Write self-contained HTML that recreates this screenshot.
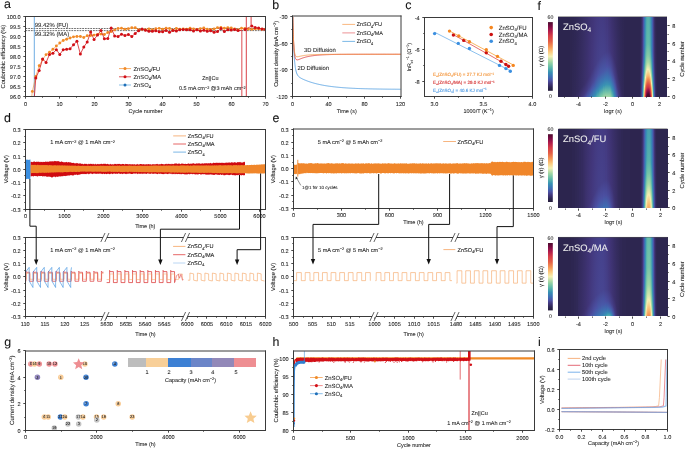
<!DOCTYPE html>
<html><head><meta charset="utf-8"><style>
html,body{margin:0;padding:0;background:#fff;width:685px;height:449px;overflow:hidden}
svg{display:block;will-change:transform}
text{font-family:"Liberation Sans", sans-serif;text-rendering:geometricPrecision;stroke-width:0.07px;paint-order:stroke}
</style></head><body>
<svg width="685" height="449" viewBox="0 0 685 449" font-family="Liberation Sans, sans-serif">
<defs><clipPath id="clipA"><rect x="25.5" y="16.5" width="240.0" height="80.2"/></clipPath><clipPath id="clipB"><rect x="292.8" y="16.5" width="108.0" height="80.0"/></clipPath><clipPath id="clipD2"><rect x="25.2" y="237.2" width="240.3" height="79.40000000000003"/></clipPath><clipPath id="clipE2"><rect x="293.4" y="237.3" width="239.89999999999998" height="79.30000000000001"/></clipPath><linearGradient id="h1" x1="0" y1="0" x2="0" y2="1"><stop offset="0" stop-color="#2d2651"/><stop offset="1" stop-color="#2f2855"/></linearGradient><linearGradient id="h2" x1="0" y1="0" x2="0" y2="1"><stop offset="0" stop-color="#2e2753"/><stop offset="0.98" stop-color="#302957"/><stop offset="1" stop-color="#322a5a"/></linearGradient><linearGradient id="h3" x1="0" y1="0" x2="0" y2="1"><stop offset="0" stop-color="#2f2855"/><stop offset="0.95" stop-color="#322a5a"/><stop offset="1" stop-color="#352c60"/></linearGradient><linearGradient id="h4" x1="0" y1="0" x2="0" y2="1"><stop offset="0" stop-color="#302857"/><stop offset="0.94" stop-color="#322a5b"/><stop offset="1" stop-color="#372d64"/></linearGradient><linearGradient id="h5" x1="0" y1="0" x2="0" y2="1"><stop offset="0" stop-color="#312958"/><stop offset="0.93" stop-color="#332b5d"/><stop offset="1" stop-color="#392f68"/></linearGradient><linearGradient id="h6" x1="0" y1="0" x2="0" y2="1"><stop offset="0" stop-color="#322a5a"/><stop offset="0.91" stop-color="#342c5f"/><stop offset="1" stop-color="#3b316d"/></linearGradient><linearGradient id="h7" x1="0" y1="0" x2="0" y2="1"><stop offset="0" stop-color="#332a5c"/><stop offset="0.9" stop-color="#352c61"/><stop offset="1" stop-color="#3e3372"/></linearGradient><linearGradient id="h8" x1="0" y1="0" x2="0" y2="1"><stop offset="0" stop-color="#342b5e"/><stop offset="0.88" stop-color="#362d63"/><stop offset="1" stop-color="#413578"/></linearGradient><linearGradient id="h9" x1="0" y1="0" x2="0" y2="1"><stop offset="0" stop-color="#352c60"/><stop offset="0.87" stop-color="#372e65"/><stop offset="0.99" stop-color="#42377b"/><stop offset="1" stop-color="#433980"/></linearGradient><linearGradient id="h10" x1="0" y1="0" x2="0" y2="1"><stop offset="0" stop-color="#362d62"/><stop offset="0.85" stop-color="#382f67"/><stop offset="0.97" stop-color="#42377c"/><stop offset="1" stop-color="#453f88"/></linearGradient><linearGradient id="h11" x1="0" y1="0" x2="0" y2="1"><stop offset="0" stop-color="#372e64"/><stop offset="0.84" stop-color="#3a306a"/><stop offset="0.96" stop-color="#43397f"/><stop offset="1" stop-color="#474591"/></linearGradient><linearGradient id="h12" x1="0" y1="0" x2="0" y2="1"><stop offset="0" stop-color="#382e67"/><stop offset="0.82" stop-color="#3b316c"/><stop offset="0.94" stop-color="#433a80"/><stop offset="1" stop-color="#494b9a"/></linearGradient><linearGradient id="h13" x1="0" y1="0" x2="0" y2="1"><stop offset="0" stop-color="#392f69"/><stop offset="0.8" stop-color="#3c316f"/><stop offset="0.93" stop-color="#443c84"/><stop offset="1" stop-color="#4b52a5"/></linearGradient><linearGradient id="h14" x1="0" y1="0" x2="0" y2="1"><stop offset="0" stop-color="#3a306b"/><stop offset="0.78" stop-color="#3d3271"/><stop offset="0.91" stop-color="#443e86"/><stop offset="0.99" stop-color="#4957a7"/><stop offset="1" stop-color="#4859a9"/></linearGradient><linearGradient id="h15" x1="0" y1="0" x2="0" y2="1"><stop offset="0" stop-color="#3c316e"/><stop offset="0.76" stop-color="#3f3374"/><stop offset="0.89" stop-color="#45408a"/><stop offset="0.98" stop-color="#4858a8"/><stop offset="1" stop-color="#4461ad"/></linearGradient><linearGradient id="h16" x1="0" y1="0" x2="0" y2="1"><stop offset="0" stop-color="#3d3270"/><stop offset="0.74" stop-color="#403477"/><stop offset="0.88" stop-color="#46428c"/><stop offset="0.96" stop-color="#4858a8"/><stop offset="1" stop-color="#4069b1"/></linearGradient><linearGradient id="h17" x1="0" y1="0" x2="0" y2="1"><stop offset="0" stop-color="#3e3373"/><stop offset="0.72" stop-color="#413579"/><stop offset="0.86" stop-color="#46438f"/><stop offset="0.94" stop-color="#4859a8"/><stop offset="1" stop-color="#3d72b4"/></linearGradient><linearGradient id="h18" x1="0" y1="0" x2="0" y2="1"><stop offset="0" stop-color="#3f3475"/><stop offset="0.69" stop-color="#42377c"/><stop offset="0.84" stop-color="#474591"/><stop offset="0.91" stop-color="#4957a8"/><stop offset="0.99" stop-color="#3c77b4"/><stop offset="1" stop-color="#3b7ab4"/></linearGradient><linearGradient id="h19" x1="0" y1="0" x2="0" y2="1"><stop offset="0" stop-color="#403577"/><stop offset="0.67" stop-color="#43387e"/><stop offset="0.82" stop-color="#484794"/><stop offset="0.89" stop-color="#4858a8"/><stop offset="0.98" stop-color="#3b78b4"/><stop offset="1" stop-color="#3982b4"/></linearGradient><linearGradient id="h20" x1="0" y1="0" x2="0" y2="1"><stop offset="0" stop-color="#413579"/><stop offset="0.65" stop-color="#433a81"/><stop offset="0.81" stop-color="#494998"/><stop offset="0.88" stop-color="#475baa"/><stop offset="0.96" stop-color="#3b7bb4"/><stop offset="1" stop-color="#388bb4"/></linearGradient><linearGradient id="h21" x1="0" y1="0" x2="0" y2="1"><stop offset="0" stop-color="#42377b"/><stop offset="0.62" stop-color="#443c83"/><stop offset="0.79" stop-color="#494b9b"/><stop offset="0.87" stop-color="#455eab"/><stop offset="0.95" stop-color="#3a7db4"/><stop offset="1" stop-color="#3a94b3"/></linearGradient><linearGradient id="h22" x1="0" y1="0" x2="0" y2="1"><stop offset="0" stop-color="#42387d"/><stop offset="0.6" stop-color="#443d85"/><stop offset="0.77" stop-color="#4a4d9d"/><stop offset="0.88" stop-color="#4068b0"/><stop offset="0.98" stop-color="#3791b3"/><stop offset="1" stop-color="#449eb0"/></linearGradient><linearGradient id="h23" x1="0" y1="0" x2="0" y2="1"><stop offset="0" stop-color="#43397f"/><stop offset="0.58" stop-color="#453e87"/><stop offset="0.75" stop-color="#4a4e9f"/><stop offset="0.89" stop-color="#3c73b4"/><stop offset="0.96" stop-color="#3a94b3"/><stop offset="1" stop-color="#4ea8ae"/></linearGradient><linearGradient id="h24" x1="0" y1="0" x2="0" y2="1"><stop offset="0" stop-color="#433a80"/><stop offset="0.56" stop-color="#454089"/><stop offset="0.73" stop-color="#4b4fa1"/><stop offset="0.88" stop-color="#3c75b4"/><stop offset="0.94" stop-color="#3993b3"/><stop offset="1" stop-color="#58b2ab"/></linearGradient><linearGradient id="h25" x1="0" y1="0" x2="0" y2="1"><stop offset="0" stop-color="#433a81"/><stop offset="0.54" stop-color="#45408a"/><stop offset="0.71" stop-color="#4b50a2"/><stop offset="0.86" stop-color="#3c75b4"/><stop offset="0.93" stop-color="#3892b3"/><stop offset="1" stop-color="#62baa9"/></linearGradient><linearGradient id="h26" x1="0" y1="0" x2="0" y2="1"><stop offset="0" stop-color="#433b82"/><stop offset="0.52" stop-color="#46418b"/><stop offset="0.73" stop-color="#4956a7"/><stop offset="0.86" stop-color="#3b7bb4"/><stop offset="0.91" stop-color="#3993b3"/><stop offset="1" stop-color="#6fc0a8"/></linearGradient><linearGradient id="h27" x1="0" y1="0" x2="0" y2="1"><stop offset="0" stop-color="#443b82"/><stop offset="0.51" stop-color="#46428c"/><stop offset="0.71" stop-color="#4858a8"/><stop offset="0.84" stop-color="#3b7cb4"/><stop offset="0.9" stop-color="#3a94b3"/><stop offset="0.98" stop-color="#6dbfa8"/><stop offset="1" stop-color="#7bc5a7"/></linearGradient><linearGradient id="h28" x1="0" y1="0" x2="0" y2="1"><stop offset="0" stop-color="#443b82"/><stop offset="0.49" stop-color="#46428c"/><stop offset="0.7" stop-color="#4858a8"/><stop offset="0.83" stop-color="#3a7db4"/><stop offset="0.89" stop-color="#3a94b3"/><stop offset="0.97" stop-color="#6ec0a8"/><stop offset="1" stop-color="#85caa7"/></linearGradient><linearGradient id="h29" x1="0" y1="0" x2="0" y2="1"><stop offset="0" stop-color="#433b82"/><stop offset="0.48" stop-color="#46428c"/><stop offset="0.69" stop-color="#4859a8"/><stop offset="0.82" stop-color="#3a7db4"/><stop offset="0.88" stop-color="#3a94b3"/><stop offset="0.96" stop-color="#6dbfa8"/><stop offset="1" stop-color="#8fcfa6"/></linearGradient><linearGradient id="h30" x1="0" y1="0" x2="0" y2="1"><stop offset="0" stop-color="#433b81"/><stop offset="0.46" stop-color="#46418c"/><stop offset="0.68" stop-color="#4858a8"/><stop offset="0.81" stop-color="#3b7cb4"/><stop offset="0.86" stop-color="#3993b3"/><stop offset="0.94" stop-color="#6bbea9"/><stop offset="1" stop-color="#97d3a5"/></linearGradient><linearGradient id="h31" x1="0" y1="0" x2="0" y2="1"><stop offset="0" stop-color="#433a80"/><stop offset="0.46" stop-color="#46418b"/><stop offset="0.67" stop-color="#4859a8"/><stop offset="0.79" stop-color="#3b7bb4"/><stop offset="0.86" stop-color="#3993b3"/><stop offset="0.94" stop-color="#6cbfa8"/><stop offset="1" stop-color="#9dd5a5"/></linearGradient><linearGradient id="h32" x1="0" y1="0" x2="0" y2="1"><stop offset="0" stop-color="#43397e"/><stop offset="0.44" stop-color="#454089"/><stop offset="0.66" stop-color="#4957a7"/><stop offset="0.79" stop-color="#3b7cb4"/><stop offset="0.85" stop-color="#3993b3"/><stop offset="0.93" stop-color="#6bbea9"/><stop offset="1" stop-color="#a3d7a5"/></linearGradient><linearGradient id="h33" x1="0" y1="0" x2="0" y2="1"><stop offset="0" stop-color="#42377c"/><stop offset="0.44" stop-color="#453e87"/><stop offset="0.62" stop-color="#4b50a3"/><stop offset="0.78" stop-color="#3b79b4"/><stop offset="0.85" stop-color="#3b95b2"/><stop offset="0.93" stop-color="#68bda9"/><stop offset="1" stop-color="#a6d8a6"/></linearGradient><linearGradient id="h34" x1="0" y1="0" x2="0" y2="1"><stop offset="0" stop-color="#403577"/><stop offset="0.43" stop-color="#443b82"/><stop offset="0.61" stop-color="#4a4d9e"/><stop offset="0.78" stop-color="#3c76b4"/><stop offset="0.85" stop-color="#3a94b3"/><stop offset="0.93" stop-color="#69bda9"/><stop offset="1" stop-color="#a6d8a6"/></linearGradient><linearGradient id="h35" x1="0" y1="0" x2="0" y2="1"><stop offset="0" stop-color="#3f3474"/><stop offset="0.43" stop-color="#43397f"/><stop offset="0.61" stop-color="#494b9b"/><stop offset="0.71" stop-color="#455fac"/><stop offset="0.81" stop-color="#3a80b4"/><stop offset="0.85" stop-color="#3892b3"/><stop offset="0.93" stop-color="#6bbea9"/><stop offset="1" stop-color="#a2d7a5"/></linearGradient><linearGradient id="h36" x1="0" y1="0" x2="0" y2="1"><stop offset="0" stop-color="#3e3372"/><stop offset="0.44" stop-color="#42377c"/><stop offset="0.62" stop-color="#494a99"/><stop offset="0.71" stop-color="#465caa"/><stop offset="0.81" stop-color="#3a7db4"/><stop offset="0.86" stop-color="#3892b3"/><stop offset="0.94" stop-color="#6abea9"/><stop offset="1" stop-color="#95d1a5"/></linearGradient><linearGradient id="h37" x1="0" y1="0" x2="0" y2="1"><stop offset="0" stop-color="#3c316e"/><stop offset="0.46" stop-color="#413579"/><stop offset="0.64" stop-color="#484896"/><stop offset="0.73" stop-color="#4859a9"/><stop offset="0.83" stop-color="#3b7bb4"/><stop offset="0.89" stop-color="#3993b3"/><stop offset="0.98" stop-color="#6fc0a8"/><stop offset="1" stop-color="#7fc8a7"/></linearGradient><linearGradient id="h38" x1="0" y1="0" x2="0" y2="1"><stop offset="0" stop-color="#3a306b"/><stop offset="0.48" stop-color="#403476"/><stop offset="0.66" stop-color="#474591"/><stop offset="0.76" stop-color="#4858a8"/><stop offset="0.86" stop-color="#3b7bb4"/><stop offset="0.92" stop-color="#3993b3"/><stop offset="1" stop-color="#63bba9"/></linearGradient><linearGradient id="h39" x1="0" y1="0" x2="0" y2="1"><stop offset="0" stop-color="#392f68"/><stop offset="0.51" stop-color="#3e3372"/><stop offset="0.69" stop-color="#46418c"/><stop offset="0.79" stop-color="#4957a8"/><stop offset="0.89" stop-color="#3b78b4"/><stop offset="0.96" stop-color="#3b95b2"/><stop offset="1" stop-color="#4ba5ae"/></linearGradient><linearGradient id="h40" x1="0" y1="0" x2="0" y2="1"><stop offset="0" stop-color="#372e65"/><stop offset="0.54" stop-color="#3c316f"/><stop offset="0.73" stop-color="#453f88"/><stop offset="0.84" stop-color="#4858a8"/><stop offset="0.94" stop-color="#3b79b4"/><stop offset="1" stop-color="#378db4"/></linearGradient><linearGradient id="h41" x1="0" y1="0" x2="0" y2="1"><stop offset="0" stop-color="#362d62"/><stop offset="0.58" stop-color="#3b306c"/><stop offset="0.77" stop-color="#443c84"/><stop offset="0.89" stop-color="#4957a7"/><stop offset="0.99" stop-color="#3c77b4"/><stop offset="1" stop-color="#3b78b4"/></linearGradient><linearGradient id="h42" x1="0" y1="0" x2="0" y2="1"><stop offset="0" stop-color="#352c60"/><stop offset="0.62" stop-color="#392f68"/><stop offset="0.82" stop-color="#433a80"/><stop offset="0.96" stop-color="#4858a8"/><stop offset="1" stop-color="#4264ae"/></linearGradient><linearGradient id="h43" x1="0" y1="0" x2="0" y2="1"><stop offset="0" stop-color="#332b5d"/><stop offset="0.68" stop-color="#372e65"/><stop offset="0.88" stop-color="#42387d"/><stop offset="1" stop-color="#4b51a4"/></linearGradient><linearGradient id="h44" x1="0" y1="0" x2="0" y2="1"><stop offset="0" stop-color="#322a5b"/><stop offset="0.74" stop-color="#362d62"/><stop offset="0.93" stop-color="#42367a"/><stop offset="1" stop-color="#46428d"/></linearGradient><linearGradient id="h45" x1="0" y1="0" x2="0" y2="1"><stop offset="0" stop-color="#312958"/><stop offset="0.79" stop-color="#352c60"/><stop offset="0.99" stop-color="#413578"/><stop offset="1" stop-color="#42367a"/></linearGradient><linearGradient id="h46" x1="0" y1="0" x2="0" y2="1"><stop offset="0" stop-color="#302856"/><stop offset="0.85" stop-color="#332b5d"/><stop offset="1" stop-color="#3b316d"/></linearGradient><linearGradient id="h47" x1="0" y1="0" x2="0" y2="1"><stop offset="0" stop-color="#2f2855"/><stop offset="0.91" stop-color="#322a5b"/><stop offset="1" stop-color="#362d63"/></linearGradient><linearGradient id="h48" x1="0" y1="0" x2="0" y2="1"><stop offset="0" stop-color="#2e2753"/><stop offset="0.96" stop-color="#312959"/><stop offset="1" stop-color="#332a5c"/></linearGradient><linearGradient id="h49" x1="0" y1="0" x2="0" y2="1"><stop offset="0" stop-color="#2e2752"/><stop offset="1" stop-color="#302957"/></linearGradient><linearGradient id="h50" x1="0" y1="0" x2="0" y2="1"><stop offset="0" stop-color="#2e2752"/><stop offset="0.8" stop-color="#332a5c"/><stop offset="1" stop-color="#372e65"/></linearGradient><linearGradient id="h51" x1="0" y1="0" x2="0" y2="1"><stop offset="0" stop-color="#352c60"/><stop offset="0.62" stop-color="#3a306a"/><stop offset="0.9" stop-color="#453f88"/><stop offset="1" stop-color="#484896"/></linearGradient><linearGradient id="h52" x1="0" y1="0" x2="0" y2="1"><stop offset="0" stop-color="#42367a"/><stop offset="0.49" stop-color="#443d86"/><stop offset="0.71" stop-color="#4b51a4"/><stop offset="0.92" stop-color="#3b78b4"/><stop offset="1" stop-color="#3986b4"/></linearGradient><linearGradient id="h53" x1="0" y1="0" x2="0" y2="1"><stop offset="0" stop-color="#4b52a5"/><stop offset="0.46" stop-color="#455eab"/><stop offset="0.7" stop-color="#3a7fb4"/><stop offset="0.78" stop-color="#3b95b2"/><stop offset="0.89" stop-color="#6bbea9"/><stop offset="1" stop-color="#a9d9a6"/></linearGradient><linearGradient id="h54" x1="0" y1="0" x2="0" y2="1"><stop offset="0" stop-color="#3c73b4"/><stop offset="0.42" stop-color="#3a80b4"/><stop offset="0.57" stop-color="#3a94b3"/><stop offset="0.7" stop-color="#61baa9"/><stop offset="0.8" stop-color="#a6d8a6"/><stop offset="0.87" stop-color="#f4efb3"/><stop offset="0.94" stop-color="#faba71"/><stop offset="1" stop-color="#f49354"/></linearGradient><linearGradient id="h55" x1="0" y1="0" x2="0" y2="1"><stop offset="0" stop-color="#3790b4"/><stop offset="0.36" stop-color="#429cb1"/><stop offset="0.54" stop-color="#60b9a9"/><stop offset="0.66" stop-color="#95d2a5"/><stop offset="0.72" stop-color="#cbe3ac"/><stop offset="0.76" stop-color="#f5efb3"/><stop offset="0.83" stop-color="#f9b56e"/><stop offset="0.87" stop-color="#f28e52"/><stop offset="0.92" stop-color="#e25a46"/><stop offset="0.97" stop-color="#d23a48"/><stop offset="1" stop-color="#c02a4a"/></linearGradient><linearGradient id="h56" x1="0" y1="0" x2="0" y2="1"><stop offset="0" stop-color="#4ba5ae"/><stop offset="0.36" stop-color="#5ab4ab"/><stop offset="0.49" stop-color="#77c4a8"/><stop offset="0.6" stop-color="#a5d8a5"/><stop offset="0.69" stop-color="#f5edb0"/><stop offset="0.76" stop-color="#fabc73"/><stop offset="0.81" stop-color="#f38f53"/><stop offset="0.86" stop-color="#e05546"/><stop offset="0.9" stop-color="#d03848"/><stop offset="0.94" stop-color="#a0164a"/><stop offset="0.99" stop-color="#660b3a"/><stop offset="1" stop-color="#5c0a35"/></linearGradient><linearGradient id="h57" x1="0" y1="0" x2="0" y2="1"><stop offset="0" stop-color="#55afac"/><stop offset="0.33" stop-color="#62baa9"/><stop offset="0.48" stop-color="#83c9a7"/><stop offset="0.57" stop-color="#a8d9a6"/><stop offset="0.66" stop-color="#f5efb3"/><stop offset="0.74" stop-color="#fabc74"/><stop offset="0.78" stop-color="#f39153"/><stop offset="0.84" stop-color="#e05646"/><stop offset="0.88" stop-color="#d13948"/><stop offset="0.92" stop-color="#9e1549"/><stop offset="0.96" stop-color="#620b38"/><stop offset="0.98" stop-color="#4b0a2d"/><stop offset="1" stop-color="#4b0a2d"/></linearGradient><linearGradient id="h58" x1="0" y1="0" x2="0" y2="1"><stop offset="0" stop-color="#56b0ac"/><stop offset="0.33" stop-color="#63bba9"/><stop offset="0.48" stop-color="#84caa7"/><stop offset="0.57" stop-color="#aadaa6"/><stop offset="0.66" stop-color="#f5eeb1"/><stop offset="0.74" stop-color="#faba72"/><stop offset="0.78" stop-color="#f28e53"/><stop offset="0.84" stop-color="#e05446"/><stop offset="0.88" stop-color="#cf3748"/><stop offset="0.91" stop-color="#a4174a"/><stop offset="0.95" stop-color="#670b3b"/><stop offset="0.97" stop-color="#4c0a2d"/><stop offset="1" stop-color="#4b0a2d"/></linearGradient><linearGradient id="h59" x1="0" y1="0" x2="0" y2="1"><stop offset="0" stop-color="#50aaad"/><stop offset="0.35" stop-color="#5eb8aa"/><stop offset="0.5" stop-color="#81c8a7"/><stop offset="0.59" stop-color="#a9d9a6"/><stop offset="0.68" stop-color="#f4efb3"/><stop offset="0.75" stop-color="#fabc73"/><stop offset="0.79" stop-color="#f39053"/><stop offset="0.85" stop-color="#e05546"/><stop offset="0.89" stop-color="#d03848"/><stop offset="0.93" stop-color="#9e1549"/><stop offset="0.97" stop-color="#660b3a"/><stop offset="0.99" stop-color="#4b0a2d"/><stop offset="1" stop-color="#4b0a2d"/></linearGradient><linearGradient id="h60" x1="0" y1="0" x2="0" y2="1"><stop offset="0" stop-color="#3f99b1"/><stop offset="0.36" stop-color="#4da7ae"/><stop offset="0.51" stop-color="#66bca9"/><stop offset="0.63" stop-color="#9bd4a5"/><stop offset="0.71" stop-color="#dde9af"/><stop offset="0.73" stop-color="#f5edb0"/><stop offset="0.8" stop-color="#fab971"/><stop offset="0.84" stop-color="#f18b52"/><stop offset="0.89" stop-color="#e15846"/><stop offset="0.94" stop-color="#d03848"/><stop offset="0.99" stop-color="#a5174a"/><stop offset="1" stop-color="#9b1449"/></linearGradient><linearGradient id="h61" x1="0" y1="0" x2="0" y2="1"><stop offset="0" stop-color="#3a7eb4"/><stop offset="0.41" stop-color="#388bb4"/><stop offset="0.5" stop-color="#3d97b2"/><stop offset="0.64" stop-color="#61baa9"/><stop offset="0.74" stop-color="#9ed6a5"/><stop offset="0.83" stop-color="#f5eeb1"/><stop offset="0.9" stop-color="#f9b36c"/><stop offset="0.94" stop-color="#f28f53"/><stop offset="1" stop-color="#e45f46"/></linearGradient><linearGradient id="h62" x1="0" y1="0" x2="0" y2="1"><stop offset="0" stop-color="#455eab"/><stop offset="0.44" stop-color="#3f6ab2"/><stop offset="0.66" stop-color="#3888b4"/><stop offset="0.71" stop-color="#3a94b3"/><stop offset="0.82" stop-color="#68bda9"/><stop offset="0.91" stop-color="#aedba7"/><stop offset="0.99" stop-color="#f2efb3"/><stop offset="1" stop-color="#f5edb0"/></linearGradient><linearGradient id="h63" x1="0" y1="0" x2="0" y2="1"><stop offset="0" stop-color="#453f88"/><stop offset="0.46" stop-color="#484794"/><stop offset="0.66" stop-color="#475aa9"/><stop offset="0.84" stop-color="#3b7cb4"/><stop offset="0.93" stop-color="#3a94b3"/><stop offset="1" stop-color="#4ca6ae"/></linearGradient><linearGradient id="h64" x1="0" y1="0" x2="0" y2="1"><stop offset="0" stop-color="#382f67"/><stop offset="0.57" stop-color="#3e3372"/><stop offset="0.81" stop-color="#46438f"/><stop offset="0.96" stop-color="#4957a8"/><stop offset="1" stop-color="#475baa"/></linearGradient><linearGradient id="h65" x1="0" y1="0" x2="0" y2="1"><stop offset="0" stop-color="#302856"/><stop offset="0.73" stop-color="#342c5f"/><stop offset="1" stop-color="#3d3271"/></linearGradient><linearGradient id="h66" x1="0" y1="0" x2="0" y2="1"><stop offset="0" stop-color="#2d2650"/><stop offset="1" stop-color="#302857"/></linearGradient><linearGradient id="cbar" x1="0" y1="0" x2="0" y2="1"><stop offset="0" stop-color="rgb(75,10,45)"/><stop offset="0.06" stop-color="rgb(122,12,68)"/><stop offset="0.12" stop-color="rgb(172,25,76)"/><stop offset="0.2" stop-color="rgb(215,62,72)"/><stop offset="0.28" stop-color="rgb(228,95,70)"/><stop offset="0.36" stop-color="rgb(245,150,85)"/><stop offset="0.43" stop-color="rgb(252,200,125)"/><stop offset="0.5" stop-color="rgb(245,240,180)"/><stop offset="0.58" stop-color="rgb(160,215,165)"/><stop offset="0.66" stop-color="rgb(95,185,170)"/><stop offset="0.73" stop-color="rgb(55,145,180)"/><stop offset="0.8" stop-color="rgb(62,110,180)"/><stop offset="0.85" stop-color="rgb(76,82,165)"/><stop offset="0.9" stop-color="rgb(66,54,122)"/><stop offset="0.95" stop-color="rgb(46,39,82)"/><stop offset="1" stop-color="rgb(38,30,60)"/></linearGradient><linearGradient id="h67" x1="0" y1="0" x2="0" y2="1"><stop offset="0" stop-color="#392f68"/><stop offset="1" stop-color="#3b306c"/></linearGradient><linearGradient id="h68" x1="0" y1="0" x2="0" y2="1"><stop offset="0" stop-color="#3a306a"/><stop offset="1" stop-color="#3c326f"/></linearGradient><linearGradient id="h69" x1="0" y1="0" x2="0" y2="1"><stop offset="0" stop-color="#3b316d"/><stop offset="0.98" stop-color="#3e3372"/><stop offset="1" stop-color="#3e3373"/></linearGradient><linearGradient id="h70" x1="0" y1="0" x2="0" y2="1"><stop offset="0" stop-color="#3c326f"/><stop offset="0.96" stop-color="#3f3475"/><stop offset="1" stop-color="#413578"/></linearGradient><linearGradient id="h71" x1="0" y1="0" x2="0" y2="1"><stop offset="0" stop-color="#3e3372"/><stop offset="0.94" stop-color="#403577"/><stop offset="1" stop-color="#42377c"/></linearGradient><linearGradient id="h72" x1="0" y1="0" x2="0" y2="1"><stop offset="0" stop-color="#3f3474"/><stop offset="0.92" stop-color="#42367a"/><stop offset="1" stop-color="#433b82"/></linearGradient><linearGradient id="h73" x1="0" y1="0" x2="0" y2="1"><stop offset="0" stop-color="#403477"/><stop offset="0.89" stop-color="#42377c"/><stop offset="1" stop-color="#453f88"/></linearGradient><linearGradient id="h74" x1="0" y1="0" x2="0" y2="1"><stop offset="0" stop-color="#413579"/><stop offset="0.87" stop-color="#43397f"/><stop offset="1" stop-color="#46438e"/></linearGradient><linearGradient id="h75" x1="0" y1="0" x2="0" y2="1"><stop offset="0" stop-color="#42367b"/><stop offset="0.84" stop-color="#433a81"/><stop offset="1" stop-color="#484794"/></linearGradient><linearGradient id="h76" x1="0" y1="0" x2="0" y2="1"><stop offset="0" stop-color="#42387d"/><stop offset="0.82" stop-color="#443c83"/><stop offset="1" stop-color="#494b9b"/></linearGradient><linearGradient id="h77" x1="0" y1="0" x2="0" y2="1"><stop offset="0" stop-color="#43397f"/><stop offset="0.8" stop-color="#443d85"/><stop offset="0.97" stop-color="#4a4c9d"/><stop offset="1" stop-color="#4b50a2"/></linearGradient><linearGradient id="h78" x1="0" y1="0" x2="0" y2="1"><stop offset="0" stop-color="#433a80"/><stop offset="0.77" stop-color="#453e87"/><stop offset="0.95" stop-color="#4a4d9d"/><stop offset="1" stop-color="#4a55a6"/></linearGradient><linearGradient id="h79" x1="0" y1="0" x2="0" y2="1"><stop offset="0" stop-color="#433b82"/><stop offset="0.75" stop-color="#453f88"/><stop offset="0.94" stop-color="#4b4fa0"/><stop offset="1" stop-color="#4859a9"/></linearGradient><linearGradient id="h80" x1="0" y1="0" x2="0" y2="1"><stop offset="0" stop-color="#443b83"/><stop offset="0.73" stop-color="#45408a"/><stop offset="0.92" stop-color="#4b50a2"/><stop offset="1" stop-color="#455eab"/></linearGradient><linearGradient id="h81" x1="0" y1="0" x2="0" y2="1"><stop offset="0" stop-color="#443c83"/><stop offset="0.72" stop-color="#45408a"/><stop offset="0.9" stop-color="#4b50a2"/><stop offset="1" stop-color="#4362ad"/></linearGradient><linearGradient id="h82" x1="0" y1="0" x2="0" y2="1"><stop offset="0" stop-color="#443c84"/><stop offset="0.7" stop-color="#46418b"/><stop offset="0.89" stop-color="#4b51a3"/><stop offset="1" stop-color="#4166af"/></linearGradient><linearGradient id="h83" x1="0" y1="0" x2="0" y2="1"><stop offset="0" stop-color="#443c84"/><stop offset="0.68" stop-color="#46418b"/><stop offset="0.87" stop-color="#4b50a2"/><stop offset="1" stop-color="#4069b1"/></linearGradient><linearGradient id="h84" x1="0" y1="0" x2="0" y2="1"><stop offset="0" stop-color="#443b82"/><stop offset="0.66" stop-color="#45408a"/><stop offset="0.85" stop-color="#4b50a2"/><stop offset="1" stop-color="#3d6eb4"/></linearGradient><linearGradient id="h85" x1="0" y1="0" x2="0" y2="1"><stop offset="0" stop-color="#43397f"/><stop offset="0.65" stop-color="#453e87"/><stop offset="0.84" stop-color="#4a4e9f"/><stop offset="1" stop-color="#3d70b4"/></linearGradient><linearGradient id="h86" x1="0" y1="0" x2="0" y2="1"><stop offset="0" stop-color="#42367a"/><stop offset="0.65" stop-color="#433b82"/><stop offset="0.84" stop-color="#494b9b"/><stop offset="0.94" stop-color="#455fac"/><stop offset="1" stop-color="#3d6eb4"/></linearGradient><linearGradient id="h87" x1="0" y1="0" x2="0" y2="1"><stop offset="0" stop-color="#413578"/><stop offset="0.65" stop-color="#43397f"/><stop offset="0.84" stop-color="#494998"/><stop offset="0.94" stop-color="#475baa"/><stop offset="1" stop-color="#3f6ab1"/></linearGradient><linearGradient id="h88" x1="0" y1="0" x2="0" y2="1"><stop offset="0" stop-color="#3f3475"/><stop offset="0.67" stop-color="#42377c"/><stop offset="0.86" stop-color="#484896"/><stop offset="0.96" stop-color="#4859a9"/><stop offset="1" stop-color="#4362ad"/></linearGradient><linearGradient id="h89" x1="0" y1="0" x2="0" y2="1"><stop offset="0" stop-color="#3e3372"/><stop offset="0.69" stop-color="#413579"/><stop offset="0.89" stop-color="#474692"/><stop offset="0.99" stop-color="#4858a8"/><stop offset="1" stop-color="#4859a8"/></linearGradient><linearGradient id="h90" x1="0" y1="0" x2="0" y2="1"><stop offset="0" stop-color="#3c316f"/><stop offset="0.72" stop-color="#403476"/><stop offset="0.92" stop-color="#46438e"/><stop offset="1" stop-color="#4a4e9f"/></linearGradient><linearGradient id="h91" x1="0" y1="0" x2="0" y2="1"><stop offset="0" stop-color="#3a306b"/><stop offset="0.75" stop-color="#3e3373"/><stop offset="0.99" stop-color="#46438e"/><stop offset="1" stop-color="#474490"/></linearGradient><linearGradient id="h92" x1="0" y1="0" x2="0" y2="1"><stop offset="0" stop-color="#392f68"/><stop offset="0.8" stop-color="#3c326f"/><stop offset="1" stop-color="#433b81"/></linearGradient><linearGradient id="h93" x1="0" y1="0" x2="0" y2="1"><stop offset="0" stop-color="#372e65"/><stop offset="0.85" stop-color="#3b316c"/><stop offset="1" stop-color="#403476"/></linearGradient><linearGradient id="h94" x1="0" y1="0" x2="0" y2="1"><stop offset="0" stop-color="#362d62"/><stop offset="0.92" stop-color="#392f69"/><stop offset="1" stop-color="#3b316d"/></linearGradient><linearGradient id="h95" x1="0" y1="0" x2="0" y2="1"><stop offset="0" stop-color="#352c60"/><stop offset="1" stop-color="#382e66"/></linearGradient><linearGradient id="h96" x1="0" y1="0" x2="0" y2="1"><stop offset="0" stop-color="#332b5d"/><stop offset="1" stop-color="#352c60"/></linearGradient><linearGradient id="h97" x1="0" y1="0" x2="0" y2="1"><stop offset="0" stop-color="#2d2650"/><stop offset="1" stop-color="#2e2753"/></linearGradient><linearGradient id="h98" x1="0" y1="0" x2="0" y2="1"><stop offset="0" stop-color="#302857"/><stop offset="0.91" stop-color="#362d62"/><stop offset="1" stop-color="#372e64"/></linearGradient><linearGradient id="h99" x1="0" y1="0" x2="0" y2="1"><stop offset="0" stop-color="#392f68"/><stop offset="0.66" stop-color="#3f3475"/><stop offset="1" stop-color="#46428d"/></linearGradient><linearGradient id="h100" x1="0" y1="0" x2="0" y2="1"><stop offset="0" stop-color="#453f87"/><stop offset="0.52" stop-color="#484896"/><stop offset="0.77" stop-color="#475aa9"/><stop offset="1" stop-color="#3d71b4"/></linearGradient><linearGradient id="h101" x1="0" y1="0" x2="0" y2="1"><stop offset="0" stop-color="#475baa"/><stop offset="0.5" stop-color="#3f6bb2"/><stop offset="0.82" stop-color="#378fb4"/><stop offset="1" stop-color="#55afac"/></linearGradient><linearGradient id="h102" x1="0" y1="0" x2="0" y2="1"><stop offset="0" stop-color="#3b79b4"/><stop offset="0.46" stop-color="#3889b4"/><stop offset="0.58" stop-color="#3c96b2"/><stop offset="0.78" stop-color="#65bba9"/><stop offset="0.98" stop-color="#b4dda8"/><stop offset="1" stop-color="#badea9"/></linearGradient><linearGradient id="h103" x1="0" y1="0" x2="0" y2="1"><stop offset="0" stop-color="#378fb4"/><stop offset="0.35" stop-color="#419bb1"/><stop offset="0.6" stop-color="#61b9a9"/><stop offset="0.78" stop-color="#9fd6a5"/><stop offset="0.92" stop-color="#f5efb3"/><stop offset="1" stop-color="#f9d792"/></linearGradient><linearGradient id="h104" x1="0" y1="0" x2="0" y2="1"><stop offset="0" stop-color="#429cb1"/><stop offset="0.39" stop-color="#54aeac"/><stop offset="0.54" stop-color="#6cbfa8"/><stop offset="0.71" stop-color="#a1d7a5"/><stop offset="0.85" stop-color="#f5edb0"/><stop offset="0.97" stop-color="#fabe75"/><stop offset="1" stop-color="#f9b46d"/></linearGradient><linearGradient id="h105" x1="0" y1="0" x2="0" y2="1"><stop offset="0" stop-color="#46a0b0"/><stop offset="0.39" stop-color="#58b2ab"/><stop offset="0.56" stop-color="#76c3a8"/><stop offset="0.7" stop-color="#a9d9a6"/><stop offset="0.83" stop-color="#f5edb1"/><stop offset="0.96" stop-color="#fab971"/><stop offset="1" stop-color="#f7aa65"/></linearGradient><linearGradient id="h106" x1="0" y1="0" x2="0" y2="1"><stop offset="0" stop-color="#459fb0"/><stop offset="0.39" stop-color="#57b1ab"/><stop offset="0.54" stop-color="#70c1a8"/><stop offset="0.7" stop-color="#a5d8a5"/><stop offset="0.84" stop-color="#f5eeb1"/><stop offset="0.96" stop-color="#fabb72"/><stop offset="1" stop-color="#f8ae68"/></linearGradient><linearGradient id="h107" x1="0" y1="0" x2="0" y2="1"><stop offset="0" stop-color="#3b95b2"/><stop offset="0.41" stop-color="#4da7ae"/><stop offset="0.58" stop-color="#67bda9"/><stop offset="0.75" stop-color="#a0d7a5"/><stop offset="0.89" stop-color="#f5eeb1"/><stop offset="1" stop-color="#fbc97f"/></linearGradient><linearGradient id="h108" x1="0" y1="0" x2="0" y2="1"><stop offset="0" stop-color="#3a81b4"/><stop offset="0.44" stop-color="#3892b3"/><stop offset="0.69" stop-color="#5db7aa"/><stop offset="0.87" stop-color="#a3d8a5"/><stop offset="0.99" stop-color="#e2eab0"/><stop offset="1" stop-color="#e3eab0"/></linearGradient><linearGradient id="h109" x1="0" y1="0" x2="0" y2="1"><stop offset="0" stop-color="#4167b0"/><stop offset="0.5" stop-color="#3c77b4"/><stop offset="0.75" stop-color="#3a94b3"/><stop offset="0.98" stop-color="#71c1a8"/><stop offset="1" stop-color="#75c3a8"/></linearGradient><linearGradient id="h110" x1="0" y1="0" x2="0" y2="1"><stop offset="0" stop-color="#484896"/><stop offset="0.56" stop-color="#4957a7"/><stop offset="0.91" stop-color="#3b7bb4"/><stop offset="1" stop-color="#3985b4"/></linearGradient><linearGradient id="h111" x1="0" y1="0" x2="0" y2="1"><stop offset="0" stop-color="#3d3271"/><stop offset="0.59" stop-color="#43397e"/><stop offset="1" stop-color="#4b51a3"/></linearGradient><linearGradient id="h112" x1="0" y1="0" x2="0" y2="1"><stop offset="0" stop-color="#322a5b"/><stop offset="0.8" stop-color="#382f67"/><stop offset="1" stop-color="#3c326f"/></linearGradient><linearGradient id="h113" x1="0" y1="0" x2="0" y2="1"><stop offset="0" stop-color="#2d2651"/><stop offset="1" stop-color="#302957"/></linearGradient><linearGradient id="cbar" x1="0" y1="0" x2="0" y2="1"><stop offset="0" stop-color="rgb(75,10,45)"/><stop offset="0.06" stop-color="rgb(122,12,68)"/><stop offset="0.12" stop-color="rgb(172,25,76)"/><stop offset="0.2" stop-color="rgb(215,62,72)"/><stop offset="0.28" stop-color="rgb(228,95,70)"/><stop offset="0.36" stop-color="rgb(245,150,85)"/><stop offset="0.43" stop-color="rgb(252,200,125)"/><stop offset="0.5" stop-color="rgb(245,240,180)"/><stop offset="0.58" stop-color="rgb(160,215,165)"/><stop offset="0.66" stop-color="rgb(95,185,170)"/><stop offset="0.73" stop-color="rgb(55,145,180)"/><stop offset="0.8" stop-color="rgb(62,110,180)"/><stop offset="0.85" stop-color="rgb(76,82,165)"/><stop offset="0.9" stop-color="rgb(66,54,122)"/><stop offset="0.95" stop-color="rgb(46,39,82)"/><stop offset="1" stop-color="rgb(38,30,60)"/></linearGradient><linearGradient id="h114" x1="0" y1="0" x2="0" y2="1"><stop offset="0" stop-color="#322a5a"/><stop offset="1" stop-color="#342c5f"/></linearGradient><linearGradient id="h115" x1="0" y1="0" x2="0" y2="1"><stop offset="0" stop-color="#332b5c"/><stop offset="0.99" stop-color="#352c61"/><stop offset="1" stop-color="#362d62"/></linearGradient><linearGradient id="h116" x1="0" y1="0" x2="0" y2="1"><stop offset="0" stop-color="#342b5f"/><stop offset="0.97" stop-color="#372d64"/><stop offset="1" stop-color="#382e66"/></linearGradient><linearGradient id="h117" x1="0" y1="0" x2="0" y2="1"><stop offset="0" stop-color="#352c61"/><stop offset="0.96" stop-color="#382e66"/><stop offset="1" stop-color="#392f69"/></linearGradient><linearGradient id="h118" x1="0" y1="0" x2="0" y2="1"><stop offset="0" stop-color="#362d63"/><stop offset="0.95" stop-color="#392f69"/><stop offset="1" stop-color="#3c316e"/></linearGradient><linearGradient id="h119" x1="0" y1="0" x2="0" y2="1"><stop offset="0" stop-color="#382e66"/><stop offset="0.93" stop-color="#3a306b"/><stop offset="1" stop-color="#3e3372"/></linearGradient><linearGradient id="h120" x1="0" y1="0" x2="0" y2="1"><stop offset="0" stop-color="#392f68"/><stop offset="0.92" stop-color="#3c316e"/><stop offset="1" stop-color="#403577"/></linearGradient><linearGradient id="h121" x1="0" y1="0" x2="0" y2="1"><stop offset="0" stop-color="#3a306b"/><stop offset="0.9" stop-color="#3d3270"/><stop offset="1" stop-color="#42387d"/></linearGradient><linearGradient id="h122" x1="0" y1="0" x2="0" y2="1"><stop offset="0" stop-color="#3c316e"/><stop offset="0.89" stop-color="#3e3373"/><stop offset="1" stop-color="#443c83"/></linearGradient><linearGradient id="h123" x1="0" y1="0" x2="0" y2="1"><stop offset="0" stop-color="#3d3271"/><stop offset="0.87" stop-color="#403476"/><stop offset="1" stop-color="#45408a"/></linearGradient><linearGradient id="h124" x1="0" y1="0" x2="0" y2="1"><stop offset="0" stop-color="#3e3373"/><stop offset="0.85" stop-color="#413579"/><stop offset="1" stop-color="#474591"/></linearGradient><linearGradient id="h125" x1="0" y1="0" x2="0" y2="1"><stop offset="0" stop-color="#403476"/><stop offset="0.84" stop-color="#42377c"/><stop offset="0.98" stop-color="#474693"/><stop offset="1" stop-color="#494998"/></linearGradient><linearGradient id="h126" x1="0" y1="0" x2="0" y2="1"><stop offset="0" stop-color="#413579"/><stop offset="0.82" stop-color="#43397f"/><stop offset="0.96" stop-color="#484795"/><stop offset="1" stop-color="#4a4ea0"/></linearGradient><linearGradient id="h127" x1="0" y1="0" x2="0" y2="1"><stop offset="0" stop-color="#42377c"/><stop offset="0.8" stop-color="#433b82"/><stop offset="0.95" stop-color="#494998"/><stop offset="1" stop-color="#4b53a6"/></linearGradient><linearGradient id="h128" x1="0" y1="0" x2="0" y2="1"><stop offset="0" stop-color="#43397e"/><stop offset="0.78" stop-color="#443d84"/><stop offset="0.93" stop-color="#494a9a"/><stop offset="1" stop-color="#4859a8"/></linearGradient><linearGradient id="h129" x1="0" y1="0" x2="0" y2="1"><stop offset="0" stop-color="#433a81"/><stop offset="0.77" stop-color="#453e87"/><stop offset="0.92" stop-color="#4a4d9e"/><stop offset="1" stop-color="#455eab"/></linearGradient><linearGradient id="h130" x1="0" y1="0" x2="0" y2="1"><stop offset="0" stop-color="#443c83"/><stop offset="0.76" stop-color="#454089"/><stop offset="0.91" stop-color="#4b4fa1"/><stop offset="1" stop-color="#4363ae"/></linearGradient><linearGradient id="h131" x1="0" y1="0" x2="0" y2="1"><stop offset="0" stop-color="#443d85"/><stop offset="0.74" stop-color="#46418b"/><stop offset="0.89" stop-color="#4b4fa1"/><stop offset="1" stop-color="#4068b1"/></linearGradient><linearGradient id="h132" x1="0" y1="0" x2="0" y2="1"><stop offset="0" stop-color="#453e87"/><stop offset="0.73" stop-color="#46428d"/><stop offset="0.88" stop-color="#4b50a3"/><stop offset="1" stop-color="#3e6db3"/></linearGradient><linearGradient id="h133" x1="0" y1="0" x2="0" y2="1"><stop offset="0" stop-color="#453f88"/><stop offset="0.72" stop-color="#46438f"/><stop offset="0.9" stop-color="#4957a7"/><stop offset="1" stop-color="#3d72b4"/></linearGradient><linearGradient id="h134" x1="0" y1="0" x2="0" y2="1"><stop offset="0" stop-color="#454089"/><stop offset="0.71" stop-color="#474490"/><stop offset="0.89" stop-color="#4859a8"/><stop offset="1" stop-color="#3c76b4"/></linearGradient><linearGradient id="h135" x1="0" y1="0" x2="0" y2="1"><stop offset="0" stop-color="#45408a"/><stop offset="0.7" stop-color="#474591"/><stop offset="0.88" stop-color="#4859a8"/><stop offset="1" stop-color="#3b7ab4"/></linearGradient><linearGradient id="h136" x1="0" y1="0" x2="0" y2="1"><stop offset="0" stop-color="#45418b"/><stop offset="0.68" stop-color="#474591"/><stop offset="0.87" stop-color="#4858a8"/><stop offset="0.99" stop-color="#3b7cb4"/><stop offset="1" stop-color="#3a7db4"/></linearGradient><linearGradient id="h137" x1="0" y1="0" x2="0" y2="1"><stop offset="0" stop-color="#45418b"/><stop offset="0.68" stop-color="#474591"/><stop offset="0.86" stop-color="#4859a8"/><stop offset="0.97" stop-color="#3b7ab4"/><stop offset="1" stop-color="#3982b4"/></linearGradient><linearGradient id="h138" x1="0" y1="0" x2="0" y2="1"><stop offset="0" stop-color="#45408a"/><stop offset="0.67" stop-color="#474591"/><stop offset="0.85" stop-color="#4858a8"/><stop offset="0.97" stop-color="#3b7bb4"/><stop offset="1" stop-color="#3986b4"/></linearGradient><linearGradient id="h139" x1="0" y1="0" x2="0" y2="1"><stop offset="0" stop-color="#454089"/><stop offset="0.66" stop-color="#474490"/><stop offset="0.85" stop-color="#4858a8"/><stop offset="0.96" stop-color="#3a7db4"/><stop offset="1" stop-color="#378cb4"/></linearGradient><linearGradient id="h140" x1="0" y1="0" x2="0" y2="1"><stop offset="0" stop-color="#453e87"/><stop offset="0.66" stop-color="#46438e"/><stop offset="0.84" stop-color="#4956a7"/><stop offset="0.95" stop-color="#3b7bb4"/><stop offset="1" stop-color="#3993b3"/></linearGradient><linearGradient id="h141" x1="0" y1="0" x2="0" y2="1"><stop offset="0" stop-color="#443d85"/><stop offset="0.66" stop-color="#46418c"/><stop offset="0.81" stop-color="#4b50a2"/><stop offset="0.92" stop-color="#3d70b4"/><stop offset="0.98" stop-color="#3892b3"/><stop offset="1" stop-color="#439db0"/></linearGradient><linearGradient id="h142" x1="0" y1="0" x2="0" y2="1"><stop offset="0" stop-color="#433b82"/><stop offset="0.66" stop-color="#454089"/><stop offset="0.81" stop-color="#4a4ea0"/><stop offset="0.91" stop-color="#3f6bb2"/><stop offset="0.97" stop-color="#3790b4"/><stop offset="1" stop-color="#4ea8ae"/></linearGradient><linearGradient id="h143" x1="0" y1="0" x2="0" y2="1"><stop offset="0" stop-color="#43397f"/><stop offset="0.66" stop-color="#443e86"/><stop offset="0.8" stop-color="#494b9b"/><stop offset="0.87" stop-color="#455eab"/><stop offset="0.94" stop-color="#3982b4"/><stop offset="0.96" stop-color="#3791b3"/><stop offset="1" stop-color="#58b2ab"/></linearGradient><linearGradient id="h144" x1="0" y1="0" x2="0" y2="1"><stop offset="0" stop-color="#42377b"/><stop offset="0.66" stop-color="#433b82"/><stop offset="0.8" stop-color="#484997"/><stop offset="0.87" stop-color="#475baa"/><stop offset="0.94" stop-color="#3a7eb4"/><stop offset="0.96" stop-color="#3892b3"/><stop offset="1" stop-color="#5db7aa"/></linearGradient><linearGradient id="h145" x1="0" y1="0" x2="0" y2="1"><stop offset="0" stop-color="#413578"/><stop offset="0.66" stop-color="#43397e"/><stop offset="0.81" stop-color="#474693"/><stop offset="0.88" stop-color="#475aa9"/><stop offset="0.94" stop-color="#3b7ab4"/><stop offset="0.96" stop-color="#378fb4"/><stop offset="1" stop-color="#5ab4ab"/></linearGradient><linearGradient id="h146" x1="0" y1="0" x2="0" y2="1"><stop offset="0" stop-color="#3f3374"/><stop offset="0.68" stop-color="#42367b"/><stop offset="0.82" stop-color="#474490"/><stop offset="0.89" stop-color="#4859a8"/><stop offset="0.95" stop-color="#3b7cb4"/><stop offset="0.97" stop-color="#3892b3"/><stop offset="1" stop-color="#4fa9ad"/></linearGradient><linearGradient id="h147" x1="0" y1="0" x2="0" y2="1"><stop offset="0" stop-color="#3d3270"/><stop offset="0.7" stop-color="#403577"/><stop offset="0.84" stop-color="#46418b"/><stop offset="0.91" stop-color="#4859a8"/><stop offset="0.96" stop-color="#3b79b4"/><stop offset="1" stop-color="#3b95b2"/></linearGradient><linearGradient id="h148" x1="0" y1="0" x2="0" y2="1"><stop offset="0" stop-color="#3b316d"/><stop offset="0.72" stop-color="#3e3373"/><stop offset="0.85" stop-color="#443e86"/><stop offset="0.94" stop-color="#4859a8"/><stop offset="0.99" stop-color="#3b7bb4"/><stop offset="1" stop-color="#3a7db4"/></linearGradient><linearGradient id="h149" x1="0" y1="0" x2="0" y2="1"><stop offset="0" stop-color="#392f69"/><stop offset="0.75" stop-color="#3c326f"/><stop offset="0.88" stop-color="#433b82"/><stop offset="0.97" stop-color="#4957a8"/><stop offset="1" stop-color="#4265af"/></linearGradient><linearGradient id="h150" x1="0" y1="0" x2="0" y2="1"><stop offset="0" stop-color="#372e65"/><stop offset="0.78" stop-color="#3b306c"/><stop offset="0.92" stop-color="#433a80"/><stop offset="1" stop-color="#4a4ea0"/></linearGradient><linearGradient id="h151" x1="0" y1="0" x2="0" y2="1"><stop offset="0" stop-color="#362d62"/><stop offset="0.82" stop-color="#392f69"/><stop offset="0.97" stop-color="#43387e"/><stop offset="1" stop-color="#443d86"/></linearGradient><linearGradient id="h152" x1="0" y1="0" x2="0" y2="1"><stop offset="0" stop-color="#342c5f"/><stop offset="0.86" stop-color="#372e65"/><stop offset="1" stop-color="#3f3374"/></linearGradient><linearGradient id="h153" x1="0" y1="0" x2="0" y2="1"><stop offset="0" stop-color="#332b5c"/><stop offset="0.91" stop-color="#362d62"/><stop offset="1" stop-color="#392f68"/></linearGradient><linearGradient id="h154" x1="0" y1="0" x2="0" y2="1"><stop offset="0" stop-color="#322a5a"/><stop offset="0.98" stop-color="#352c60"/><stop offset="1" stop-color="#352c60"/></linearGradient><linearGradient id="h155" x1="0" y1="0" x2="0" y2="1"><stop offset="0" stop-color="#302957"/><stop offset="1" stop-color="#322a5b"/></linearGradient><linearGradient id="h156" x1="0" y1="0" x2="0" y2="1"><stop offset="0" stop-color="#2d2650"/><stop offset="1" stop-color="#2f2754"/></linearGradient><linearGradient id="h157" x1="0" y1="0" x2="0" y2="1"><stop offset="0" stop-color="#312959"/><stop offset="0.92" stop-color="#372d64"/><stop offset="1" stop-color="#382e67"/></linearGradient><linearGradient id="h158" x1="0" y1="0" x2="0" y2="1"><stop offset="0" stop-color="#3c316e"/><stop offset="0.71" stop-color="#42367a"/><stop offset="1" stop-color="#474693"/></linearGradient><linearGradient id="h159" x1="0" y1="0" x2="0" y2="1"><stop offset="0" stop-color="#484794"/><stop offset="0.56" stop-color="#4b51a3"/><stop offset="0.91" stop-color="#3e6db3"/><stop offset="1" stop-color="#3b79b4"/></linearGradient><linearGradient id="h160" x1="0" y1="0" x2="0" y2="1"><stop offset="0" stop-color="#3f6ab1"/><stop offset="0.57" stop-color="#3b79b4"/><stop offset="0.82" stop-color="#3a94b3"/><stop offset="1" stop-color="#65bba9"/></linearGradient><linearGradient id="h161" x1="0" y1="0" x2="0" y2="1"><stop offset="0" stop-color="#388bb4"/><stop offset="0.4" stop-color="#3b95b2"/><stop offset="0.68" stop-color="#59b3ab"/><stop offset="0.83" stop-color="#82c9a7"/><stop offset="0.92" stop-color="#aedba7"/><stop offset="1" stop-color="#dfe9b0"/></linearGradient><linearGradient id="h162" x1="0" y1="0" x2="0" y2="1"><stop offset="0" stop-color="#4ea8ae"/><stop offset="0.44" stop-color="#5fb9a9"/><stop offset="0.65" stop-color="#86cba6"/><stop offset="0.77" stop-color="#aedba7"/><stop offset="0.89" stop-color="#f5eeb2"/><stop offset="1" stop-color="#fabc73"/></linearGradient><linearGradient id="h163" x1="0" y1="0" x2="0" y2="1"><stop offset="0" stop-color="#5fb9a9"/><stop offset="0.39" stop-color="#74c2a8"/><stop offset="0.61" stop-color="#99d4a5"/><stop offset="0.73" stop-color="#cbe3ac"/><stop offset="0.81" stop-color="#f5efb2"/><stop offset="0.93" stop-color="#fabb72"/><stop offset="1" stop-color="#f39153"/></linearGradient><linearGradient id="h164" x1="0" y1="0" x2="0" y2="1"><stop offset="0" stop-color="#65bca9"/><stop offset="0.38" stop-color="#7ac5a7"/><stop offset="0.6" stop-color="#a0d7a5"/><stop offset="0.75" stop-color="#dde9af"/><stop offset="0.79" stop-color="#f5eeb2"/><stop offset="0.91" stop-color="#fabc73"/><stop offset="0.99" stop-color="#f28d52"/><stop offset="1" stop-color="#f08650"/></linearGradient><linearGradient id="h165" x1="0" y1="0" x2="0" y2="1"><stop offset="0" stop-color="#63bba9"/><stop offset="0.38" stop-color="#78c4a8"/><stop offset="0.6" stop-color="#9dd5a5"/><stop offset="0.74" stop-color="#d5e6ae"/><stop offset="0.8" stop-color="#f5edb0"/><stop offset="0.92" stop-color="#f9b870"/><stop offset="0.99" stop-color="#f28e52"/><stop offset="1" stop-color="#f18b52"/></linearGradient><linearGradient id="h166" x1="0" y1="0" x2="0" y2="1"><stop offset="0" stop-color="#56b0ac"/><stop offset="0.39" stop-color="#66bca9"/><stop offset="0.61" stop-color="#8bcda6"/><stop offset="0.72" stop-color="#addaa7"/><stop offset="0.85" stop-color="#f5edb1"/><stop offset="0.97" stop-color="#f9b66f"/><stop offset="1" stop-color="#f7a964"/></linearGradient><linearGradient id="h167" x1="0" y1="0" x2="0" y2="1"><stop offset="0" stop-color="#3c96b2"/><stop offset="0.47" stop-color="#4ea8ae"/><stop offset="0.66" stop-color="#68bda9"/><stop offset="0.84" stop-color="#a0d7a5"/><stop offset="0.97" stop-color="#f5eeb2"/><stop offset="1" stop-color="#f7e3a2"/></linearGradient><linearGradient id="h168" x1="0" y1="0" x2="0" y2="1"><stop offset="0" stop-color="#3c76b4"/><stop offset="0.54" stop-color="#3986b4"/><stop offset="0.7" stop-color="#3b95b2"/><stop offset="0.9" stop-color="#64bba9"/><stop offset="1" stop-color="#8ccda6"/></linearGradient><linearGradient id="h169" x1="0" y1="0" x2="0" y2="1"><stop offset="0" stop-color="#4b53a5"/><stop offset="0.6" stop-color="#4461ad"/><stop offset="0.94" stop-color="#3985b4"/><stop offset="1" stop-color="#378eb4"/></linearGradient><linearGradient id="h170" x1="0" y1="0" x2="0" y2="1"><stop offset="0" stop-color="#413579"/><stop offset="0.64" stop-color="#453e87"/><stop offset="1" stop-color="#4956a7"/></linearGradient><linearGradient id="h171" x1="0" y1="0" x2="0" y2="1"><stop offset="0" stop-color="#342b5f"/><stop offset="0.84" stop-color="#3a306a"/><stop offset="1" stop-color="#3e3373"/></linearGradient><linearGradient id="h172" x1="0" y1="0" x2="0" y2="1"><stop offset="0" stop-color="#2e2752"/><stop offset="1" stop-color="#312958"/></linearGradient><linearGradient id="cbar" x1="0" y1="0" x2="0" y2="1"><stop offset="0" stop-color="rgb(75,10,45)"/><stop offset="0.06" stop-color="rgb(122,12,68)"/><stop offset="0.12" stop-color="rgb(172,25,76)"/><stop offset="0.2" stop-color="rgb(215,62,72)"/><stop offset="0.28" stop-color="rgb(228,95,70)"/><stop offset="0.36" stop-color="rgb(245,150,85)"/><stop offset="0.43" stop-color="rgb(252,200,125)"/><stop offset="0.5" stop-color="rgb(245,240,180)"/><stop offset="0.58" stop-color="rgb(160,215,165)"/><stop offset="0.66" stop-color="rgb(95,185,170)"/><stop offset="0.73" stop-color="rgb(55,145,180)"/><stop offset="0.8" stop-color="rgb(62,110,180)"/><stop offset="0.85" stop-color="rgb(76,82,165)"/><stop offset="0.9" stop-color="rgb(66,54,122)"/><stop offset="0.95" stop-color="rgb(46,39,82)"/><stop offset="1" stop-color="rgb(38,30,60)"/></linearGradient><clipPath id="clipH"><rect x="293.7" y="351.0" width="240.3" height="79.69999999999999"/></clipPath><clipPath id="clipI"><rect x="559.4" y="349.5" width="108.10000000000002" height="80.10000000000002"/></clipPath></defs>
<rect width="685" height="449" fill="#fff"/>
<text x="3.9" y="8" font-size="12.4" text-anchor="start" fill="#111" stroke="#111" >a</text>
<line x1="25.5" y1="28.5" x2="265.5" y2="28.5" stroke="#333" stroke-width="0.7" stroke-dasharray="1.8,0.9"/>
<line x1="25.5" y1="30.6" x2="265.5" y2="30.6" stroke="#333" stroke-width="0.7" stroke-dasharray="1.8,0.9"/>
<text x="34.8" y="26.5" font-size="5.9" text-anchor="start" fill="#222" stroke="#222" >99.42% (FU)</text>
<text x="34.8" y="36.1" font-size="5.9" text-anchor="start" fill="#222" stroke="#222" >99.32% (MA)</text>
<g clip-path="url(#clipA)">
<line x1="34.3" y1="16.5" x2="34.3" y2="96.4" stroke="#4a98da" stroke-width="0.8" />
<polyline points="31.33,100.4 32.36,91.41 35.79,76.43 39.21,65.64 42.64,59.45 46.07,54.65 49.5,52.26 52.93,49.26 56.36,46.06 59.79,43.07 63.21,40.47 66.64,39.27 70.07,38.07 73.5,36.87 76.93,36.48 80.36,36.48 83.79,37.47 87.21,35.68 90.64,35.48 94.07,35.08 97.5,34.48 100.93,34.08 104.36,34.48 107.79,32.48 111.21,31.48 114.64,29.88 118.07,28.56 121.5,28.19 124.93,29.19 128.36,28.66 131.79,27.74 135.21,27.73 138.64,29.58 142.07,29.39 145.5,29.76 148.93,28.83 152.36,29.81 155.79,28.79 159.21,28.33 162.64,29.22 166.07,28.26 169.5,28.47 172.93,29.83 176.36,28.54 179.79,29.26 183.21,28.89 186.64,29.2 190.07,28.22 193.5,28.83 196.93,29.51 200.36,28.58 203.79,28.01 207.21,29.15 210.64,29.35 214.07,28.95 217.5,27.64 220.93,27.54 224.36,28.27 227.79,27.72 231.21,27.86 234.64,28.98 238.07,29.66 241.5,28.32 244.93,28.55 248.36,29.02 251.79,29.34 255.21,28.91 258.64,28.76 262.07,29.24 265.5,29.18" fill="none" stroke="#f28a26" stroke-width="0.6" stroke-linejoin="round" />
<circle cx="32.36" cy="91.41" r="1.45" fill="#f28a26" stroke="none" stroke-width="0.5" />
<circle cx="35.79" cy="76.43" r="1.45" fill="#f28a26" stroke="none" stroke-width="0.5" />
<circle cx="39.21" cy="65.64" r="1.45" fill="#f28a26" stroke="none" stroke-width="0.5" />
<circle cx="42.64" cy="59.45" r="1.45" fill="#f28a26" stroke="none" stroke-width="0.5" />
<circle cx="46.07" cy="54.65" r="1.45" fill="#f28a26" stroke="none" stroke-width="0.5" />
<circle cx="49.5" cy="52.26" r="1.45" fill="#f28a26" stroke="none" stroke-width="0.5" />
<circle cx="52.93" cy="49.26" r="1.45" fill="#f28a26" stroke="none" stroke-width="0.5" />
<circle cx="56.36" cy="46.06" r="1.45" fill="#f28a26" stroke="none" stroke-width="0.5" />
<circle cx="59.79" cy="43.07" r="1.45" fill="#f28a26" stroke="none" stroke-width="0.5" />
<circle cx="63.21" cy="40.47" r="1.45" fill="#f28a26" stroke="none" stroke-width="0.5" />
<circle cx="66.64" cy="39.27" r="1.45" fill="#f28a26" stroke="none" stroke-width="0.5" />
<circle cx="70.07" cy="38.07" r="1.45" fill="#f28a26" stroke="none" stroke-width="0.5" />
<circle cx="73.5" cy="36.87" r="1.45" fill="#f28a26" stroke="none" stroke-width="0.5" />
<circle cx="76.93" cy="36.48" r="1.45" fill="#f28a26" stroke="none" stroke-width="0.5" />
<circle cx="80.36" cy="36.48" r="1.45" fill="#f28a26" stroke="none" stroke-width="0.5" />
<circle cx="83.79" cy="37.47" r="1.45" fill="#f28a26" stroke="none" stroke-width="0.5" />
<circle cx="87.21" cy="35.68" r="1.45" fill="#f28a26" stroke="none" stroke-width="0.5" />
<circle cx="90.64" cy="35.48" r="1.45" fill="#f28a26" stroke="none" stroke-width="0.5" />
<circle cx="94.07" cy="35.08" r="1.45" fill="#f28a26" stroke="none" stroke-width="0.5" />
<circle cx="97.5" cy="34.48" r="1.45" fill="#f28a26" stroke="none" stroke-width="0.5" />
<circle cx="100.93" cy="34.08" r="1.45" fill="#f28a26" stroke="none" stroke-width="0.5" />
<circle cx="104.36" cy="34.48" r="1.45" fill="#f28a26" stroke="none" stroke-width="0.5" />
<circle cx="107.79" cy="32.48" r="1.45" fill="#f28a26" stroke="none" stroke-width="0.5" />
<circle cx="111.21" cy="31.48" r="1.45" fill="#f28a26" stroke="none" stroke-width="0.5" />
<circle cx="114.64" cy="29.88" r="1.45" fill="#f28a26" stroke="none" stroke-width="0.5" />
<circle cx="118.07" cy="28.56" r="1.45" fill="#f28a26" stroke="none" stroke-width="0.5" />
<circle cx="121.5" cy="28.19" r="1.45" fill="#f28a26" stroke="none" stroke-width="0.5" />
<circle cx="124.93" cy="29.19" r="1.45" fill="#f28a26" stroke="none" stroke-width="0.5" />
<circle cx="128.36" cy="28.66" r="1.45" fill="#f28a26" stroke="none" stroke-width="0.5" />
<circle cx="131.79" cy="27.74" r="1.45" fill="#f28a26" stroke="none" stroke-width="0.5" />
<circle cx="135.21" cy="27.73" r="1.45" fill="#f28a26" stroke="none" stroke-width="0.5" />
<circle cx="138.64" cy="29.58" r="1.45" fill="#f28a26" stroke="none" stroke-width="0.5" />
<circle cx="142.07" cy="29.39" r="1.45" fill="#f28a26" stroke="none" stroke-width="0.5" />
<circle cx="145.5" cy="29.76" r="1.45" fill="#f28a26" stroke="none" stroke-width="0.5" />
<circle cx="148.93" cy="28.83" r="1.45" fill="#f28a26" stroke="none" stroke-width="0.5" />
<circle cx="152.36" cy="29.81" r="1.45" fill="#f28a26" stroke="none" stroke-width="0.5" />
<circle cx="155.79" cy="28.79" r="1.45" fill="#f28a26" stroke="none" stroke-width="0.5" />
<circle cx="159.21" cy="28.33" r="1.45" fill="#f28a26" stroke="none" stroke-width="0.5" />
<circle cx="162.64" cy="29.22" r="1.45" fill="#f28a26" stroke="none" stroke-width="0.5" />
<circle cx="166.07" cy="28.26" r="1.45" fill="#f28a26" stroke="none" stroke-width="0.5" />
<circle cx="169.5" cy="28.47" r="1.45" fill="#f28a26" stroke="none" stroke-width="0.5" />
<circle cx="172.93" cy="29.83" r="1.45" fill="#f28a26" stroke="none" stroke-width="0.5" />
<circle cx="176.36" cy="28.54" r="1.45" fill="#f28a26" stroke="none" stroke-width="0.5" />
<circle cx="179.79" cy="29.26" r="1.45" fill="#f28a26" stroke="none" stroke-width="0.5" />
<circle cx="183.21" cy="28.89" r="1.45" fill="#f28a26" stroke="none" stroke-width="0.5" />
<circle cx="186.64" cy="29.2" r="1.45" fill="#f28a26" stroke="none" stroke-width="0.5" />
<circle cx="190.07" cy="28.22" r="1.45" fill="#f28a26" stroke="none" stroke-width="0.5" />
<circle cx="193.5" cy="28.83" r="1.45" fill="#f28a26" stroke="none" stroke-width="0.5" />
<circle cx="196.93" cy="29.51" r="1.45" fill="#f28a26" stroke="none" stroke-width="0.5" />
<circle cx="200.36" cy="28.58" r="1.45" fill="#f28a26" stroke="none" stroke-width="0.5" />
<circle cx="203.79" cy="28.01" r="1.45" fill="#f28a26" stroke="none" stroke-width="0.5" />
<circle cx="207.21" cy="29.15" r="1.45" fill="#f28a26" stroke="none" stroke-width="0.5" />
<circle cx="210.64" cy="29.35" r="1.45" fill="#f28a26" stroke="none" stroke-width="0.5" />
<circle cx="214.07" cy="28.95" r="1.45" fill="#f28a26" stroke="none" stroke-width="0.5" />
<circle cx="217.5" cy="27.64" r="1.45" fill="#f28a26" stroke="none" stroke-width="0.5" />
<circle cx="220.93" cy="27.54" r="1.45" fill="#f28a26" stroke="none" stroke-width="0.5" />
<circle cx="224.36" cy="28.27" r="1.45" fill="#f28a26" stroke="none" stroke-width="0.5" />
<circle cx="227.79" cy="27.72" r="1.45" fill="#f28a26" stroke="none" stroke-width="0.5" />
<circle cx="231.21" cy="27.86" r="1.45" fill="#f28a26" stroke="none" stroke-width="0.5" />
<circle cx="234.64" cy="28.98" r="1.45" fill="#f28a26" stroke="none" stroke-width="0.5" />
<circle cx="238.07" cy="29.66" r="1.45" fill="#f28a26" stroke="none" stroke-width="0.5" />
<circle cx="241.5" cy="28.32" r="1.45" fill="#f28a26" stroke="none" stroke-width="0.5" />
<circle cx="244.93" cy="28.55" r="1.45" fill="#f28a26" stroke="none" stroke-width="0.5" />
<circle cx="248.36" cy="29.02" r="1.45" fill="#f28a26" stroke="none" stroke-width="0.5" />
<circle cx="251.79" cy="29.34" r="1.45" fill="#f28a26" stroke="none" stroke-width="0.5" />
<circle cx="255.21" cy="28.91" r="1.45" fill="#f28a26" stroke="none" stroke-width="0.5" />
<circle cx="258.64" cy="28.76" r="1.45" fill="#f28a26" stroke="none" stroke-width="0.5" />
<circle cx="262.07" cy="29.24" r="1.45" fill="#f28a26" stroke="none" stroke-width="0.5" />
<circle cx="265.5" cy="29.18" r="1.45" fill="#f28a26" stroke="none" stroke-width="0.5" />
<polyline points="34.24,98.4 35.79,78.02 39.21,70.43 42.64,59.05 46.07,62.44 49.5,54.45 52.93,53.25 56.36,49.66 59.79,54.45 63.21,49.66 66.64,49.26 70.07,48.66 73.5,44.86 76.93,41.27 80.36,54.05 83.79,47.06 87.21,42.07 90.64,32.08 94.07,39.47 97.5,35.08 100.93,30.48 104.36,38.87 107.79,38.47 111.21,28.09 114.64,35.88 118.07,36.48 121.5,34.28 124.93,35.48 128.36,34.48 131.79,36.48 135.21,33.48 138.64,30.65 142.07,29.04 145.5,30.14 148.93,31.35 152.36,31.37 155.79,30.66 159.21,31.66 162.64,31.68 166.07,30.43 169.5,32.13 172.93,30.55 176.36,31.03 179.79,29.65 183.21,29.5 186.64,29.72 190.07,29.73 193.5,30.99 196.93,29.81 200.36,31.12 203.79,30.19 207.21,31.18 210.64,30.7 214.07,32.23 217.5,31.51 220.93,28.6 224.36,31.56 227.79,29.72 231.21,29.88 234.64,29.59 238.07,30.58 241.84,30.48 241.84,106.39" fill="none" stroke="#d10f16" stroke-width="0.75" stroke-linejoin="round" />
<circle cx="35.79" cy="78.02" r="1.5" fill="#d10f16" stroke="none" stroke-width="0.5" />
<circle cx="39.21" cy="70.43" r="1.5" fill="#d10f16" stroke="none" stroke-width="0.5" />
<circle cx="42.64" cy="59.05" r="1.5" fill="#d10f16" stroke="none" stroke-width="0.5" />
<circle cx="46.07" cy="62.44" r="1.5" fill="#d10f16" stroke="none" stroke-width="0.5" />
<circle cx="49.5" cy="54.45" r="1.5" fill="#d10f16" stroke="none" stroke-width="0.5" />
<circle cx="52.93" cy="53.25" r="1.5" fill="#d10f16" stroke="none" stroke-width="0.5" />
<circle cx="56.36" cy="49.66" r="1.5" fill="#d10f16" stroke="none" stroke-width="0.5" />
<circle cx="59.79" cy="54.45" r="1.5" fill="#d10f16" stroke="none" stroke-width="0.5" />
<circle cx="63.21" cy="49.66" r="1.5" fill="#d10f16" stroke="none" stroke-width="0.5" />
<circle cx="66.64" cy="49.26" r="1.5" fill="#d10f16" stroke="none" stroke-width="0.5" />
<circle cx="70.07" cy="48.66" r="1.5" fill="#d10f16" stroke="none" stroke-width="0.5" />
<circle cx="73.5" cy="44.86" r="1.5" fill="#d10f16" stroke="none" stroke-width="0.5" />
<circle cx="76.93" cy="41.27" r="1.5" fill="#d10f16" stroke="none" stroke-width="0.5" />
<circle cx="80.36" cy="54.05" r="1.5" fill="#d10f16" stroke="none" stroke-width="0.5" />
<circle cx="83.79" cy="47.06" r="1.5" fill="#d10f16" stroke="none" stroke-width="0.5" />
<circle cx="87.21" cy="42.07" r="1.5" fill="#d10f16" stroke="none" stroke-width="0.5" />
<circle cx="90.64" cy="32.08" r="1.5" fill="#d10f16" stroke="none" stroke-width="0.5" />
<circle cx="94.07" cy="39.47" r="1.5" fill="#d10f16" stroke="none" stroke-width="0.5" />
<circle cx="97.5" cy="35.08" r="1.5" fill="#d10f16" stroke="none" stroke-width="0.5" />
<circle cx="100.93" cy="30.48" r="1.5" fill="#d10f16" stroke="none" stroke-width="0.5" />
<circle cx="104.36" cy="38.87" r="1.5" fill="#d10f16" stroke="none" stroke-width="0.5" />
<circle cx="107.79" cy="38.47" r="1.5" fill="#d10f16" stroke="none" stroke-width="0.5" />
<circle cx="111.21" cy="28.09" r="1.5" fill="#d10f16" stroke="none" stroke-width="0.5" />
<circle cx="114.64" cy="35.88" r="1.5" fill="#d10f16" stroke="none" stroke-width="0.5" />
<circle cx="118.07" cy="36.48" r="1.5" fill="#d10f16" stroke="none" stroke-width="0.5" />
<circle cx="121.5" cy="34.28" r="1.5" fill="#d10f16" stroke="none" stroke-width="0.5" />
<circle cx="124.93" cy="35.48" r="1.5" fill="#d10f16" stroke="none" stroke-width="0.5" />
<circle cx="128.36" cy="34.48" r="1.5" fill="#d10f16" stroke="none" stroke-width="0.5" />
<circle cx="131.79" cy="36.48" r="1.5" fill="#d10f16" stroke="none" stroke-width="0.5" />
<circle cx="135.21" cy="33.48" r="1.5" fill="#d10f16" stroke="none" stroke-width="0.5" />
<circle cx="138.64" cy="30.65" r="1.5" fill="#d10f16" stroke="none" stroke-width="0.5" />
<circle cx="142.07" cy="29.04" r="1.5" fill="#d10f16" stroke="none" stroke-width="0.5" />
<circle cx="145.5" cy="30.14" r="1.5" fill="#d10f16" stroke="none" stroke-width="0.5" />
<circle cx="148.93" cy="31.35" r="1.5" fill="#d10f16" stroke="none" stroke-width="0.5" />
<circle cx="152.36" cy="31.37" r="1.5" fill="#d10f16" stroke="none" stroke-width="0.5" />
<circle cx="155.79" cy="30.66" r="1.5" fill="#d10f16" stroke="none" stroke-width="0.5" />
<circle cx="159.21" cy="31.66" r="1.5" fill="#d10f16" stroke="none" stroke-width="0.5" />
<circle cx="162.64" cy="31.68" r="1.5" fill="#d10f16" stroke="none" stroke-width="0.5" />
<circle cx="166.07" cy="30.43" r="1.5" fill="#d10f16" stroke="none" stroke-width="0.5" />
<circle cx="169.5" cy="32.13" r="1.5" fill="#d10f16" stroke="none" stroke-width="0.5" />
<circle cx="172.93" cy="30.55" r="1.5" fill="#d10f16" stroke="none" stroke-width="0.5" />
<circle cx="176.36" cy="31.03" r="1.5" fill="#d10f16" stroke="none" stroke-width="0.5" />
<circle cx="179.79" cy="29.65" r="1.5" fill="#d10f16" stroke="none" stroke-width="0.5" />
<circle cx="183.21" cy="29.5" r="1.5" fill="#d10f16" stroke="none" stroke-width="0.5" />
<circle cx="186.64" cy="29.72" r="1.5" fill="#d10f16" stroke="none" stroke-width="0.5" />
<circle cx="190.07" cy="29.73" r="1.5" fill="#d10f16" stroke="none" stroke-width="0.5" />
<circle cx="193.5" cy="30.99" r="1.5" fill="#d10f16" stroke="none" stroke-width="0.5" />
<circle cx="196.93" cy="29.81" r="1.5" fill="#d10f16" stroke="none" stroke-width="0.5" />
<circle cx="200.36" cy="31.12" r="1.5" fill="#d10f16" stroke="none" stroke-width="0.5" />
<circle cx="203.79" cy="30.19" r="1.5" fill="#d10f16" stroke="none" stroke-width="0.5" />
<circle cx="207.21" cy="31.18" r="1.5" fill="#d10f16" stroke="none" stroke-width="0.5" />
<circle cx="210.64" cy="30.7" r="1.5" fill="#d10f16" stroke="none" stroke-width="0.5" />
<circle cx="214.07" cy="32.23" r="1.5" fill="#d10f16" stroke="none" stroke-width="0.5" />
<circle cx="217.5" cy="31.51" r="1.5" fill="#d10f16" stroke="none" stroke-width="0.5" />
<circle cx="220.93" cy="28.6" r="1.5" fill="#d10f16" stroke="none" stroke-width="0.5" />
<circle cx="224.36" cy="31.56" r="1.5" fill="#d10f16" stroke="none" stroke-width="0.5" />
<circle cx="227.79" cy="29.72" r="1.5" fill="#d10f16" stroke="none" stroke-width="0.5" />
<circle cx="231.21" cy="29.88" r="1.5" fill="#d10f16" stroke="none" stroke-width="0.5" />
<circle cx="234.64" cy="29.59" r="1.5" fill="#d10f16" stroke="none" stroke-width="0.5" />
<circle cx="238.07" cy="30.58" r="1.5" fill="#d10f16" stroke="none" stroke-width="0.5" />
<line x1="246.3" y1="16.5" x2="246.3" y2="97.4" stroke="#d10f16" stroke-width="0.8" />
<line x1="251.1" y1="16.5" x2="251.1" y2="26.09" stroke="#d10f16" stroke-width="0.8" />
<polyline points="244.93,29.48 251.79,26.09 255.21,27.49 258.64,28.09 262.07,28.88 265.5,29.48" fill="none" stroke="#d10f16" stroke-width="0.6" stroke-linejoin="round" />
<circle cx="244.93" cy="29.48" r="1.5" fill="#d10f16" stroke="none" stroke-width="0.5" />
<circle cx="251.79" cy="26.09" r="1.5" fill="#d10f16" stroke="none" stroke-width="0.5" />
<circle cx="255.21" cy="27.49" r="1.5" fill="#d10f16" stroke="none" stroke-width="0.5" />
<circle cx="258.64" cy="28.09" r="1.5" fill="#d10f16" stroke="none" stroke-width="0.5" />
<circle cx="262.07" cy="28.88" r="1.5" fill="#d10f16" stroke="none" stroke-width="0.5" />
<circle cx="265.5" cy="29.48" r="1.5" fill="#d10f16" stroke="none" stroke-width="0.5" />
</g>
<line x1="25.5" y1="16.5" x2="265.5" y2="16.5" stroke="#3a3a3a" stroke-width="1.0" stroke-linecap="square"/>
<line x1="25.5" y1="96.5" x2="265.5" y2="96.5" stroke="#3a3a3a" stroke-width="1.0" stroke-linecap="square"/>
<line x1="25.5" y1="16.5" x2="25.5" y2="96.5" stroke="#3a3a3a" stroke-width="1.0" stroke-linecap="square"/>
<line x1="265.5" y1="16.5" x2="265.5" y2="96.5" stroke="#3a3a3a" stroke-width="1.0" stroke-linecap="square"/>
<line x1="25.5" y1="96.5" x2="23.3" y2="96.5" stroke="#333" stroke-width="0.9" />
<text x="20.7" y="98.87" font-size="5.6" text-anchor="end" fill="#222" stroke="#222" >96.0</text>
<line x1="25.5" y1="86.5" x2="23.3" y2="86.5" stroke="#333" stroke-width="0.9" />
<text x="20.7" y="88.87" font-size="5.6" text-anchor="end" fill="#222" stroke="#222" >96.5</text>
<line x1="25.5" y1="76.5" x2="23.3" y2="76.5" stroke="#333" stroke-width="0.9" />
<text x="20.7" y="78.87" font-size="5.6" text-anchor="end" fill="#222" stroke="#222" >97.0</text>
<line x1="25.5" y1="66.5" x2="23.3" y2="66.5" stroke="#333" stroke-width="0.9" />
<text x="20.7" y="68.87" font-size="5.6" text-anchor="end" fill="#222" stroke="#222" >97.5</text>
<line x1="25.5" y1="56.5" x2="23.3" y2="56.5" stroke="#333" stroke-width="0.9" />
<text x="20.7" y="58.87" font-size="5.6" text-anchor="end" fill="#222" stroke="#222" >98.0</text>
<line x1="25.5" y1="46.5" x2="23.3" y2="46.5" stroke="#333" stroke-width="0.9" />
<text x="20.7" y="48.87" font-size="5.6" text-anchor="end" fill="#222" stroke="#222" >98.5</text>
<line x1="25.5" y1="36.5" x2="23.3" y2="36.5" stroke="#333" stroke-width="0.9" />
<text x="20.7" y="38.87" font-size="5.6" text-anchor="end" fill="#222" stroke="#222" >99.0</text>
<line x1="25.5" y1="26.5" x2="23.3" y2="26.5" stroke="#333" stroke-width="0.9" />
<text x="20.7" y="28.87" font-size="5.6" text-anchor="end" fill="#222" stroke="#222" >99.5</text>
<line x1="25.5" y1="16.5" x2="23.3" y2="16.5" stroke="#333" stroke-width="0.9" />
<text x="20.7" y="18.87" font-size="5.6" text-anchor="end" fill="#222" stroke="#222" >100.0</text>
<line x1="25.5" y1="91.5" x2="24.2" y2="91.5" stroke="#333" stroke-width="0.8" />
<line x1="25.5" y1="81.5" x2="24.2" y2="81.5" stroke="#333" stroke-width="0.8" />
<line x1="25.5" y1="71.5" x2="24.2" y2="71.5" stroke="#333" stroke-width="0.8" />
<line x1="25.5" y1="61.5" x2="24.2" y2="61.5" stroke="#333" stroke-width="0.8" />
<line x1="25.5" y1="51.5" x2="24.2" y2="51.5" stroke="#333" stroke-width="0.8" />
<line x1="25.5" y1="41.5" x2="24.2" y2="41.5" stroke="#333" stroke-width="0.8" />
<line x1="25.5" y1="31.5" x2="24.2" y2="31.5" stroke="#333" stroke-width="0.8" />
<line x1="25.5" y1="21.5" x2="24.2" y2="21.5" stroke="#333" stroke-width="0.8" />
<line x1="25.5" y1="96.5" x2="25.5" y2="98.7" stroke="#333" stroke-width="0.9" />
<text x="25.5" y="105.5" font-size="5.6" text-anchor="middle" fill="#222" stroke="#222" >0</text>
<line x1="59.5" y1="96.5" x2="59.5" y2="98.7" stroke="#333" stroke-width="0.9" />
<text x="59.5" y="105.5" font-size="5.6" text-anchor="middle" fill="#222" stroke="#222" >10</text>
<line x1="94.5" y1="96.5" x2="94.5" y2="98.7" stroke="#333" stroke-width="0.9" />
<text x="94.5" y="105.5" font-size="5.6" text-anchor="middle" fill="#222" stroke="#222" >20</text>
<line x1="128.5" y1="96.5" x2="128.5" y2="98.7" stroke="#333" stroke-width="0.9" />
<text x="128.5" y="105.5" font-size="5.6" text-anchor="middle" fill="#222" stroke="#222" >30</text>
<line x1="162.5" y1="96.5" x2="162.5" y2="98.7" stroke="#333" stroke-width="0.9" />
<text x="162.5" y="105.5" font-size="5.6" text-anchor="middle" fill="#222" stroke="#222" >40</text>
<line x1="196.5" y1="96.5" x2="196.5" y2="98.7" stroke="#333" stroke-width="0.9" />
<text x="196.5" y="105.5" font-size="5.6" text-anchor="middle" fill="#222" stroke="#222" >50</text>
<line x1="231.5" y1="96.5" x2="231.5" y2="98.7" stroke="#333" stroke-width="0.9" />
<text x="231.5" y="105.5" font-size="5.6" text-anchor="middle" fill="#222" stroke="#222" >60</text>
<line x1="265.5" y1="96.5" x2="265.5" y2="98.7" stroke="#333" stroke-width="0.9" />
<text x="265.5" y="105.5" font-size="5.6" text-anchor="middle" fill="#222" stroke="#222" >70</text>
<line x1="42.5" y1="96.5" x2="42.5" y2="97.8" stroke="#333" stroke-width="0.8" />
<line x1="76.5" y1="96.5" x2="76.5" y2="97.8" stroke="#333" stroke-width="0.8" />
<line x1="111.5" y1="96.5" x2="111.5" y2="97.8" stroke="#333" stroke-width="0.8" />
<line x1="145.5" y1="96.5" x2="145.5" y2="97.8" stroke="#333" stroke-width="0.8" />
<line x1="179.5" y1="96.5" x2="179.5" y2="97.8" stroke="#333" stroke-width="0.8" />
<line x1="214.5" y1="96.5" x2="214.5" y2="97.8" stroke="#333" stroke-width="0.8" />
<line x1="248.5" y1="96.5" x2="248.5" y2="97.8" stroke="#333" stroke-width="0.8" />
<text x="4.7" y="56.6" font-size="5.8" text-anchor="middle" fill="#222" stroke="#222" transform="rotate(-90 4.7 56.6)">Coulombic efficiency (%)</text>
<text x="145.5" y="113.2" font-size="5.5" text-anchor="middle" fill="#222" stroke="#222" >Cycle number</text>
<line x1="119" y1="68.6" x2="131" y2="68.6" stroke="#f28a26" stroke-width="0.7" />
<circle cx="125" cy="68.6" r="1.5" fill="#f28a26" stroke="none" stroke-width="0.5" />
<text x="133.5" y="70.6" font-size="5.8" text-anchor="start" fill="#222" stroke="#222" >ZnSO<tspan font-size="70%" dy="1.4">4</tspan><tspan dy="-1.4">​</tspan>/FU</text>
<line x1="119" y1="76.8" x2="131" y2="76.8" stroke="#d10f16" stroke-width="0.7" />
<circle cx="125" cy="76.8" r="1.5" fill="#d10f16" stroke="none" stroke-width="0.5" />
<text x="133.5" y="78.8" font-size="5.8" text-anchor="start" fill="#222" stroke="#222" >ZnSO<tspan font-size="70%" dy="1.4">4</tspan><tspan dy="-1.4">​</tspan>/MA</text>
<line x1="119" y1="85" x2="131" y2="85" stroke="#5aa6e0" stroke-width="0.7" />
<circle cx="125" cy="85" r="1.5" fill="#1f6fb8" stroke="none" stroke-width="0.5" />
<text x="133.5" y="87" font-size="5.8" text-anchor="start" fill="#222" stroke="#222" >ZnSO<tspan font-size="70%" dy="1.4">4</tspan><tspan dy="-1.4">​</tspan></text>
<text x="210.3" y="80.3" font-size="5.5" text-anchor="middle" fill="#222" stroke="#222" >Zn||Cu</text>
<text x="212.3" y="90.3" font-size="5.5" text-anchor="middle" fill="#222" stroke="#222" >0.5 mA cm<tspan font-size="70%" dy="-1.8">−2</tspan><tspan dy="1.8">​</tspan> @3 mAh cm<tspan font-size="70%" dy="-1.8">−2</tspan><tspan dy="1.8">​</tspan></text>
<text x="272.3" y="8.6" font-size="12.4" text-anchor="start" fill="#111" stroke="#111" >b</text>
<g clip-path="url(#clipB)">
<polyline points="292.8,16.5 292.87,19.59 292.94,22.52 293.01,25.29 293.08,27.92 293.15,30.41 293.22,32.77 293.28,35 293.35,37.12 293.42,39.13 293.49,41.03 293.56,42.84 293.63,44.55 293.7,46.17 293.77,47.7 293.84,49.16 293.91,50.54 293.98,51.85 294.05,53.09 294.12,54.27 294.18,55.39 294.25,56.45 294.32,57.45 294.39,58.41 294.46,59.31 294.53,60.17 294.6,60.99 294.67,61.76 294.74,62.49 294.81,63.19 294.88,63.86 294.95,64.49 295.02,65.08 295.08,65.65 295.15,66.19 295.22,66.71 295.29,67.2 295.36,67.66 295.43,68.1 295.5,68.52 295.59,69.04 296.3,72.14 297,74.09 297.71,75.37 298.41,76.26 299.12,76.93 299.83,77.47 300.53,77.92 301.24,78.32 301.94,78.69 302.65,79.04 303.36,79.37 304.06,79.68 304.77,79.99 305.48,80.28 306.18,80.56 306.89,80.83 307.59,81.1 308.3,81.35 309.01,81.6 309.71,81.84 310.42,82.08 311.12,82.3 311.83,82.52 312.54,82.73 313.24,82.94 313.95,83.14 314.65,83.33 315.36,83.52 316.07,83.7 316.77,83.88 317.48,84.05 318.19,84.21 318.89,84.37 319.6,84.53 320.3,84.68 321.01,84.82 321.72,84.96 322.42,85.1 323.13,85.23 323.83,85.36 324.54,85.49 325.25,85.61 325.95,85.72 326.66,85.84 327.36,85.95 328.07,86.05 328.78,86.16 329.48,86.26 330.19,86.35 330.9,86.45 331.6,86.54 332.31,86.62 333.01,86.71 333.72,86.79 334.43,86.87 335.13,86.95 335.84,87.03 336.54,87.1 337.25,87.17 337.96,87.24 338.66,87.3 339.37,87.37 340.07,87.43 340.78,87.49 341.49,87.55 342.19,87.61 342.9,87.66 343.61,87.72 344.31,87.77 345.02,87.82 345.72,87.87 346.43,87.91 347.14,87.96 347.84,88 348.55,88.05 349.25,88.09 349.96,88.13 350.67,88.17 351.37,88.2 352.08,88.24 352.78,88.28 353.49,88.31 354.2,88.34 354.9,88.38 355.61,88.41 356.32,88.44 357.02,88.47 357.73,88.5 358.43,88.52 359.14,88.55 359.85,88.58 360.55,88.6 361.26,88.63 361.96,88.65 362.67,88.67 363.38,88.69 364.08,88.72 364.79,88.74 365.49,88.76 366.2,88.78 366.91,88.79 367.61,88.81 368.32,88.83 369.03,88.85 369.73,88.87 370.44,88.88 371.14,88.9 371.85,88.91 372.56,88.93 373.26,88.94 373.97,88.95 374.67,88.97 375.38,88.98 376.09,88.99 376.79,89.01 377.5,89.02 378.2,89.03 378.91,89.04 379.62,89.05 380.32,89.06 381.03,89.07 381.74,89.08 382.44,89.09 383.15,89.1 383.85,89.11 384.56,89.12 385.27,89.13 385.97,89.13 386.68,89.14 387.38,89.15 388.09,89.16 388.8,89.16 389.5,89.17 390.21,89.18 390.91,89.18 391.62,89.19 392.33,89.2 393.03,89.2 393.74,89.21 394.45,89.21 395.15,89.22 395.86,89.22 396.56,89.23 397.27,89.23 397.98,89.24 398.68,89.24 399.39,89.25 400.09,89.25 400.8,89.26" fill="none" stroke="#4a9ae0" stroke-width="0.8" stroke-linejoin="round" />
<polyline points="292.8,16.5 292.87,19.62 292.94,22.53 293.01,25.24 293.08,27.76 293.15,30.11 293.22,32.29 293.28,34.33 293.35,36.22 293.42,37.98 293.49,39.62 293.56,41.15 293.63,42.56 293.7,43.88 293.77,45.11 293.84,46.25 293.91,47.31 293.98,48.3 294.05,49.21 294.12,50.06 294.18,50.85 294.25,51.59 294.32,52.27 294.39,52.9 294.46,53.49 294.53,54.03 294.6,54.53 294.67,55 294.74,55.43 294.81,55.83 294.88,56.2 294.95,56.54 295.02,56.85 295.08,57.14 295.15,57.41 295.22,57.66 295.29,57.89 295.36,58.1 295.43,58.29 295.5,58.47 295.59,58.67 296.3,59.65 297,59.93 297.71,59.87 298.41,59.67 299.12,59.4 299.83,59.11 300.53,58.82 301.24,58.54 301.94,58.28 302.65,58.02 303.36,57.79 304.06,57.57 304.77,57.36 305.48,57.16 306.18,56.98 306.89,56.81 307.59,56.65 308.3,56.5 309.01,56.36 309.71,56.23 310.42,56.1 311.12,55.99 311.83,55.88 312.54,55.78 313.24,55.68 313.95,55.59 314.65,55.51 315.36,55.43 316.07,55.36 316.77,55.29 317.48,55.23 318.19,55.17 318.89,55.11 319.6,55.06 320.3,55.01 321.01,54.96 321.72,54.92 322.42,54.88 323.13,54.84 323.83,54.81 324.54,54.77 325.25,54.74 325.95,54.71 326.66,54.68 327.36,54.66 328.07,54.63 328.78,54.61 329.48,54.59 330.19,54.57 330.9,54.55 331.6,54.53 332.31,54.52 333.01,54.5 333.72,54.49 334.43,54.48 335.13,54.46 335.84,54.45 336.54,54.44 337.25,54.43 337.96,54.42 338.66,54.41 339.37,54.4 340.07,54.39 340.78,54.39 341.49,54.38 342.19,54.37 342.9,54.37 343.61,54.36 344.31,54.36 345.02,54.35 345.72,54.35 346.43,54.34 347.14,54.34 347.84,54.33 348.55,54.33 349.25,54.33 349.96,54.32 350.67,54.32 351.37,54.32 352.08,54.32 352.78,54.31 353.49,54.31 354.2,54.31 354.9,54.31 355.61,54.31 356.32,54.3 357.02,54.3 357.73,54.3 358.43,54.3 359.14,54.3 359.85,54.3 360.55,54.3 361.26,54.29 361.96,54.29 362.67,54.29 363.38,54.29 364.08,54.29 364.79,54.29 365.49,54.29 366.2,54.29 366.91,54.29 367.61,54.29 368.32,54.29 369.03,54.29 369.73,54.29 370.44,54.28 371.14,54.28 371.85,54.28 372.56,54.28 373.26,54.28 373.97,54.28 374.67,54.28 375.38,54.28 376.09,54.28 376.79,54.28 377.5,54.28 378.2,54.28 378.91,54.28 379.62,54.28 380.32,54.28 381.03,54.28 381.74,54.28 382.44,54.28 383.15,54.28 383.85,54.28 384.56,54.28 385.27,54.28 385.97,54.28 386.68,54.28 387.38,54.28 388.09,54.28 388.8,54.28 389.5,54.28 390.21,54.28 390.91,54.28 391.62,54.28 392.33,54.28 393.03,54.28 393.74,54.28 394.45,54.28 395.15,54.28 395.86,54.28 396.56,54.28 397.27,54.28 397.98,54.28 398.68,54.28 399.39,54.28 400.09,54.28 400.8,54.28" fill="none" stroke="#dd3a3a" stroke-width="0.8" stroke-linejoin="round" />
<polyline points="292.8,16.5 292.87,19.62 292.94,22.5 293.01,25.17 293.08,27.64 293.15,29.92 293.22,32.03 293.28,33.98 293.35,35.79 293.42,37.45 293.49,39 293.56,40.42 293.63,41.74 293.7,42.96 293.77,44.08 293.84,45.12 293.91,46.08 293.98,46.97 294.05,47.78 294.12,48.54 294.18,49.24 294.25,49.88 294.32,50.47 294.39,51.02 294.46,51.53 294.53,51.99 294.6,52.42 294.67,52.81 294.74,53.18 294.81,53.51 294.88,53.82 294.95,54.1 295.02,54.36 295.08,54.6 295.15,54.81 295.22,55.01 295.29,55.2 295.36,55.36 295.43,55.52 295.5,55.66 295.59,55.82 296.3,56.58 297,56.79 297.71,56.76 298.41,56.64 299.12,56.48 299.83,56.31 300.53,56.15 301.24,56 301.94,55.86 302.65,55.73 303.36,55.61 304.06,55.49 304.77,55.39 305.48,55.3 306.18,55.21 306.89,55.14 307.59,55.06 308.3,55 309.01,54.94 309.71,54.88 310.42,54.83 311.12,54.79 311.83,54.74 312.54,54.71 313.24,54.67 313.95,54.64 314.65,54.61 315.36,54.58 316.07,54.55 316.77,54.53 317.48,54.51 318.19,54.49 318.89,54.47 319.6,54.46 320.3,54.44 321.01,54.43 321.72,54.42 322.42,54.4 323.13,54.39 323.83,54.38 324.54,54.37 325.25,54.37 325.95,54.36 326.66,54.35 327.36,54.35 328.07,54.34 328.78,54.34 329.48,54.33 330.19,54.33 330.9,54.32 331.6,54.32 332.31,54.32 333.01,54.31 333.72,54.31 334.43,54.31 335.13,54.3 335.84,54.3 336.54,54.3 337.25,54.3 337.96,54.3 338.66,54.29 339.37,54.29 340.07,54.29 340.78,54.29 341.49,54.29 342.19,54.29 342.9,54.29 343.61,54.29 344.31,54.29 345.02,54.29 345.72,54.28 346.43,54.28 347.14,54.28 347.84,54.28 348.55,54.28 349.25,54.28 349.96,54.28 350.67,54.28 351.37,54.28 352.08,54.28 352.78,54.28 353.49,54.28 354.2,54.28 354.9,54.28 355.61,54.28 356.32,54.28 357.02,54.28 357.73,54.28 358.43,54.28 359.14,54.28 359.85,54.28 360.55,54.28 361.26,54.28 361.96,54.28 362.67,54.28 363.38,54.28 364.08,54.28 364.79,54.28 365.49,54.28 366.2,54.28 366.91,54.28 367.61,54.28 368.32,54.28 369.03,54.28 369.73,54.28 370.44,54.28 371.14,54.28 371.85,54.28 372.56,54.28 373.26,54.28 373.97,54.28 374.67,54.28 375.38,54.28 376.09,54.28 376.79,54.28 377.5,54.28 378.2,54.28 378.91,54.28 379.62,54.28 380.32,54.28 381.03,54.28 381.74,54.28 382.44,54.28 383.15,54.28 383.85,54.28 384.56,54.28 385.27,54.28 385.97,54.28 386.68,54.28 387.38,54.28 388.09,54.28 388.8,54.28 389.5,54.28 390.21,54.28 390.91,54.28 391.62,54.28 392.33,54.28 393.03,54.28 393.74,54.28 394.45,54.28 395.15,54.28 395.86,54.28 396.56,54.28 397.27,54.28 397.98,54.28 398.68,54.28 399.39,54.28 400.09,54.28 400.8,54.28" fill="none" stroke="#f59a4a" stroke-width="0.8" stroke-linejoin="round" />
</g>
<line x1="292.5" y1="16" x2="401" y2="16" stroke="#3a3a3a" stroke-width="1.0" stroke-linecap="square"/>
<line x1="292.5" y1="96.5" x2="401" y2="96.5" stroke="#3a3a3a" stroke-width="1.0" stroke-linecap="square"/>
<line x1="292.5" y1="16" x2="292.5" y2="96.5" stroke="#3a3a3a" stroke-width="1.0" stroke-linecap="square"/>
<line x1="401" y1="16" x2="401" y2="96.5" stroke="#3a3a3a" stroke-width="1.0" stroke-linecap="square"/>
<line x1="292.5" y1="96.5" x2="290.3" y2="96.5" stroke="#333" stroke-width="0.9" />
<text x="287.7" y="98.87" font-size="5.6" text-anchor="end" fill="#222" stroke="#222" >-120</text>
<line x1="292.5" y1="69.5" x2="290.3" y2="69.5" stroke="#333" stroke-width="0.9" />
<text x="287.7" y="71.87" font-size="5.6" text-anchor="end" fill="#222" stroke="#222" >-90</text>
<line x1="292.5" y1="43.5" x2="290.3" y2="43.5" stroke="#333" stroke-width="0.9" />
<text x="287.7" y="45.87" font-size="5.6" text-anchor="end" fill="#222" stroke="#222" >-60</text>
<line x1="292.5" y1="16.5" x2="290.3" y2="16.5" stroke="#333" stroke-width="0.9" />
<text x="287.7" y="18.87" font-size="5.6" text-anchor="end" fill="#222" stroke="#222" >-30</text>
<line x1="292.5" y1="83.5" x2="291.2" y2="83.5" stroke="#333" stroke-width="0.8" />
<line x1="292.5" y1="56.5" x2="291.2" y2="56.5" stroke="#333" stroke-width="0.8" />
<line x1="292.5" y1="29.5" x2="291.2" y2="29.5" stroke="#333" stroke-width="0.8" />
<line x1="292.5" y1="96.5" x2="292.5" y2="98.7" stroke="#333" stroke-width="0.9" />
<text x="292.5" y="105.6" font-size="5.6" text-anchor="middle" fill="#222" stroke="#222" >0</text>
<line x1="328.5" y1="96.5" x2="328.5" y2="98.7" stroke="#333" stroke-width="0.9" />
<text x="328.5" y="105.6" font-size="5.6" text-anchor="middle" fill="#222" stroke="#222" >40</text>
<line x1="364.5" y1="96.5" x2="364.5" y2="98.7" stroke="#333" stroke-width="0.9" />
<text x="364.5" y="105.6" font-size="5.6" text-anchor="middle" fill="#222" stroke="#222" >80</text>
<line x1="400.5" y1="96.5" x2="400.5" y2="98.7" stroke="#333" stroke-width="0.9" />
<text x="400.5" y="105.6" font-size="5.6" text-anchor="middle" fill="#222" stroke="#222" >120</text>
<line x1="310.5" y1="96.5" x2="310.5" y2="97.8" stroke="#333" stroke-width="0.8" />
<line x1="346.5" y1="96.5" x2="346.5" y2="97.8" stroke="#333" stroke-width="0.8" />
<line x1="382.5" y1="96.5" x2="382.5" y2="97.8" stroke="#333" stroke-width="0.8" />
<text x="278.2" y="53.8" font-size="5.7" text-anchor="middle" fill="#222" stroke="#222" transform="rotate(-90 278.2 53.8)">Current density (mA cm<tspan font-size="70%" dy="-1.8">−2</tspan><tspan dy="1.8">​</tspan>)</text>
<text x="346.8" y="113.2" font-size="5.5" text-anchor="middle" fill="#222" stroke="#222" >Time (s)</text>
<text x="304" y="52.1" font-size="5.85" text-anchor="start" fill="#222" stroke="#222" >3D Diffusion</text>
<text x="297.4" y="69.6" font-size="5.85" text-anchor="start" fill="#222" stroke="#222" >2D Diffusion</text>
<line x1="342.3" y1="24.4" x2="355.1" y2="24.4" stroke="#f7a560" stroke-width="0.8" />
<text x="356.7" y="26.4" font-size="5.5" text-anchor="start" fill="#222" stroke="#222" >ZnSO<tspan font-size="70%" dy="1.4">4</tspan><tspan dy="-1.4">​</tspan>/FU</text>
<line x1="342.3" y1="32.9" x2="355.1" y2="32.9" stroke="#e8777a" stroke-width="0.8" />
<text x="356.7" y="34.9" font-size="5.5" text-anchor="start" fill="#222" stroke="#222" >ZnSO<tspan font-size="70%" dy="1.4">4</tspan><tspan dy="-1.4">​</tspan>/MA</text>
<line x1="342.3" y1="41.4" x2="355.1" y2="41.4" stroke="#5aa6e0" stroke-width="0.8" />
<text x="356.7" y="43.4" font-size="5.5" text-anchor="start" fill="#222" stroke="#222" >ZnSO<tspan font-size="70%" dy="1.4">4</tspan><tspan dy="-1.4">​</tspan></text>
<text x="405.3" y="9.1" font-size="12.4" text-anchor="start" fill="#111" stroke="#111" >c</text>
<line x1="434.6" y1="32.26" x2="510.3" y2="70.68" stroke="#5aa6e6" stroke-width="0.7" />
<circle cx="434.6" cy="33.6" r="1.7" fill="#3b8fe0" stroke="none" stroke-width="0.5" />
<circle cx="458.3" cy="43.4" r="1.7" fill="#3b8fe0" stroke="none" stroke-width="0.5" />
<circle cx="469.4" cy="48.5" r="1.7" fill="#3b8fe0" stroke="none" stroke-width="0.5" />
<circle cx="499.5" cy="65.4" r="1.7" fill="#3b8fe0" stroke="none" stroke-width="0.5" />
<circle cx="505.9" cy="68.6" r="1.7" fill="#3b8fe0" stroke="none" stroke-width="0.5" />
<circle cx="510.3" cy="71.3" r="1.7" fill="#3b8fe0" stroke="none" stroke-width="0.5" />
<line x1="453.4" y1="34.68" x2="508.6" y2="65.83" stroke="#d83030" stroke-width="0.7" />
<circle cx="453.4" cy="35" r="1.7" fill="#cc1010" stroke="none" stroke-width="0.5" />
<circle cx="463.7" cy="40.4" r="1.7" fill="#cc1010" stroke="none" stroke-width="0.5" />
<circle cx="486.3" cy="52.7" r="1.7" fill="#cc1010" stroke="none" stroke-width="0.5" />
<circle cx="501" cy="61.3" r="1.7" fill="#cc1010" stroke="none" stroke-width="0.5" />
<circle cx="505.9" cy="64.5" r="1.7" fill="#cc1010" stroke="none" stroke-width="0.5" />
<circle cx="508.6" cy="66.2" r="1.7" fill="#cc1010" stroke="none" stroke-width="0.5" />
<line x1="449.5" y1="30.93" x2="513.2" y2="64.91" stroke="#f5961f" stroke-width="0.7" />
<circle cx="449.5" cy="31.1" r="1.7" fill="#f5861f" stroke="none" stroke-width="0.5" />
<circle cx="458.8" cy="36" r="1.7" fill="#f5861f" stroke="none" stroke-width="0.5" />
<circle cx="469.4" cy="41.7" r="1.7" fill="#f5861f" stroke="none" stroke-width="0.5" />
<circle cx="486.3" cy="49.8" r="1.7" fill="#f5861f" stroke="none" stroke-width="0.5" />
<circle cx="497.5" cy="56.4" r="1.7" fill="#f5861f" stroke="none" stroke-width="0.5" />
<circle cx="513.2" cy="65.4" r="1.7" fill="#f5861f" stroke="none" stroke-width="0.5" />
<line x1="424.5" y1="17.5" x2="532.5" y2="17.5" stroke="#3a3a3a" stroke-width="1.0" stroke-linecap="square"/>
<line x1="424.5" y1="96.5" x2="532.5" y2="96.5" stroke="#3a3a3a" stroke-width="1.0" stroke-linecap="square"/>
<line x1="424.5" y1="17.5" x2="424.5" y2="96.5" stroke="#3a3a3a" stroke-width="1.0" stroke-linecap="square"/>
<line x1="532.5" y1="17.5" x2="532.5" y2="96.5" stroke="#3a3a3a" stroke-width="1.0" stroke-linecap="square"/>
<line x1="424.5" y1="81.5" x2="422.3" y2="81.5" stroke="#333" stroke-width="0.9" />
<text x="419.7" y="83.87" font-size="5.6" text-anchor="end" fill="#222" stroke="#222" >-8</text>
<line x1="424.5" y1="49.5" x2="422.3" y2="49.5" stroke="#333" stroke-width="0.9" />
<text x="419.7" y="51.87" font-size="5.6" text-anchor="end" fill="#222" stroke="#222" >-6</text>
<line x1="424.5" y1="17.5" x2="422.3" y2="17.5" stroke="#333" stroke-width="0.9" />
<text x="419.7" y="19.87" font-size="5.6" text-anchor="end" fill="#222" stroke="#222" >-4</text>
<line x1="424.5" y1="65.5" x2="423.2" y2="65.5" stroke="#333" stroke-width="0.8" />
<line x1="424.5" y1="33.5" x2="423.2" y2="33.5" stroke="#333" stroke-width="0.8" />
<line x1="434.5" y1="96.5" x2="434.5" y2="98.7" stroke="#333" stroke-width="0.9" />
<text x="434.5" y="105.9" font-size="5.6" text-anchor="middle" fill="#222" stroke="#222" >3.0</text>
<line x1="483.5" y1="96.5" x2="483.5" y2="98.7" stroke="#333" stroke-width="0.9" />
<text x="483.5" y="105.9" font-size="5.6" text-anchor="middle" fill="#222" stroke="#222" >3.5</text>
<line x1="532.5" y1="96.5" x2="532.5" y2="98.7" stroke="#333" stroke-width="0.9" />
<text x="532.5" y="105.9" font-size="5.6" text-anchor="middle" fill="#222" stroke="#222" >4.0</text>
<line x1="458.5" y1="96.5" x2="458.5" y2="97.8" stroke="#333" stroke-width="0.8" />
<line x1="508.5" y1="96.5" x2="508.5" y2="97.8" stroke="#333" stroke-width="0.8" />
<text x="411.3" y="57" font-size="5.3" text-anchor="middle" fill="#222" stroke="#222" transform="rotate(-90 411.3 57)">lnR<tspan font-size="70%" dy="1.4">ct</tspan><tspan dy="-1.4">​</tspan><tspan font-size="70%" dy="-1.8">−1</tspan><tspan dy="1.8">​</tspan> (Ω<tspan font-size="70%" dy="-1.8">−1</tspan><tspan dy="1.8">​</tspan>)</text>
<text x="478.6" y="113.2" font-size="5.5" text-anchor="middle" fill="#222" stroke="#222" >1000/T (K<tspan font-size="70%" dy="-1.8">−1</tspan><tspan dy="1.8">​</tspan>)</text>
<circle cx="491.2" cy="27.6" r="1.8" fill="#f5861f" stroke="none" stroke-width="0.5" />
<text x="498.8" y="29.7" font-size="6.0" text-anchor="start" fill="#222" stroke="#222" >ZnSO<tspan font-size="70%" dy="1.4">4</tspan><tspan dy="-1.4">​</tspan>/FU</text>
<circle cx="491.2" cy="34.45" r="1.8" fill="#cc1010" stroke="none" stroke-width="0.5" />
<text x="498.8" y="36.55" font-size="6.0" text-anchor="start" fill="#222" stroke="#222" >ZnSO<tspan font-size="70%" dy="1.4">4</tspan><tspan dy="-1.4">​</tspan>/MA</text>
<circle cx="491.2" cy="41.3" r="1.8" fill="#3b8fe0" stroke="none" stroke-width="0.5" />
<text x="498.8" y="43.4" font-size="6.0" text-anchor="start" fill="#222" stroke="#222" >ZnSO<tspan font-size="70%" dy="1.4">4</tspan><tspan dy="-1.4">​</tspan></text>
<text x="433" y="76.3" font-size="4.5" text-anchor="start" fill="#f28a26" stroke="#f28a26" >E<tspan font-size="70%" dy="0.9">a</tspan><tspan dy="-0.9">​</tspan>(ZnSO<tspan font-size="70%" dy="0.9">4</tspan><tspan dy="-0.9">​</tspan>/FU) = 27.7 KJ mol<tspan font-size="70%" dy="-1.4">−1</tspan><tspan dy="1.4">​</tspan></text>
<text x="433" y="84.3" font-size="4.5" text-anchor="start" fill="#d01818" stroke="#d01818" >E<tspan font-size="70%" dy="0.9">a</tspan><tspan dy="-0.9">​</tspan>(ZnSO<tspan font-size="70%" dy="0.9">4</tspan><tspan dy="-0.9">​</tspan>/MA) = 29.0 KJ mol<tspan font-size="70%" dy="-1.4">−1</tspan><tspan dy="1.4">​</tspan></text>
<text x="433" y="91.8" font-size="4.5" text-anchor="start" fill="#3b8fe0" stroke="#3b8fe0" >E<tspan font-size="70%" dy="0.9">a</tspan><tspan dy="-0.9">​</tspan>(ZnSO<tspan font-size="70%" dy="0.9">4</tspan><tspan dy="-0.9">​</tspan>) = 40.6 KJ mol<tspan font-size="70%" dy="-1.4">−1</tspan><tspan dy="1.4">​</tspan></text>
<text x="4.1" y="121.9" font-size="12.4" text-anchor="start" fill="#111" stroke="#111" >d</text>
<polygon points="30.5,161.42 31,162.06 31.5,161.75 32,162.01 32.5,162.24 33,161.85 33.5,161.82 34,161.44 34.5,161.62 35,161.83 35.5,162 36,162.11 36.5,161.73 37,161.45 37.5,161.66 38,162.22 38.5,161.6 39,161.82 39.5,162.25 40,161.44 40.5,161.96 41,162.28 41.5,161.63 42,161.92 42.5,162.25 43,161.56 43.5,161.91 44,162.12 44.5,162.05 45,161.87 45.5,161.59 46,161.81 46.5,161.67 47,161.72 47.5,161.58 48,161.96 48.5,161.86 49,161.41 49.5,161.61 50,161.3 50.5,161.42 51,161.29 51.5,161.52 52,161.22 52.5,161.26 53,161.46 53.5,161.14 54,161.55 54.5,160.85 55,161.32 55.5,161.08 56,161.13 56.5,161.37 57,161.32 57.5,161.27 58,160.95 58.5,161.08 59,161.69 59.5,161.57 60,161.78 60.5,162.06 61,161.86 61.5,161.35 62,161.63 62.5,161.93 63,161.66 63.5,162.36 64,162.39 64.5,162.35 65,162.06 65.5,162.44 66,161.85 66.5,162.06 67,162.24 67.5,162.54 68,162.36 68.5,162.09 69,162.33 69.5,162.36 70,162.39 70.5,162.31 71,162.58 71.5,162.66 72,163 72.5,163.07 73,162.87 73.5,162.86 74,163.2 74.5,163.34 75,163.2 75.5,163.36 76,163.53 76.5,162.77 77,163.57 77.5,163.08 78,163.31 78.5,163.65 79,163.62 79.5,163.16 80,163.66 80.5,163.18 81,163.49 81.5,163.95 82,163.65 82.5,163.85 83,164.01 83.5,164.15 84,164.14 84.5,163.51 85,163.93 85.5,163.97 86,163.6 86.5,164.04 87,164.11 87.5,164.31 88,164.41 88.5,163.68 89,163.78 89.5,164.16 90,163.69 90.5,163.78 91,164.1 91.5,163.73 92,164.29 92.5,164.36 93,163.62 93.5,164.07 94,164.31 94.5,164.47 95,163.84 95.5,163.75 96,164.39 96.5,164.42 97,163.78 97.5,164.01 98,164.26 98.5,164.37 99,163.77 99.5,164.22 100,164.35 100.5,164.12 101,163.77 101.5,163.66 102,163.88 102.5,164.36 103,163.67 103.5,163.64 104,163.96 104.5,163.7 105,163.78 105.5,163.67 106,164.12 106.5,164.28 107,164.04 107.5,163.77 108,163.95 108.5,164.19 109,164.51 109.5,164.56 110,163.88 110.5,163.68 111,164.42 111.5,164.51 112,164.09 112.5,164.37 113,164.46 113.5,164.23 114,164.47 114.5,163.71 115,163.93 115.5,163.94 116,163.8 116.5,164.52 117,163.73 117.5,164.31 118,163.77 118.5,164.03 119,164.08 119.5,163.87 120,164.18 120.5,164.2 121,164 121.5,164.38 122,163.86 122.5,163.9 123,164.04 123.5,164.07 124,163.92 124.5,164.56 125,164.48 125.5,163.83 126,164.07 126.5,163.95 127,164.15 127.5,163.99 128,164.2 128.5,164.58 129,164.1 129.5,164.34 130,164.29 130.5,164.44 131,163.82 131.5,164.43 132,164.62 132.5,164.31 133,164.03 133.5,164.38 134,164.42 134.5,164.37 135,163.91 135.5,164.66 136,164.65 136.5,164.17 137,164.32 137.5,163.83 138,164.68 138.5,164.53 139,164.37 139.5,164.49 140,163.97 140.5,164.08 141,164.03 141.5,164.35 142,163.9 142.5,164.62 143,164.23 143.5,164.22 144,163.92 144.5,164.44 145,164.56 145.5,164.4 146,164.05 146.5,164.54 147,163.97 147.5,164.58 148,164.36 148.5,164.1 149,164.31 149.5,164.41 150,164.08 150.5,164.6 151,164.21 151.5,164.63 152,164.57 152.5,163.9 153,164.38 153.5,164.07 154,164.46 154.5,164.27 155,164.18 155.5,164.57 156,163.81 156.5,164.25 157,164.03 157.5,163.76 158,164.4 158.5,164.22 159,164.51 159.5,164.24 160,163.99 160.5,164.57 161,163.78 161.5,163.71 162,164.32 162.5,163.98 163,163.97 163.5,164.42 164,163.92 164.5,164.42 165,164.19 165.5,163.9 166,163.65 166.5,163.81 167,164.45 167.5,163.93 168,163.71 168.5,163.82 169,164.36 169.5,163.69 170,164.23 170.5,163.64 171,164.38 171.5,163.98 172,163.54 172.5,164.33 173,163.8 173.5,164.13 174,163.94 174.5,163.54 175,163.55 175.5,163.58 176,163.58 176.5,163.47 177,163.46 177.5,164.26 178,163.48 178.5,163.85 179,163.49 179.5,163.57 180,164.06 180.5,164.21 181,163.78 181.5,163.35 182,164.24 182.5,163.37 183,163.67 183.5,163.8 184,164.11 184.5,164.04 185,163.84 185.5,163.64 186,164.03 186.5,164.05 187,164.04 187.5,163.9 188,163.33 188.5,163.5 189,163.66 189.5,163.67 190,163.96 190.5,163.42 191,163.79 191.5,163.52 192,163.88 192.5,163.35 193,163.59 193.5,163.25 194,163.34 194.5,163.98 195,163.41 195.5,163.93 196,163.59 196.5,163.14 197,163.81 197.5,163.14 198,163.83 198.5,163.08 199,163.67 199.5,163.21 200,163.36 200.5,163.89 201,163.45 201.5,163.59 202,163.65 202.5,163.07 203,163.71 203.5,163.76 204,163.06 204.5,163.39 205,163.14 205.5,163.53 206,162.88 206.5,163.3 207,163.53 207.5,163.46 208,162.88 208.5,163.52 209,162.97 209.5,163.46 210,163.17 210.5,162.85 211,163.35 211.5,163.4 212,163.28 212.5,163.51 213,162.85 213.5,162.82 214,162.72 214.5,163.06 215,162.91 215.5,162.86 216,162.94 216.5,162.75 217,162.49 217.5,162.9 218,162.7 218.5,162.84 219,163.26 219.5,162.57 220,162.96 220.5,162.95 221,162.61 221.5,162.76 222,163.2 222.5,162.61 223,162.93 223.5,163.03 224,162.58 224.5,163.13 225,162.79 225.5,162.66 226,162.83 226.5,162.56 227,162.8 227.5,162.39 228,162.96 228.5,162.6 229,162.31 229.5,162.47 230,162.86 230.5,162.77 231,162.46 231.5,162.33 232,162.33 232.5,162.86 233,162.06 233.5,162.74 234,162.7 234.5,162.11 235,162.21 235.5,162.39 236,162.58 236.5,162.7 237,162.72 237.5,162.06 238,161.97 238.5,162.22 239,162.26 239.5,162.34 240,161.83 240.5,162.29 241,162.52 241.5,162.5 242,162.51 242.5,162.48 243,162.49 243.5,161.66 244,162.42 244.5,161.82 245,161.85 245,175.23 244.5,174.99 244,175.49 243.5,175.31 243,175.07 242.5,175.07 242,175.26 241.5,175.18 241,175.48 240.5,174.96 240,174.88 239.5,174.75 239,174.76 238.5,174.91 238,175.37 237.5,175.14 237,174.72 236.5,175.23 236,175.09 235.5,175.38 235,175.47 234.5,174.96 234,175.48 233.5,175.02 233,174.78 232.5,175.32 232,175.07 231.5,174.55 231,174.77 230.5,174.79 230,175.05 229.5,175.3 229,174.87 228.5,175.26 228,174.82 227.5,174.67 227,175.05 226.5,174.61 226,175.18 225.5,174.82 225,175.14 224.5,175.27 224,175.13 223.5,175.26 223,174.39 222.5,174.66 222,174.67 221.5,174.9 221,174.98 220.5,174.35 220,174.41 219.5,174.9 219,174.96 218.5,174.99 218,174.25 217.5,175.06 217,174.79 216.5,174.46 216,174.26 215.5,174.4 215,174.59 214.5,175.01 214,175.05 213.5,174.84 213,174.98 212.5,174.68 212,174.16 211.5,174.44 211,174.93 210.5,174.16 210,174.25 209.5,174.69 209,174.42 208.5,174.83 208,174.54 207.5,174.78 207,174.42 206.5,174.66 206,174.55 205.5,174.58 205,174.52 204.5,174.12 204,174.33 203.5,174.32 203,174.37 202.5,174.03 202,174.52 201.5,174.31 201,174.67 200.5,174.52 200,174.11 199.5,174.04 199,174.12 198.5,174.62 198,174.27 197.5,174.61 197,174.46 196.5,174.33 196,174.13 195.5,174.51 195,174.53 194.5,174.3 194,173.82 193.5,173.91 193,174.35 192.5,174.27 192,174.11 191.5,173.79 191,174.27 190.5,173.8 190,174.3 189.5,174.41 189,173.87 188.5,173.95 188,174.17 187.5,174.44 187,173.99 186.5,174.49 186,174.41 185.5,174.31 185,174.39 184.5,174.31 184,174.19 183.5,174.12 183,174.06 182.5,173.82 182,174.34 181.5,173.92 181,174.52 180.5,173.99 180,173.75 179.5,174.13 179,174.09 178.5,173.89 178,173.77 177.5,174.17 177,174.05 176.5,173.64 176,174.22 175.5,173.77 175,174.39 174.5,173.83 174,173.66 173.5,174.28 173,173.8 172.5,174 172,174.4 171.5,173.56 171,174.07 170.5,173.77 170,173.53 169.5,173.83 169,173.61 168.5,173.82 168,174.2 167.5,173.92 167,173.95 166.5,173.59 166,174.22 165.5,173.49 165,173.73 164.5,173.68 164,174.24 163.5,174.04 163,174.24 162.5,174.07 162,174.1 161.5,173.74 161,173.95 160.5,173.39 160,173.87 159.5,174.07 159,173.58 158.5,173.56 158,174.09 157.5,174.16 157,173.69 156.5,173.9 156,173.46 155.5,173.67 155,173.62 154.5,173.58 154,173.98 153.5,173.71 153,173.66 152.5,173.63 152,173.65 151.5,173.57 151,173.37 150.5,174.05 150,173.99 149.5,173.74 149,173.42 148.5,173.77 148,173.31 147.5,173.4 147,173.4 146.5,173.89 146,174.06 145.5,173.49 145,173.78 144.5,173.64 144,173.34 143.5,173.99 143,173.44 142.5,173.78 142,174.17 141.5,173.28 141,174.05 140.5,173.68 140,173.52 139.5,173.84 139,174.03 138.5,173.59 138,173.52 137.5,174.01 137,174.13 136.5,173.34 136,173.35 135.5,173.93 135,173.35 134.5,173.65 134,173.53 133.5,173.43 133,173.67 132.5,174.09 132,173.97 131.5,173.93 131,173.89 130.5,173.45 130,173.92 129.5,173.6 129,173.34 128.5,174.06 128,173.55 127.5,173.92 127,173.38 126.5,173.89 126,174.18 125.5,173.86 125,173.94 124.5,173.37 124,174.06 123.5,173.33 123,174.15 122.5,174.05 122,173.83 121.5,173.41 121,173.95 120.5,174.04 120,173.61 119.5,173.66 119,173.8 118.5,173.36 118,173.5 117.5,174.1 117,173.82 116.5,173.78 116,173.56 115.5,174.07 115,173.75 114.5,173.42 114,173.41 113.5,173.5 113,174.23 112.5,174.02 112,173.65 111.5,173.54 111,173.84 110.5,173.78 110,174.14 109.5,174 109,174.16 108.5,173.6 108,173.94 107.5,173.79 107,173.66 106.5,174.16 106,174.1 105.5,173.51 105,174.18 104.5,174.05 104,174.03 103.5,173.53 103,173.76 102.5,174.26 102,173.65 101.5,174.1 101,173.51 100.5,173.67 100,173.59 99.5,173.85 99,173.55 98.5,173.76 98,174 97.5,173.5 97,173.75 96.5,173.64 96,173.88 95.5,173.81 95,173.44 94.5,173.43 94,173.67 93.5,173.54 93,173.82 92.5,174.25 92,173.78 91.5,173.69 91,173.53 90.5,173.55 90,173.45 89.5,174.13 89,173.51 88.5,174.26 88,174.26 87.5,173.6 87,173.51 86.5,174.25 86,174.03 85.5,174.08 85,174.23 84.5,173.75 84,174.22 83.5,173.93 83,173.68 82.5,173.91 82,174.22 81.5,174.02 81,174.05 80.5,174.42 80,174.37 79.5,174.83 79,174.65 78.5,174.66 78,174.63 77.5,175.07 77,175.13 76.5,174.31 76,174.64 75.5,174.95 75,174.56 74.5,174.84 74,175.33 73.5,175.44 73,175.18 72.5,175.53 72,175.61 71.5,175.12 71,175.14 70.5,174.94 70,175.38 69.5,175.44 69,175.39 68.5,175.22 68,175.93 67.5,175.21 67,176.06 66.5,175.73 66,175.79 65.5,176.27 65,175.75 64.5,176.07 64,176 63.5,175.73 63,176.54 62.5,176.24 62,175.85 61.5,176.54 61,176.32 60.5,176.57 60,176.5 59.5,176.27 59,176.5 58.5,176.47 58,176.7 57.5,177.11 57,176.53 56.5,176.54 56,177.21 55.5,177.33 55,176.61 54.5,176.66 54,176.65 53.5,176.83 53,176.81 52.5,177.42 52,177.47 51.5,177.49 51,176.9 50.5,176.68 50,176.89 49.5,176.54 49,176.71 48.5,176.75 48,176.33 47.5,176.89 47,176.77 46.5,176.87 46,176.35 45.5,176.16 45,176.22 44.5,176.22 44,176.38 43.5,176.12 43,176.38 42.5,176.53 42,175.93 41.5,176.06 41,175.98 40.5,176.1 40,176.33 39.5,176.12 39,175.94 38.5,175.84 38,176.51 37.5,176.59 37,176.27 36.5,175.95 36,176.26 35.5,175.95 35,176.08 34.5,175.97 34,175.87 33.5,176.49 33,176.56 32.5,176.09 32,176.07 31.5,176.29 31,176.61 30.5,176.16" fill="#cf0a10" stroke="none" stroke-width="0" />
<polygon points="30.5,164.87 31,165.04 31.5,164.7 32,164.78 32.5,164.88 33,164.67 33.5,164.92 34,165.11 34.5,164.77 35,164.88 35.5,164.71 36,164.92 36.5,165.16 37,164.95 37.5,164.8 38,164.86 38.5,165.02 39,165.15 39.5,164.96 40,164.99 40.5,165.16 41,164.81 41.5,165.25 42,165.01 42.5,164.96 43,165.19 43.5,164.94 44,164.9 44.5,164.96 45,165.18 45.5,164.9 46,165.09 46.5,164.99 47,165.16 47.5,164.96 48,165.29 48.5,165.38 49,165.08 49.5,165.11 50,165.24 50.5,165.32 51,164.99 51.5,165.31 52,165.39 52.5,165.39 53,165.22 53.5,165.43 54,165.3 54.5,165.13 55,165.19 55.5,165.35 56,165.34 56.5,165.48 57,165.44 57.5,165.2 58,165.3 58.5,165.5 59,165.35 59.5,165.25 60,165.61 60.5,165.38 61,165.32 61.5,165.43 62,165.34 62.5,165.33 63,165.54 63.5,165.61 64,165.43 64.5,165.32 65,165.48 65.5,165.46 66,165.48 66.5,165.4 67,165.67 67.5,165.4 68,165.33 68.5,165.67 69,165.7 69.5,165.46 70,165.43 70.5,165.65 71,165.83 71.5,165.5 72,165.66 72.5,165.53 73,165.78 73.5,165.65 74,165.62 74.5,165.77 75,165.71 75.5,165.56 76,165.68 76.5,165.96 77,165.89 77.5,165.75 78,165.84 78.5,165.59 79,165.74 79.5,165.99 80,165.64 80.5,166.05 81,165.99 81.5,165.92 82,165.78 82.5,165.65 83,165.76 83.5,165.99 84,165.84 84.5,166.04 85,165.76 85.5,166.06 86,166.08 86.5,166.01 87,165.75 87.5,165.75 88,165.67 88.5,165.66 89,166.01 89.5,165.88 90,166.02 90.5,165.77 91,165.8 91.5,166.08 92,166.13 92.5,165.68 93,166.02 93.5,165.9 94,165.62 94.5,165.93 95,165.76 95.5,165.79 96,166.1 96.5,165.99 97,165.64 97.5,165.95 98,165.62 98.5,166.05 99,165.91 99.5,165.92 100,165.61 100.5,165.64 101,165.86 101.5,165.79 102,166.01 102.5,165.74 103,165.79 103.5,165.65 104,165.84 104.5,166.07 105,165.72 105.5,165.98 106,165.67 106.5,166.03 107,165.84 107.5,165.64 108,165.97 108.5,166.02 109,165.65 109.5,165.63 110,165.7 110.5,165.83 111,166.05 111.5,166 112,165.73 112.5,165.58 113,165.86 113.5,165.85 114,165.68 114.5,165.86 115,166.05 115.5,165.63 116,165.71 116.5,165.98 117,165.63 117.5,165.61 118,165.63 118.5,165.93 119,165.61 119.5,165.59 120,165.86 120.5,165.92 121,165.92 121.5,165.75 122,165.99 122.5,165.61 123,165.75 123.5,165.72 124,165.8 124.5,165.63 125,165.6 125.5,166.02 126,165.67 126.5,165.77 127,165.98 127.5,165.67 128,165.7 128.5,165.8 129,165.55 129.5,165.52 130,165.83 130.5,165.7 131,165.55 131.5,165.65 132,165.85 132.5,165.88 133,165.76 133.5,165.61 134,165.92 134.5,165.6 135,165.87 135.5,165.57 136,165.96 136.5,165.88 137,165.74 137.5,165.71 138,165.77 138.5,165.82 139,165.76 139.5,165.83 140,165.52 140.5,165.69 141,165.85 141.5,165.7 142,165.96 142.5,165.74 143,165.63 143.5,165.92 144,165.68 144.5,165.74 145,165.79 145.5,165.89 146,165.57 146.5,165.9 147,165.75 147.5,165.64 148,165.62 148.5,165.95 149,165.93 149.5,165.72 150,165.62 150.5,165.93 151,165.45 151.5,165.47 152,165.68 152.5,165.73 153,165.44 153.5,165.53 154,165.47 154.5,165.55 155,165.52 155.5,165.48 156,165.48 156.5,165.6 157,165.48 157.5,165.8 158,165.61 158.5,165.46 159,165.73 159.5,165.79 160,165.58 160.5,165.4 161,165.72 161.5,165.77 162,165.83 162.5,165.74 163,165.68 163.5,165.55 164,165.5 164.5,165.41 165,165.78 165.5,165.65 166,165.51 166.5,165.43 167,165.5 167.5,165.74 168,165.46 168.5,165.38 169,165.54 169.5,165.52 170,165.69 170.5,165.62 171,165.58 171.5,165.82 172,165.76 172.5,165.4 173,165.45 173.5,165.54 174,165.36 174.5,165.7 175,165.7 175.5,165.46 176,165.77 176.5,165.59 177,165.42 177.5,165.62 178,165.64 178.5,165.66 179,165.78 179.5,165.75 180,165.5 180.5,165.51 181,165.3 181.5,165.49 182,165.37 182.5,165.34 183,165.68 183.5,165.28 184,165.34 184.5,165.6 185,165.55 185.5,165.48 186,165.66 186.5,165.38 187,165.36 187.5,165.51 188,165.3 188.5,165.59 189,165.71 189.5,165.65 190,165.68 190.5,165.27 191,165.45 191.5,165.68 192,165.65 192.5,165.52 193,165.55 193.5,165.35 194,165.35 194.5,165.25 195,165.66 195.5,165.36 196,165.7 196.5,165.21 197,165.6 197.5,165.46 198,165.22 198.5,165.53 199,165.54 199.5,165.54 200,165.53 200.5,165.52 201,165.57 201.5,165.37 202,165.66 202.5,165.42 203,165.3 203.5,165.66 204,165.31 204.5,165.38 205,165.51 205.5,165.56 206,165.31 206.5,165.17 207,165.44 207.5,165.44 208,165.51 208.5,165.27 209,165.55 209.5,165.52 210,165.57 210.5,165.51 211,165.47 211.5,165.4 212,165.55 212.5,165.23 213,165.45 213.5,165.51 214,165.5 214.5,165.18 215,165.26 215.5,165.57 216,165.49 216.5,165.18 217,165.34 217.5,165.5 218,165.52 218.5,165.35 219,165.14 219.5,165.19 220,165.09 220.5,165.16 221,165.11 221.5,165.42 222,165.42 222.5,165.29 223,165.51 223.5,165.14 224,165.16 224.5,165.36 225,165.32 225.5,165.11 226,165.5 226.5,165.36 227,165.35 227.5,165.23 228,165.34 228.5,165.07 229,165.18 229.5,165.35 230,165.33 230.5,165.29 231,165.05 231.5,165.18 232,165.51 232.5,165.49 233,165.42 233.5,165.04 234,165.04 234.5,165.11 235,165.42 235.5,165.1 236,165.11 236.5,165.12 237,165.36 237.5,165.25 238,165.42 238.5,165.02 239,165.01 239.5,165.4 240,165.03 240.5,165.33 241,165.27 241.5,165.07 242,165.1 242.5,165.33 243,164.97 243.5,165.44 244,164.98 244.5,165.03 245,165.27 245.5,164.99 246,165.4 246.5,165.1 247,164.9 247.5,164.92 248,165.09 248.5,165.23 249,164.9 249.5,164.95 250,165.01 250.5,165.03 251,165.05 251.5,164.82 252,164.82 252.5,165.05 253,165.05 253.5,164.78 254,165.05 254.5,164.62 255,164.92 255.5,164.94 256,164.74 256.5,164.79 257,164.45 257.5,164.82 258,164.72 258.5,164.64 259,164.62 259.5,164.39 260,164.71 260.5,164.53 261,164.54 261.5,164.3 262,164.51 262.5,164.29 263,164.53 263.5,164.14 264,164.17 264.5,164.19 265,164.26 265,173.49 264.5,173.32 264,173.62 263.5,173.39 263,173.54 262.5,173.49 262,173.56 261.5,173.38 261,173.56 260.5,173.51 260,173.42 259.5,173.56 259,173.4 258.5,173.51 258,173.67 257.5,173.57 257,173.33 256.5,173.62 256,173.61 255.5,173.25 255,173.37 254.5,173.39 254,173.2 253.5,173.53 253,173.31 252.5,173.6 252,173.41 251.5,173.49 251,173.26 250.5,173.44 250,173.62 249.5,173.52 249,173.56 248.5,173.54 248,173.39 247.5,173.34 247,173.63 246.5,173.23 246,173.22 245.5,173.25 245,173.37 244.5,173.3 244,173.22 243.5,173.36 243,173.18 242.5,173.15 242,173.22 241.5,173.16 241,173.38 240.5,173.13 240,173.14 239.5,173.29 239,173.14 238.5,173.36 238,173.51 237.5,173.21 237,173.16 236.5,173.39 236,173.21 235.5,173.37 235,173.08 234.5,173.09 234,173.26 233.5,173.12 233,173.09 232.5,173.46 232,173.18 231.5,173.46 231,173.18 230.5,173.05 230,173.08 229.5,173.07 229,173.3 228.5,173.32 228,172.94 227.5,173.2 227,173.13 226.5,173.04 226,173.06 225.5,173.26 225,173.14 224.5,172.9 224,173.2 223.5,173.22 223,173.26 222.5,173.29 222,173.25 221.5,173.18 221,173.01 220.5,172.98 220,173.33 219.5,173.26 219,172.88 218.5,172.98 218,173.05 217.5,173.18 217,173.17 216.5,172.96 216,173.1 215.5,173.1 215,172.86 214.5,173.26 214,172.9 213.5,172.95 213,173.13 212.5,172.95 212,172.97 211.5,172.86 211,173.02 210.5,172.86 210,172.77 209.5,173.02 209,172.74 208.5,172.7 208,172.78 207.5,172.95 207,172.86 206.5,172.99 206,172.68 205.5,172.81 205,172.94 204.5,173.06 204,172.77 203.5,173.07 203,172.96 202.5,172.61 202,173.05 201.5,172.76 201,173.09 200.5,172.81 200,173.06 199.5,172.93 199,172.63 198.5,172.71 198,173.02 197.5,172.84 197,172.74 196.5,172.62 196,173.02 195.5,172.61 195,172.74 194.5,172.79 194,172.87 193.5,172.66 193,172.75 192.5,172.86 192,172.67 191.5,172.78 191,172.68 190.5,172.56 190,172.75 189.5,172.62 189,172.51 188.5,172.62 188,172.56 187.5,172.91 187,172.61 186.5,172.62 186,172.79 185.5,172.84 185,172.73 184.5,172.72 184,172.8 183.5,172.67 183,172.82 182.5,172.41 182,172.79 181.5,172.76 181,172.41 180.5,172.8 180,172.66 179.5,172.46 179,172.33 178.5,172.59 178,172.79 177.5,172.76 177,172.58 176.5,172.43 176,172.42 175.5,172.5 175,172.41 174.5,172.68 174,172.56 173.5,172.39 173,172.32 172.5,172.59 172,172.54 171.5,172.69 171,172.51 170.5,172.55 170,172.66 169.5,172.24 169,172.28 168.5,172.19 168,172.24 167.5,172.32 167,172.61 166.5,172.36 166,172.45 165.5,172.3 165,172.37 164.5,172.62 164,172.56 163.5,172.29 163,172.34 162.5,172.46 162,172.11 161.5,172.28 161,172.2 160.5,172.15 160,172.28 159.5,172.43 159,172.11 158.5,172.54 158,172.5 157.5,172.16 157,172.46 156.5,172.31 156,172.15 155.5,172.05 155,172.36 154.5,172.32 154,172.3 153.5,172.08 153,172.24 152.5,172.34 152,172.39 151.5,172.14 151,172.39 150.5,172.11 150,172.35 149.5,172.33 149,172.41 148.5,172.27 148,172.4 147.5,172.08 147,172.14 146.5,172.02 146,172.26 145.5,172.31 145,171.96 144.5,172.15 144,172.15 143.5,172 143,172.27 142.5,172.04 142,172.13 141.5,172.29 141,171.89 140.5,172.09 140,171.89 139.5,171.93 139,172.17 138.5,172.26 138,172.12 137.5,171.86 137,172.3 136.5,172.19 136,171.86 135.5,172.07 135,171.88 134.5,172.04 134,172.15 133.5,172.05 133,171.82 132.5,171.97 132,172.28 131.5,171.83 131,171.84 130.5,172.06 130,171.87 129.5,171.78 129,171.86 128.5,172.14 128,172.15 127.5,172.19 127,172.07 126.5,171.86 126,172 125.5,171.85 125,171.92 124.5,171.99 124,172.02 123.5,171.98 123,171.97 122.5,172.18 122,172.02 121.5,171.96 121,171.98 120.5,171.89 120,171.98 119.5,171.81 119,171.84 118.5,171.77 118,171.91 117.5,171.89 117,171.95 116.5,171.77 116,172.11 115.5,171.68 115,171.96 114.5,171.68 114,172.03 113.5,172.05 113,171.78 112.5,171.65 112,172.08 111.5,171.88 111,171.8 110.5,171.74 110,171.58 109.5,171.62 109,171.76 108.5,171.75 108,171.84 107.5,171.76 107,171.62 106.5,171.96 106,172.03 105.5,171.91 105,171.59 104.5,172 104,172 103.5,171.68 103,171.99 102.5,171.99 102,171.58 101.5,171.92 101,171.85 100.5,171.57 100,171.83 99.5,171.8 99,171.84 98.5,171.61 98,171.89 97.5,171.7 97,171.51 96.5,171.92 96,171.5 95.5,171.61 95,171.94 94.5,171.55 94,171.93 93.5,171.77 93,171.76 92.5,171.76 92,171.91 91.5,171.55 91,171.86 90.5,171.41 90,171.49 89.5,171.7 89,171.43 88.5,171.74 88,171.51 87.5,171.86 87,171.63 86.5,171.68 86,171.75 85.5,171.8 85,171.42 84.5,171.52 84,171.44 83.5,171.71 83,171.59 82.5,171.45 82,171.77 81.5,171.59 81,171.83 80.5,171.49 80,171.7 79.5,171.97 79,171.91 78.5,171.93 78,171.82 77.5,171.64 77,171.98 76.5,172.03 76,172.02 75.5,171.96 75,172.05 74.5,171.87 74,172.01 73.5,171.71 73,172.17 72.5,171.98 72,171.98 71.5,171.98 71,171.87 70.5,171.82 70,172.22 69.5,171.84 69,172.09 68.5,172.06 68,172.27 67.5,171.88 67,172.18 66.5,172.2 66,171.95 65.5,171.95 65,172 64.5,172.05 64,172.26 63.5,172.29 63,172.35 62.5,172.41 62,172.47 61.5,172.32 61,172.27 60.5,172.51 60,172.3 59.5,172.21 59,172.14 58.5,172.36 58,172.29 57.5,172.33 57,172.38 56.5,172.37 56,172.36 55.5,172.41 55,172.58 54.5,172.26 54,172.46 53.5,172.54 53,172.72 52.5,172.56 52,172.36 51.5,172.59 51,172.73 50.5,172.58 50,172.79 49.5,172.62 49,172.67 48.5,172.64 48,172.92 47.5,172.51 47,172.58 46.5,172.91 46,172.84 45.5,172.66 45,172.7 44.5,172.99 44,172.63 43.5,172.77 43,172.85 42.5,172.61 42,172.95 41.5,172.76 41,172.76 40.5,173.01 40,172.72 39.5,172.69 39,172.73 38.5,173.19 38,172.81 37.5,173.24 37,172.88 36.5,173.26 36,172.91 35.5,173.11 35,172.95 34.5,173 34,173.09 33.5,172.94 33,173.03 32.5,173.08 32,172.92 31.5,173.2 31,172.94 30.5,173.39" fill="#f0862a" stroke="none" stroke-width="0" />
<polygon points="25.6,159.63 26,159.11 26.4,159.9 26.8,159.65 27.2,159.18 27.6,159.95 28,159.81 28.4,160.01 28.8,159.78 29.2,159.6 29.6,159.89 30,159.46 30.4,159.54 30.4,179.24 30,179 29.6,178.88 29.2,179.13 28.8,179.35 28.4,178.63 28,178.73 27.6,178.78 27.2,178.91 26.8,178.91 26.4,179.34 26,178.73 25.6,178.76" fill="#3a8ee0" stroke="none" stroke-width="0" />
<line x1="25.5" y1="129.5" x2="265.5" y2="129.5" stroke="#3a3a3a" stroke-width="1.0" stroke-linecap="square"/>
<line x1="25.5" y1="209.5" x2="265.5" y2="209.5" stroke="#3a3a3a" stroke-width="1.0" stroke-linecap="square"/>
<line x1="25.5" y1="129.5" x2="25.5" y2="209.5" stroke="#3a3a3a" stroke-width="1.0" stroke-linecap="square"/>
<line x1="265.5" y1="129.5" x2="265.5" y2="209.5" stroke="#3a3a3a" stroke-width="1.0" stroke-linecap="square"/>
<line x1="25.5" y1="209.5" x2="23.3" y2="209.5" stroke="#333" stroke-width="0.9" />
<text x="20.7" y="211.87" font-size="5.6" text-anchor="end" fill="#222" stroke="#222" >-0.3</text>
<line x1="25.5" y1="195.5" x2="23.3" y2="195.5" stroke="#333" stroke-width="0.9" />
<text x="20.7" y="197.87" font-size="5.6" text-anchor="end" fill="#222" stroke="#222" >-0.2</text>
<line x1="25.5" y1="182.5" x2="23.3" y2="182.5" stroke="#333" stroke-width="0.9" />
<text x="20.7" y="184.87" font-size="5.6" text-anchor="end" fill="#222" stroke="#222" >-0.1</text>
<line x1="25.5" y1="169.5" x2="23.3" y2="169.5" stroke="#333" stroke-width="0.9" />
<text x="20.7" y="171.87" font-size="5.6" text-anchor="end" fill="#222" stroke="#222" >0.0</text>
<line x1="25.5" y1="156.5" x2="23.3" y2="156.5" stroke="#333" stroke-width="0.9" />
<text x="20.7" y="158.87" font-size="5.6" text-anchor="end" fill="#222" stroke="#222" >0.1</text>
<line x1="25.5" y1="142.5" x2="23.3" y2="142.5" stroke="#333" stroke-width="0.9" />
<text x="20.7" y="144.87" font-size="5.6" text-anchor="end" fill="#222" stroke="#222" >0.2</text>
<line x1="25.5" y1="129.5" x2="23.3" y2="129.5" stroke="#333" stroke-width="0.9" />
<text x="20.7" y="131.87" font-size="5.6" text-anchor="end" fill="#222" stroke="#222" >0.3</text>
<line x1="25.5" y1="202.5" x2="24.2" y2="202.5" stroke="#333" stroke-width="0.8" />
<line x1="25.5" y1="189.5" x2="24.2" y2="189.5" stroke="#333" stroke-width="0.8" />
<line x1="25.5" y1="175.5" x2="24.2" y2="175.5" stroke="#333" stroke-width="0.8" />
<line x1="25.5" y1="162.5" x2="24.2" y2="162.5" stroke="#333" stroke-width="0.8" />
<line x1="25.5" y1="149.5" x2="24.2" y2="149.5" stroke="#333" stroke-width="0.8" />
<line x1="25.5" y1="136.5" x2="24.2" y2="136.5" stroke="#333" stroke-width="0.8" />
<line x1="25.5" y1="209.5" x2="25.5" y2="211.7" stroke="#333" stroke-width="0.9" />
<text x="25.5" y="218.3" font-size="5.6" text-anchor="middle" fill="#222" stroke="#222" >0</text>
<line x1="64.5" y1="209.5" x2="64.5" y2="211.7" stroke="#333" stroke-width="0.9" />
<text x="64.5" y="218.3" font-size="5.6" text-anchor="middle" fill="#222" stroke="#222" >1000</text>
<line x1="103.5" y1="209.5" x2="103.5" y2="211.7" stroke="#333" stroke-width="0.9" />
<text x="103.5" y="218.3" font-size="5.6" text-anchor="middle" fill="#222" stroke="#222" >2000</text>
<line x1="142.5" y1="209.5" x2="142.5" y2="211.7" stroke="#333" stroke-width="0.9" />
<text x="142.5" y="218.3" font-size="5.6" text-anchor="middle" fill="#222" stroke="#222" >3000</text>
<line x1="181.5" y1="209.5" x2="181.5" y2="211.7" stroke="#333" stroke-width="0.9" />
<text x="181.5" y="218.3" font-size="5.6" text-anchor="middle" fill="#222" stroke="#222" >4000</text>
<line x1="220.5" y1="209.5" x2="220.5" y2="211.7" stroke="#333" stroke-width="0.9" />
<text x="220.5" y="218.3" font-size="5.6" text-anchor="middle" fill="#222" stroke="#222" >5000</text>
<line x1="259.5" y1="209.5" x2="259.5" y2="211.7" stroke="#333" stroke-width="0.9" />
<text x="259.5" y="218.3" font-size="5.6" text-anchor="middle" fill="#222" stroke="#222" >6000</text>
<line x1="44.5" y1="209.5" x2="44.5" y2="210.8" stroke="#333" stroke-width="0.8" />
<line x1="83.5" y1="209.5" x2="83.5" y2="210.8" stroke="#333" stroke-width="0.8" />
<line x1="122.5" y1="209.5" x2="122.5" y2="210.8" stroke="#333" stroke-width="0.8" />
<line x1="161.5" y1="209.5" x2="161.5" y2="210.8" stroke="#333" stroke-width="0.8" />
<line x1="200.5" y1="209.5" x2="200.5" y2="210.8" stroke="#333" stroke-width="0.8" />
<line x1="239.5" y1="209.5" x2="239.5" y2="210.8" stroke="#333" stroke-width="0.8" />
<text x="7.9" y="169.1" font-size="5.7" text-anchor="middle" fill="#222" stroke="#222" transform="rotate(-90 7.9 169.1)">Voltage (V)</text>
<text x="145.3" y="228" font-size="5.5" text-anchor="middle" fill="#222" stroke="#222" >Time (h)</text>
<text x="50.2" y="144.4" font-size="5.6" text-anchor="start" fill="#222" stroke="#222" >1 mA cm<tspan font-size="70%" dy="-1.8">−2</tspan><tspan dy="1.8">​</tspan> @ 1 mAh cm<tspan font-size="70%" dy="-1.8">−2</tspan><tspan dy="1.8">​</tspan></text>
<line x1="173.2" y1="135.9" x2="186" y2="135.9" stroke="#f5a260" stroke-width="0.8" />
<text x="187.8" y="137.9" font-size="5.6" text-anchor="start" fill="#222" stroke="#222" >ZnSO<tspan font-size="70%" dy="1.4">4</tspan><tspan dy="-1.4">​</tspan>/FU</text>
<line x1="173.2" y1="144" x2="186" y2="144" stroke="#e04040" stroke-width="0.8" />
<text x="187.8" y="146" font-size="5.6" text-anchor="start" fill="#222" stroke="#222" >ZnSO<tspan font-size="70%" dy="1.4">4</tspan><tspan dy="-1.4">​</tspan>/MA</text>
<line x1="173.2" y1="152.1" x2="186" y2="152.1" stroke="#5aa6e0" stroke-width="0.8" />
<text x="187.8" y="154.1" font-size="5.6" text-anchor="start" fill="#222" stroke="#222" >ZnSO<tspan font-size="70%" dy="1.4">4</tspan><tspan dy="-1.4">​</tspan></text>
<g clip-path="url(#clipD2)">
<polyline points="25.6,279.28 26.2,279.28 26.2,273.46 29.98,273.46 29.98,279.28 33.75,279.28 33.75,279.28 33.75,273.46 37.52,273.46 37.52,279.28 41.3,279.28 41.3,279.28 41.3,273.46 45.07,273.46 45.07,279.28 48.85,279.28 48.85,279.28 48.85,273.46 52.62,273.46 52.62,279.28 56.4,279.28 56.4,279.28 56.4,273.46 60.17,273.46 60.17,279.28 63.95,279.28 63.95,279.28 63.95,273.46 67.72,273.46 67.72,279.28 71.5,279.28 71.5,279.28 71.5,273.46 75.27,273.46 75.27,279.28 79.05,279.28 79.05,279.28 79.05,273.46 82.82,273.46 82.82,279.28 86.6,279.28 86.6,279.28 86.6,273.46 90.37,273.46 90.37,279.28 94.15,279.28 94.15,279.28 94.15,273.46 97.92,273.46 97.92,279.28 101.7,279.28 101.7,279.28 101.7,273.46 103.5,273.46" fill="none" stroke="#f5a260" stroke-width="0.55" stroke-linejoin="round" />
<polyline points="25.6,281.27 25.9,281.27 25.9,271.21 26.5,272.27 29.68,272.27 29.68,281.27 33.45,281.27 33.45,281.27 33.45,271.21 34.05,272.27 37.23,272.27 37.23,281.27 41,281.27 41,281.27 41,271.21 41.6,272.27 44.77,272.27 44.77,281.27 48.55,281.27 48.55,281.27 48.55,271.21 49.15,272.27 52.32,272.27 52.32,281.27 56.1,281.27 56.1,281.27 56.1,271.21 56.7,272.27 59.87,272.27 59.87,281.27 63.65,281.27 63.65,281.27 63.65,271.21 64.25,272.27 67.42,272.27 67.42,281.27 71.2,281.27 71.2,281.27 71.2,271.21 71.8,272.27 74.97,272.27 74.97,281.27 78.75,281.27 78.75,281.27 78.75,271.21 79.35,272.27 82.52,272.27 82.52,281.27 86.3,281.27 86.3,281.27 86.3,271.21 86.9,272.27 90.07,272.27 90.07,281.27 93.85,281.27 93.85,281.27 93.85,271.21 94.45,272.27 97.62,272.27 97.62,281.27 101.4,281.27 101.4,281.27 101.4,271.21 102,272.27 103.5,272.27" fill="none" stroke="#d82a2a" stroke-width="0.65" stroke-linejoin="round" />
<polyline points="25.4,282.86 25.4,272.27 29.17,267.37 29.17,280.87 32.95,287.49 32.95,282.86 32.95,272.27 36.72,267.37 36.72,280.87 40.5,287.49 40.5,282.86 40.5,272.27 44.27,267.37 44.27,280.87 48.05,287.49 48.05,282.86 48.05,272.27 51.82,267.37 51.82,280.87 55.6,287.49 55.6,282.86 55.6,272.27 59.37,267.37 59.37,280.87 63.15,287.49 63.15,282.86 63.15,272.27 66.92,267.37 66.92,280.87 70.7,287.49 70.7,282.86 70.7,272.27 71.5,267.37" fill="none" stroke="#4494e0" stroke-width="0.65" stroke-linejoin="round" />
<polyline points="106.6,282.59 109.6,282.59 109.6,270.42 110.2,271.61 113.42,271.61 113.42,282.59 117.24,282.59 117.24,282.59 117.24,270.42 117.84,271.61 121.06,271.61 121.06,282.59 124.88,282.59 124.88,282.59 124.88,270.42 125.48,271.61 128.7,271.61 128.7,282.59 132.52,282.59 132.52,282.59 132.52,270.42 133.12,271.61 136.34,271.61 136.34,282.59 140.16,282.59 140.16,282.59 140.16,270.42 140.76,271.61 143.98,271.61 143.98,282.59 147.8,282.59 147.8,282.59 147.8,270.42 148.4,271.61 151.62,271.61 151.62,282.59 155.44,282.59 155.44,282.59 155.44,270.42 156.04,271.61 159.26,271.61 159.26,282.59 163.08,282.59 163.08,282.59 163.08,270.42 163.68,271.61 166.9,271.61 166.9,282.59 170.72,282.59 170.72,282.59 170.72,270.42 171.32,271.61 174.54,271.61 174.54,282.59 175,282.59" fill="none" stroke="#d82a2a" stroke-width="0.7" stroke-linejoin="round" />
<polyline points="106.6,279.55 109.8,279.55 109.8,273.99 113.62,273.99 113.62,279.55 117.44,279.55 117.44,279.55 117.44,273.99 121.26,273.99 121.26,279.55 125.08,279.55 125.08,279.55 125.08,273.99 128.9,273.99 128.9,279.55 132.72,279.55 132.72,279.55 132.72,273.99 136.54,273.99 136.54,279.55 140.36,279.55 140.36,279.55 140.36,273.99 144.18,273.99 144.18,279.55 148,279.55 148,279.55 148,273.99 151.82,273.99 151.82,279.55 155.64,279.55 155.64,279.55 155.64,273.99 159.46,273.99 159.46,279.55 163.28,279.55 163.28,279.55 163.28,273.99 167.1,273.99 167.1,279.55 170.92,279.55 170.92,279.55 170.92,273.99 174.74,273.99 174.74,279.55 178.56,279.55 178.56,279.55 178.56,273.99 182.38,273.99 182.38,279.55 183,279.55" fill="none" stroke="#f5a260" stroke-width="0.5" stroke-linejoin="round" />
<polyline points="175,282.19 176.5,275.58 178.5,274.25 179.5,278.22 181,274.25 182.5,280.21 183.5,279.55" fill="none" stroke="#e04040" stroke-width="0.55" stroke-linejoin="round" />
<polyline points="187.9,280.21 189.9,280.21 189.9,273.06 193.65,273.86 193.65,280.21 197.4,281 197.4,280.21 197.4,273.06 201.15,273.86 201.15,280.21 204.9,281 204.9,280.21 204.9,273.06 208.65,273.86 208.65,280.21 212.4,281 212.4,280.21 212.4,273.06 216.15,273.86 216.15,280.21 219.9,281 219.9,280.21 219.9,273.06 223.65,273.86 223.65,280.21 227.4,281 227.4,280.21 227.4,273.06 231.15,273.86 231.15,280.21 234.9,281 234.9,280.21 234.9,273.06 238.65,273.86 238.65,280.21 242.4,281 242.4,280.21 242.4,273.06 246.15,273.86 246.15,280.21 249.9,281 249.9,280.21 249.9,273.06 253.65,273.86 253.65,280.21 257.4,281 257.4,280.21 257.4,273.06 261.15,273.86 261.15,280.21 264.5,281" fill="none" stroke="#f5a260" stroke-width="0.6" stroke-linejoin="round" />
</g>
<line x1="25.5" y1="237.5" x2="265.5" y2="237.5" stroke="#3a3a3a" stroke-width="1.0" stroke-linecap="square"/>
<line x1="25.5" y1="316.5" x2="265.5" y2="316.5" stroke="#3a3a3a" stroke-width="1.0" stroke-linecap="square"/>
<line x1="25.5" y1="237.5" x2="25.5" y2="316.5" stroke="#3a3a3a" stroke-width="1.0" stroke-linecap="square"/>
<line x1="265.5" y1="237.5" x2="265.5" y2="316.5" stroke="#3a3a3a" stroke-width="1.0" stroke-linecap="square"/>
<line x1="25.5" y1="316.5" x2="23.3" y2="316.5" stroke="#333" stroke-width="0.9" />
<text x="20.7" y="318.87" font-size="5.6" text-anchor="end" fill="#222" stroke="#222" >-0.3</text>
<line x1="25.5" y1="303.5" x2="23.3" y2="303.5" stroke="#333" stroke-width="0.9" />
<text x="20.7" y="305.87" font-size="5.6" text-anchor="end" fill="#222" stroke="#222" >-0.2</text>
<line x1="25.5" y1="290.5" x2="23.3" y2="290.5" stroke="#333" stroke-width="0.9" />
<text x="20.7" y="292.87" font-size="5.6" text-anchor="end" fill="#222" stroke="#222" >-0.1</text>
<line x1="25.5" y1="276.5" x2="23.3" y2="276.5" stroke="#333" stroke-width="0.9" />
<text x="20.7" y="278.87" font-size="5.6" text-anchor="end" fill="#222" stroke="#222" >0.0</text>
<line x1="25.5" y1="263.5" x2="23.3" y2="263.5" stroke="#333" stroke-width="0.9" />
<text x="20.7" y="265.87" font-size="5.6" text-anchor="end" fill="#222" stroke="#222" >0.1</text>
<line x1="25.5" y1="250.5" x2="23.3" y2="250.5" stroke="#333" stroke-width="0.9" />
<text x="20.7" y="252.87" font-size="5.6" text-anchor="end" fill="#222" stroke="#222" >0.2</text>
<line x1="25.5" y1="237.5" x2="23.3" y2="237.5" stroke="#333" stroke-width="0.9" />
<text x="20.7" y="239.87" font-size="5.6" text-anchor="end" fill="#222" stroke="#222" >0.3</text>
<line x1="25.5" y1="309.5" x2="24.2" y2="309.5" stroke="#333" stroke-width="0.8" />
<line x1="25.5" y1="296.5" x2="24.2" y2="296.5" stroke="#333" stroke-width="0.8" />
<line x1="25.5" y1="283.5" x2="24.2" y2="283.5" stroke="#333" stroke-width="0.8" />
<line x1="25.5" y1="270.5" x2="24.2" y2="270.5" stroke="#333" stroke-width="0.8" />
<line x1="25.5" y1="257.5" x2="24.2" y2="257.5" stroke="#333" stroke-width="0.8" />
<line x1="25.5" y1="243.5" x2="24.2" y2="243.5" stroke="#333" stroke-width="0.8" />
<line x1="25.5" y1="316.5" x2="25.5" y2="318.7" stroke="#333" stroke-width="0.9" />
<text x="25.2" y="325.7" font-size="5.6" text-anchor="middle" fill="#222" stroke="#222" >110</text>
<line x1="45.5" y1="316.5" x2="45.5" y2="318.7" stroke="#333" stroke-width="0.9" />
<text x="45" y="325.7" font-size="5.6" text-anchor="middle" fill="#222" stroke="#222" >115</text>
<line x1="64.5" y1="316.5" x2="64.5" y2="318.7" stroke="#333" stroke-width="0.9" />
<text x="64.8" y="325.7" font-size="5.6" text-anchor="middle" fill="#222" stroke="#222" >120</text>
<line x1="84.5" y1="316.5" x2="84.5" y2="318.7" stroke="#333" stroke-width="0.9" />
<text x="84.6" y="325.7" font-size="5.6" text-anchor="middle" fill="#222" stroke="#222" >125</text>
<line x1="106.5" y1="316.5" x2="106.5" y2="318.7" stroke="#333" stroke-width="0.9" />
<text x="106.7" y="325.7" font-size="5.6" text-anchor="middle" fill="#222" stroke="#222" >5630</text>
<line x1="126.5" y1="316.5" x2="126.5" y2="318.7" stroke="#333" stroke-width="0.9" />
<text x="126" y="325.7" font-size="5.6" text-anchor="middle" fill="#222" stroke="#222" >5635</text>
<line x1="145.5" y1="316.5" x2="145.5" y2="318.7" stroke="#333" stroke-width="0.9" />
<text x="145.1" y="325.7" font-size="5.6" text-anchor="middle" fill="#222" stroke="#222" >5640</text>
<line x1="164.5" y1="316.5" x2="164.5" y2="318.7" stroke="#333" stroke-width="0.9" />
<text x="164.3" y="325.7" font-size="5.6" text-anchor="middle" fill="#222" stroke="#222" >5645</text>
<line x1="187.5" y1="316.5" x2="187.5" y2="318.7" stroke="#333" stroke-width="0.9" />
<text x="187.3" y="325.7" font-size="5.6" text-anchor="middle" fill="#222" stroke="#222" >6000</text>
<line x1="206.5" y1="316.5" x2="206.5" y2="318.7" stroke="#333" stroke-width="0.9" />
<text x="206.9" y="325.7" font-size="5.6" text-anchor="middle" fill="#222" stroke="#222" >6005</text>
<line x1="226.5" y1="316.5" x2="226.5" y2="318.7" stroke="#333" stroke-width="0.9" />
<text x="226.3" y="325.7" font-size="5.6" text-anchor="middle" fill="#222" stroke="#222" >6010</text>
<line x1="245.5" y1="316.5" x2="245.5" y2="318.7" stroke="#333" stroke-width="0.9" />
<text x="245.9" y="325.7" font-size="5.6" text-anchor="middle" fill="#222" stroke="#222" >6015</text>
<line x1="265.5" y1="316.5" x2="265.5" y2="318.7" stroke="#333" stroke-width="0.9" />
<text x="265.5" y="325.7" font-size="5.6" text-anchor="middle" fill="#222" stroke="#222" >6020</text>
<line x1="35.5" y1="316.5" x2="35.5" y2="317.8" stroke="#333" stroke-width="0.8" />
<line x1="54.5" y1="316.5" x2="54.5" y2="317.8" stroke="#333" stroke-width="0.8" />
<line x1="74.5" y1="316.5" x2="74.5" y2="317.8" stroke="#333" stroke-width="0.8" />
<line x1="94.5" y1="316.5" x2="94.5" y2="317.8" stroke="#333" stroke-width="0.8" />
<line x1="116.5" y1="316.5" x2="116.5" y2="317.8" stroke="#333" stroke-width="0.8" />
<line x1="135.5" y1="316.5" x2="135.5" y2="317.8" stroke="#333" stroke-width="0.8" />
<line x1="154.5" y1="316.5" x2="154.5" y2="317.8" stroke="#333" stroke-width="0.8" />
<line x1="173.5" y1="316.5" x2="173.5" y2="317.8" stroke="#333" stroke-width="0.8" />
<line x1="197.5" y1="316.5" x2="197.5" y2="317.8" stroke="#333" stroke-width="0.8" />
<line x1="216.5" y1="316.5" x2="216.5" y2="317.8" stroke="#333" stroke-width="0.8" />
<line x1="236.5" y1="316.5" x2="236.5" y2="317.8" stroke="#333" stroke-width="0.8" />
<line x1="255.5" y1="316.5" x2="255.5" y2="317.8" stroke="#333" stroke-width="0.8" />
<rect x="102.9" y="236.5" width="4" height="2" fill="#fff" stroke="none" stroke-width="0.7" />
<line x1="100.8" y1="242" x2="105" y2="233" stroke="#222" stroke-width="0.7" />
<line x1="104.8" y1="242" x2="109" y2="233" stroke="#222" stroke-width="0.7" />
<rect x="102.9" y="315.5" width="4" height="2" fill="#fff" stroke="none" stroke-width="0.7" />
<line x1="100.8" y1="321" x2="105" y2="312" stroke="#222" stroke-width="0.7" />
<line x1="104.8" y1="321" x2="109" y2="312" stroke="#222" stroke-width="0.7" />
<rect x="183.5" y="236.5" width="4" height="2" fill="#fff" stroke="none" stroke-width="0.7" />
<line x1="181.4" y1="242" x2="185.6" y2="233" stroke="#222" stroke-width="0.7" />
<line x1="185.4" y1="242" x2="189.6" y2="233" stroke="#222" stroke-width="0.7" />
<rect x="183.5" y="315.5" width="4" height="2" fill="#fff" stroke="none" stroke-width="0.7" />
<line x1="181.4" y1="321" x2="185.6" y2="312" stroke="#222" stroke-width="0.7" />
<line x1="185.4" y1="321" x2="189.6" y2="312" stroke="#222" stroke-width="0.7" />
<text x="7.9" y="277" font-size="5.7" text-anchor="middle" fill="#222" stroke="#222" transform="rotate(-90 7.9 277)">Voltage (V)</text>
<text x="145.5" y="335.8" font-size="5.5" text-anchor="middle" fill="#222" stroke="#222" >Time (h)</text>
<text x="50.2" y="251.8" font-size="5.6" text-anchor="start" fill="#222" stroke="#222" >1 mA cm<tspan font-size="70%" dy="-1.8">−2</tspan><tspan dy="1.8">​</tspan> @ 1 mAh cm<tspan font-size="70%" dy="-1.8">−2</tspan><tspan dy="1.8">​</tspan></text>
<line x1="173.1" y1="246.4" x2="185.4" y2="246.4" stroke="#f5a260" stroke-width="0.8" />
<text x="187.6" y="248.4" font-size="5.6" text-anchor="start" fill="#222" stroke="#222" >ZnSO<tspan font-size="70%" dy="1.4">4</tspan><tspan dy="-1.4">​</tspan>/FU</text>
<line x1="173.1" y1="254.7" x2="185.4" y2="254.7" stroke="#e04040" stroke-width="0.8" />
<text x="187.6" y="256.7" font-size="5.6" text-anchor="start" fill="#222" stroke="#222" >ZnSO<tspan font-size="70%" dy="1.4">4</tspan><tspan dy="-1.4">​</tspan>/MA</text>
<line x1="173.1" y1="263" x2="185.4" y2="263" stroke="#a8ccf0" stroke-width="0.8" />
<text x="187.6" y="265" font-size="5.6" text-anchor="start" fill="#222" stroke="#222" >ZnSO<tspan font-size="70%" dy="1.4">4</tspan><tspan dy="-1.4">​</tspan></text>
<polyline points="29.9,179 29.9,226.2 36.2,226.2 36.2,261" fill="none" stroke="#111" stroke-width="1.0" stroke-linejoin="round" stroke-linejoin="miter"/>
<polygon points="34,259.5 38.4,259.5 36.2,264.9" fill="#111"/>
<polyline points="239.5,175 239.5,229.2 160.4,229.2 160.4,261" fill="none" stroke="#111" stroke-width="1.0" stroke-linejoin="round" stroke-linejoin="miter"/>
<polygon points="158.2,259.5 162.6,259.5 160.4,264.9" fill="#111"/>
<polyline points="260.6,173.5 260.6,249.7 237.1,249.7 237.1,261" fill="none" stroke="#111" stroke-width="1.0" stroke-linejoin="round" stroke-linejoin="miter"/>
<polygon points="234.9,259.5 239.3,259.5 237.1,264.9" fill="#111"/>
<text x="272.5" y="122.2" font-size="12.4" text-anchor="start" fill="#111" stroke="#111" >e</text>
<polygon points="293.6,164.67 294.1,164.61 294.6,164.79 295.1,164.89 295.6,164.77 296.1,164.79 296.6,164.61 297.1,164.79 297.1,174.05 296.6,173.87 296.1,174.14 295.6,174.16 295.1,173.84 294.6,174.09 294.1,174.14 293.6,174.18" fill="#f0862a" stroke="none" stroke-width="0" />
<line x1="297.8" y1="159.8" x2="297.8" y2="176.6" stroke="#f0862a" stroke-width="0.9" />
<polygon points="297.6,162.86 298.1,162.97 298.6,163.15 299.1,163.09 299.6,163.55 300.1,163.62 300.6,163.29 301.1,163.27 301.6,163.13 302.1,163.11 302.6,163.55 303.1,163.47 303.6,163.09 304.1,163.39 304.6,163.33 305.1,163.64 305.6,163.55 306.1,163.47 306.6,163.44 307.1,163.71 307.6,163.74 308.1,163.29 308.6,163.22 309.1,163.61 309.6,163.09 310.1,163.31 310.6,163.1 311.1,163.27 311.6,163.1 312.1,163.25 312.6,163.6 313.1,163.68 313.6,163.6 314.1,163.44 314.6,163.48 315.1,163.3 315.6,163.17 316.1,163.36 316.6,163.56 317.1,163.09 317.6,163.06 318.1,163.59 318.6,163.26 319.1,163.54 319.6,163.56 320.1,163.7 320.6,163.33 321.1,163.3 321.6,163.61 322.1,163.59 322.6,163.51 323.1,163.62 323.6,163.5 324.1,163.72 324.6,163.28 325.1,163.57 325.6,163.71 326.1,163.28 326.6,163.48 327.1,163.31 327.6,163.37 328.1,163.1 328.6,163.06 329.1,163.58 329.6,163.37 330.1,163.49 330.6,163.57 331.1,163.34 331.6,163.31 332.1,163.17 332.6,163.61 333.1,163.64 333.6,163.57 334.1,163.67 334.6,163.51 335.1,163.54 335.6,163.19 336.1,163.59 336.6,163.29 337.1,163.36 337.6,163.28 338.1,163.46 338.6,163.52 339.1,163.46 339.6,163.28 340.1,163.21 340.6,163.65 341.1,163.27 341.6,163.37 342.1,163.12 342.6,163.27 343.1,163.12 343.6,163.3 344.1,163.56 344.6,163.75 345.1,163.5 345.6,163.25 346.1,163.52 346.6,163.5 347.1,163.64 347.6,163.44 348.1,163.7 348.6,163.36 349.1,163.27 349.6,163.43 350.1,163.71 350.6,163.58 351.1,163.41 351.6,163.42 352.1,163.52 352.6,163.38 353.1,163.46 353.6,163.75 354.1,163.72 354.6,163.66 355.1,163.16 355.6,163.46 356.1,163.33 356.6,163.71 357.1,163.29 357.6,163.73 358.1,163.24 358.6,163.37 359.1,163.75 359.6,163.49 360.1,163.73 360.6,163.46 361.1,163.24 361.6,163.58 362.1,163.44 362.6,163.43 363.1,163.18 363.6,163.18 364.1,163.73 364.6,163.75 365.1,163.76 365.6,163.33 366.1,163.11 366.6,163.47 367.1,163.6 367.6,163.54 368.1,163.12 368.6,163.25 369.1,163.58 369.6,163.12 370.1,163.68 370.6,163.78 371.1,163.26 371.6,163.13 372.1,163.77 372.6,163.63 373.1,163.41 373.6,163.42 374.1,163.73 374.6,163.34 375.1,163.13 375.6,163.52 376.1,163.31 376.6,163.57 377.1,163.76 377.6,163.35 378.1,163.27 378.6,163.13 379.1,163.68 379.6,163.15 380.1,163.76 380.6,163.59 381.1,163.73 381.6,163.67 382.1,163.23 382.6,163.22 383.1,163.77 383.6,163.3 384.1,163.65 384.6,163.22 385.1,163.31 385.6,163.57 386.1,163.27 386.6,163.63 387.1,163.72 387.6,163.33 388.1,163.31 388.6,163.12 389.1,163.4 389.6,163.15 390.1,163.51 390.6,163.59 391.1,163.5 391.6,163.53 392.1,163.53 392.6,163.74 393.1,163.48 393.6,163.71 394.1,163.35 394.6,163.21 395.1,163.26 395.6,163.66 396.1,163.27 396.6,163.65 397.1,163.74 397.6,163.49 398.1,163.21 398.6,163.55 399.1,163.38 399.6,163.75 400.1,163.27 400.6,163.28 401.1,163.45 401.6,163.46 402.1,163.25 402.6,163.38 403.1,163.58 403.6,163.45 404.1,163.16 404.6,163.41 405.1,163.41 405.6,163.43 406.1,163.14 406.6,163.31 407.1,163.79 407.6,163.74 408.1,163.78 408.6,163.65 409.1,163.43 409.6,163.78 410.1,163.33 410.6,163.54 411.1,163.53 411.6,163.43 412.1,163.3 412.6,163.36 413.1,163.58 413.6,163.32 414.1,163.37 414.6,163.37 415.1,163.35 415.6,163.71 416.1,163.51 416.6,163.14 417.1,163.65 417.6,163.48 418.1,163.68 418.6,163.48 419.1,163.35 419.6,163.72 420.1,163.25 420.6,163.33 421.1,163.47 421.6,163.74 422.1,163.21 422.6,163.37 423.1,163.51 423.6,163.61 424.1,163.21 424.6,163.66 425.1,163.53 425.6,163.5 426.1,163.4 426.6,163.36 427.1,163.76 427.6,163.83 428.1,163.26 428.6,163.29 429.1,163.61 429.6,163.68 430.1,163.72 430.6,163.35 431.1,163.29 431.6,163.19 432.1,163.41 432.6,163.54 433.1,163.75 433.6,163.17 434.1,163.21 434.6,163.6 435.1,163.62 435.6,163.23 436.1,163.21 436.6,163.17 437.1,163.6 437.6,163.34 438.1,163.32 438.6,163.61 439.1,163.23 439.6,163.53 440.1,163.21 440.6,163.19 441.1,163.61 441.6,163.69 442.1,163.46 442.6,163.42 443.1,163.62 443.6,163.18 444.1,163.32 444.6,163.76 445.1,163.78 445.6,163.14 446.1,163.12 446.6,163.65 447.1,163.42 447.6,163.64 448.1,163.55 448.6,163.41 449.1,163.59 449.6,163.52 450.1,163.1 450.6,163.41 451.1,163.7 451.6,163.63 452.1,163.54 452.6,163.51 453.1,163.64 453.6,163.27 454.1,163.34 454.6,163.5 455.1,163.63 455.6,163.28 456.1,163.17 456.6,163.24 457.1,163.35 457.6,163.11 458.1,163.48 458.6,163.67 459.1,163.27 459.6,163.7 460.1,163.32 460.6,163.4 461.1,163.71 461.6,163.52 462.1,163.37 462.6,163.54 463.1,163.34 463.6,163.51 464.1,163.16 464.6,163.06 465.1,163.42 465.6,163.36 466.1,163.32 466.6,163.07 467.1,163.64 467.6,163.06 468.1,163.66 468.6,163.2 469.1,163.17 469.6,163.63 470.1,163.64 470.6,163.46 471.1,163.63 471.6,163.08 472.1,163.56 472.6,163.39 473.1,163.16 473.6,163.37 474.1,163.02 474.6,163.5 475.1,163.39 475.6,163.01 476.1,163.09 476.6,163.13 477.1,163.26 477.6,163.09 478.1,163.13 478.6,163.3 479.1,163.02 479.6,163.44 480.1,163.22 480.6,163.19 481.1,163.3 481.6,163.01 482.1,163.52 482.6,162.98 483.1,163.27 483.6,163.56 484.1,162.98 484.6,163.37 485.1,163.56 485.6,163.57 486.1,163.12 486.6,163.31 487.1,163.53 487.6,163.3 488.1,163.47 488.6,163.35 489.1,162.88 489.6,163.09 490.1,163.39 490.6,162.67 491.1,162.22 491.6,161.7 492.1,161.29 492.6,161.77 493.1,161.7 493.6,162.17 494.1,161.68 494.6,162.26 495.1,161.71 495.6,162.23 496.1,161.97 496.6,162.17 497.1,161.97 497.6,161.76 498.1,162.31 498.6,162.1 499.1,161.8 499.6,162.07 500.1,161.8 500.6,161.93 501.1,162.07 501.6,162.08 502.1,161.73 502.6,161.78 503.1,161.97 503.6,162.01 504.1,162.25 504.6,162.05 505.1,162.22 505.6,161.91 506.1,161.78 506.6,161.85 507.1,161.67 507.6,161.9 508.1,162.09 508.6,162.24 509.1,161.81 509.6,162.14 510.1,162.18 510.6,162.13 511.1,162.32 511.6,162.06 512.1,161.96 512.6,162.03 513.1,161.65 513.6,161.65 514.1,162 514.6,161.91 515.1,161.74 515.6,161.9 516.1,162.1 516.6,162.02 517.1,161.93 517.6,162.19 518.1,161.69 518.6,162.27 519.1,162.13 519.6,161.94 520.1,162.13 520.6,162.31 521.1,162.11 521.6,162.12 522.1,162.14 522.6,162.29 523.1,162.27 523.6,161.85 524.1,161.67 524.6,161.84 525.1,161.9 525.6,161.82 526.1,161.97 526.6,162.31 527.1,161.78 527.6,161.92 528.1,162.23 528.6,161.74 529.1,161.9 529.6,162.04 530.1,162.19 530.6,162.25 531.1,161.83 531.6,162.32 532.1,161.95 532.6,161.74 533.1,161.76 533.1,175.73 532.6,175.42 532.1,175.61 531.6,175.69 531.1,175.8 530.6,175.79 530.1,175.79 529.6,175.21 529.1,175.73 528.6,175.23 528.1,175.38 527.6,175.54 527.1,175.74 526.6,175.69 526.1,175.8 525.6,175.4 525.1,175.27 524.6,175.7 524.1,175.53 523.6,175.32 523.1,175.61 522.6,175.35 522.1,175.69 521.6,175.4 521.1,175.43 520.6,175.29 520.1,175.52 519.6,175.22 519.1,175.61 518.6,175.49 518.1,175.76 517.6,175.23 517.1,175.22 516.6,175.58 516.1,175.58 515.6,175.54 515.1,175.3 514.6,175.22 514.1,175.17 513.6,175.62 513.1,175.63 512.6,175.38 512.1,175.28 511.6,175.3 511.1,175.23 510.6,175.32 510.1,175.23 509.6,175.6 509.1,175.31 508.6,175.12 508.1,175.34 507.6,175.53 507.1,175.47 506.6,175.26 506.1,175.19 505.6,175.66 505.1,175.14 504.6,175.31 504.1,175.2 503.6,175.45 503.1,175.62 502.6,175.5 502.1,175.08 501.6,175.21 501.1,175.34 500.6,175.35 500.1,175.22 499.6,175.31 499.1,175.59 498.6,175.63 498.1,175.01 497.6,175.49 497.1,175.4 496.6,175.33 496.1,175.34 495.6,175.59 495.1,175.64 494.6,175.24 494.1,175.03 493.6,175.12 493.1,175.31 492.6,175.78 492.1,175.5 491.6,175.19 491.1,174.38 490.6,173.86 490.1,173.64 489.6,173.63 489.1,173.43 488.6,173.87 488.1,173.49 487.6,173.27 487.1,173.88 486.6,173.68 486.1,173.88 485.6,173.51 485.1,173.84 484.6,173.56 484.1,173.8 483.6,173.63 483.1,173.87 482.6,173.64 482.1,173.8 481.6,173.35 481.1,173.73 480.6,173.28 480.1,173.86 479.6,173.28 479.1,173.46 478.6,173.75 478.1,173.4 477.6,173.48 477.1,173.7 476.6,173.57 476.1,173.72 475.6,173.69 475.1,173.69 474.6,173.35 474.1,173.16 473.6,173.58 473.1,173.38 472.6,173.4 472.1,173.22 471.6,173.56 471.1,173.19 470.6,173.7 470.1,173.28 469.6,173.8 469.1,173.23 468.6,173.24 468.1,173.59 467.6,173.33 467.1,173.4 466.6,173.39 466.1,173.46 465.6,173.78 465.1,173.35 464.6,173.62 464.1,173.41 463.6,173.63 463.1,173.24 462.6,173.64 462.1,173.2 461.6,173.45 461.1,173.2 460.6,173.58 460.1,173.15 459.6,173.07 459.1,173.38 458.6,173.43 458.1,173.71 457.6,173.63 457.1,173.49 456.6,173.29 456.1,173.61 455.6,173.06 455.1,173.36 454.6,173.45 454.1,173.19 453.6,173.57 453.1,173.65 452.6,173.07 452.1,173.53 451.6,173.6 451.1,173.48 450.6,173.5 450.1,173.66 449.6,173.28 449.1,173.15 448.6,173.03 448.1,173.53 447.6,173.32 447.1,173.54 446.6,173.53 446.1,173.16 445.6,173.52 445.1,173.59 444.6,173.47 444.1,173.12 443.6,173.29 443.1,173.63 442.6,173.31 442.1,172.97 441.6,173.16 441.1,173.37 440.6,172.98 440.1,173.61 439.6,173.3 439.1,173.62 438.6,173.12 438.1,173.24 437.6,173.61 437.1,173.61 436.6,173.23 436.1,173.02 435.6,173.4 435.1,173.31 434.6,173.56 434.1,173.15 433.6,173.6 433.1,173.58 432.6,173.36 432.1,173.33 431.6,173.41 431.1,173.06 430.6,172.99 430.1,173.26 429.6,173.38 429.1,173.17 428.6,173 428.1,173.5 427.6,173.21 427.1,172.99 426.6,173.43 426.1,173.34 425.6,173.5 425.1,173.52 424.6,173.45 424.1,173.57 423.6,173.42 423.1,173.52 422.6,173.18 422.1,173.58 421.6,173.58 421.1,173.59 420.6,173.63 420.1,173.18 419.6,173.26 419.1,173.39 418.6,173.58 418.1,173.2 417.6,173.17 417.1,173.31 416.6,173.36 416.1,173.53 415.6,173.53 415.1,173.01 414.6,173.54 414.1,172.96 413.6,173.41 413.1,173.37 412.6,173.25 412.1,173.07 411.6,173.51 411.1,173.36 410.6,173.26 410.1,172.96 409.6,173.32 409.1,173.51 408.6,173.57 408.1,173.4 407.6,173.16 407.1,173.2 406.6,173.58 406.1,173.03 405.6,173.41 405.1,173.39 404.6,173.04 404.1,173.39 403.6,173.23 403.1,173.61 402.6,173.15 402.1,173.04 401.6,173.34 401.1,173.44 400.6,173.26 400.1,173.35 399.6,173.26 399.1,173.39 398.6,173.28 398.1,173.02 397.6,172.97 397.1,173 396.6,173.5 396.1,172.96 395.6,173 395.1,173.11 394.6,173.42 394.1,173.21 393.6,173.46 393.1,173.14 392.6,173.05 392.1,173.34 391.6,172.94 391.1,172.94 390.6,173.5 390.1,172.96 389.6,173.06 389.1,172.93 388.6,173.15 388.1,173.55 387.6,172.92 387.1,173.48 386.6,173.07 386.1,173.1 385.6,173.51 385.1,173.3 384.6,173.19 384.1,173.35 383.6,172.9 383.1,172.93 382.6,173.05 382.1,172.97 381.6,173.55 381.1,173.45 380.6,173.49 380.1,173.52 379.6,173.1 379.1,173.01 378.6,173.04 378.1,173.19 377.6,173 377.1,173.32 376.6,173.5 376.1,173.38 375.6,172.92 375.1,173.17 374.6,173.27 374.1,173.08 373.6,173.31 373.1,173.51 372.6,173.03 372.1,173.11 371.6,173.24 371.1,173.18 370.6,173.48 370.1,173.22 369.6,173.5 369.1,173.35 368.6,173.1 368.1,173.11 367.6,172.9 367.1,173.45 366.6,173.15 366.1,173.1 365.6,172.92 365.1,173.35 364.6,173.03 364.1,173.21 363.6,173.56 363.1,173.45 362.6,173.31 362.1,173.54 361.6,173.49 361.1,173.43 360.6,173.57 360.1,173.53 359.6,173.36 359.1,173.55 358.6,173 358.1,173.07 357.6,172.93 357.1,173.53 356.6,173.49 356.1,173.27 355.6,173.47 355.1,173.17 354.6,173.51 354.1,172.88 353.6,172.98 353.1,173.44 352.6,173.08 352.1,173.23 351.6,172.91 351.1,173 350.6,173.21 350.1,173.41 349.6,172.94 349.1,173.16 348.6,173.36 348.1,173.18 347.6,173 347.1,173.47 346.6,173.43 346.1,173.03 345.6,173.51 345.1,173.07 344.6,173.55 344.1,173.2 343.6,173.28 343.1,173.06 342.6,173.12 342.1,173.38 341.6,173.48 341.1,173.17 340.6,173.03 340.1,173.28 339.6,173.09 339.1,173.39 338.6,173.2 338.1,173.12 337.6,173.24 337.1,172.95 336.6,173.4 336.1,173.55 335.6,173.13 335.1,173.22 334.6,173.47 334.1,173.19 333.6,173.55 333.1,173.41 332.6,173.14 332.1,173.33 331.6,173.39 331.1,173.13 330.6,172.94 330.1,173.41 329.6,172.89 329.1,172.99 328.6,173.23 328.1,173.25 327.6,173.12 327.1,172.96 326.6,173.46 326.1,173.45 325.6,173.01 325.1,172.96 324.6,173 324.1,173.15 323.6,173.14 323.1,173.51 322.6,173.07 322.1,173.01 321.6,173.04 321.1,173.06 320.6,173.11 320.1,172.94 319.6,172.88 319.1,173.34 318.6,173.25 318.1,173.01 317.6,173.45 317.1,172.94 316.6,173.26 316.1,173.49 315.6,173.09 315.1,173.4 314.6,172.88 314.1,173.14 313.6,172.92 313.1,173.34 312.6,173.09 312.1,173.13 311.6,173.11 311.1,173.1 310.6,172.97 310.1,173.37 309.6,173.07 309.1,172.95 308.6,172.93 308.1,173.33 307.6,172.9 307.1,172.82 306.6,172.77 306.1,173.41 305.6,173.19 305.1,172.98 304.6,173.04 304.1,173.46 303.6,173.21 303.1,173.55 302.6,173.29 302.1,173.89 301.6,173.87 301.1,173.52 300.6,173.7 300.1,174.21 299.6,174.24 299.1,173.88 298.6,173.81 298.1,174.38 297.6,174.16" fill="#f0862a" stroke="none" stroke-width="0" />
<line x1="293.5" y1="129" x2="533.5" y2="129" stroke="#3a3a3a" stroke-width="1.0" stroke-linecap="square"/>
<line x1="293.5" y1="208.5" x2="533.5" y2="208.5" stroke="#3a3a3a" stroke-width="1.0" stroke-linecap="square"/>
<line x1="293.5" y1="129" x2="293.5" y2="208.5" stroke="#3a3a3a" stroke-width="1.0" stroke-linecap="square"/>
<line x1="533.5" y1="129" x2="533.5" y2="208.5" stroke="#3a3a3a" stroke-width="1.0" stroke-linecap="square"/>
<line x1="293.5" y1="208.5" x2="291.3" y2="208.5" stroke="#333" stroke-width="0.9" />
<text x="288.7" y="210.87" font-size="5.6" text-anchor="end" fill="#222" stroke="#222" >-0.3</text>
<line x1="293.5" y1="195.5" x2="291.3" y2="195.5" stroke="#333" stroke-width="0.9" />
<text x="288.7" y="197.87" font-size="5.6" text-anchor="end" fill="#222" stroke="#222" >-0.2</text>
<line x1="293.5" y1="181.5" x2="291.3" y2="181.5" stroke="#333" stroke-width="0.9" />
<text x="288.7" y="183.87" font-size="5.6" text-anchor="end" fill="#222" stroke="#222" >-0.1</text>
<line x1="293.5" y1="168.5" x2="291.3" y2="168.5" stroke="#333" stroke-width="0.9" />
<text x="288.7" y="170.87" font-size="5.6" text-anchor="end" fill="#222" stroke="#222" >0.0</text>
<line x1="293.5" y1="155.5" x2="291.3" y2="155.5" stroke="#333" stroke-width="0.9" />
<text x="288.7" y="157.87" font-size="5.6" text-anchor="end" fill="#222" stroke="#222" >0.1</text>
<line x1="293.5" y1="142.5" x2="291.3" y2="142.5" stroke="#333" stroke-width="0.9" />
<text x="288.7" y="144.87" font-size="5.6" text-anchor="end" fill="#222" stroke="#222" >0.2</text>
<line x1="293.5" y1="129.5" x2="291.3" y2="129.5" stroke="#333" stroke-width="0.9" />
<text x="288.7" y="131.87" font-size="5.6" text-anchor="end" fill="#222" stroke="#222" >0.3</text>
<line x1="293.5" y1="201.5" x2="292.2" y2="201.5" stroke="#333" stroke-width="0.8" />
<line x1="293.5" y1="188.5" x2="292.2" y2="188.5" stroke="#333" stroke-width="0.8" />
<line x1="293.5" y1="175.5" x2="292.2" y2="175.5" stroke="#333" stroke-width="0.8" />
<line x1="293.5" y1="162.5" x2="292.2" y2="162.5" stroke="#333" stroke-width="0.8" />
<line x1="293.5" y1="148.5" x2="292.2" y2="148.5" stroke="#333" stroke-width="0.8" />
<line x1="293.5" y1="135.5" x2="292.2" y2="135.5" stroke="#333" stroke-width="0.8" />
<line x1="293.5" y1="208.5" x2="293.5" y2="210.7" stroke="#333" stroke-width="0.9" />
<text x="293.5" y="217.4" font-size="5.6" text-anchor="middle" fill="#222" stroke="#222" >0</text>
<line x1="341.5" y1="208.5" x2="341.5" y2="210.7" stroke="#333" stroke-width="0.9" />
<text x="341.5" y="217.4" font-size="5.6" text-anchor="middle" fill="#222" stroke="#222" >300</text>
<line x1="389.5" y1="208.5" x2="389.5" y2="210.7" stroke="#333" stroke-width="0.9" />
<text x="389.5" y="217.4" font-size="5.6" text-anchor="middle" fill="#222" stroke="#222" >600</text>
<line x1="437.5" y1="208.5" x2="437.5" y2="210.7" stroke="#333" stroke-width="0.9" />
<text x="437.5" y="217.4" font-size="5.6" text-anchor="middle" fill="#222" stroke="#222" >900</text>
<line x1="485.5" y1="208.5" x2="485.5" y2="210.7" stroke="#333" stroke-width="0.9" />
<text x="485.5" y="217.4" font-size="5.6" text-anchor="middle" fill="#222" stroke="#222" >1200</text>
<line x1="533.5" y1="208.5" x2="533.5" y2="210.7" stroke="#333" stroke-width="0.9" />
<text x="533.5" y="217.4" font-size="5.6" text-anchor="middle" fill="#222" stroke="#222" >1500</text>
<line x1="317.5" y1="208.5" x2="317.5" y2="209.8" stroke="#333" stroke-width="0.8" />
<line x1="365.5" y1="208.5" x2="365.5" y2="209.8" stroke="#333" stroke-width="0.8" />
<line x1="413.5" y1="208.5" x2="413.5" y2="209.8" stroke="#333" stroke-width="0.8" />
<line x1="461.5" y1="208.5" x2="461.5" y2="209.8" stroke="#333" stroke-width="0.8" />
<line x1="509.5" y1="208.5" x2="509.5" y2="209.8" stroke="#333" stroke-width="0.8" />
<text x="274.9" y="169.1" font-size="5.7" text-anchor="middle" fill="#222" stroke="#222" transform="rotate(-90 274.9 169.1)">Voltage (V)</text>
<text x="413.5" y="224" font-size="5.5" text-anchor="middle" fill="#222" stroke="#222" >Time (h)</text>
<text x="317.8" y="144" font-size="5.6" text-anchor="start" fill="#222" stroke="#222" >5 mA cm<tspan font-size="70%" dy="-1.8">−2</tspan><tspan dy="1.8">​</tspan> @ 5 mAh cm<tspan font-size="70%" dy="-1.8">−2</tspan><tspan dy="1.8">​</tspan></text>
<line x1="443.2" y1="141.5" x2="456" y2="141.5" stroke="#f5a260" stroke-width="0.8" />
<text x="457.5" y="143.5" font-size="5.6" text-anchor="start" fill="#222" stroke="#222" >ZnSO<tspan font-size="70%" dy="1.4">4</tspan><tspan dy="-1.4">​</tspan>/FU</text>
<line x1="300.8" y1="185.4" x2="296.8" y2="178.4" stroke="#222" stroke-width="0.5" />
<polygon points="295.4,179.6 297.9,178.2 295.9,176.4" fill="#222"/>
<text x="302" y="189" font-size="4.45" text-anchor="start" fill="#222" stroke="#222" >1@1 for 10 cycles</text>
<g clip-path="url(#clipE2)">
<polyline points="293.8,280.65 296.6,280.65 296.6,272.59 301.34,272.59 301.34,280.65 305.22,280.65 305.22,280.65 305.22,272.59 309.96,272.59 309.96,280.65 313.84,280.65 313.84,280.65 313.84,272.59 318.58,272.59 318.58,280.65 322.46,280.65 322.46,280.65 322.46,272.59 327.2,272.59 327.2,280.65 331.08,280.65 331.08,280.65 331.08,272.59 335.82,272.59 335.82,280.65 339.7,280.65 339.7,280.65 339.7,272.59 344.44,272.59 344.44,280.65 348.32,280.65 348.32,280.65 348.32,272.59 353.06,272.59 353.06,280.65 356.94,280.65 356.94,280.65 356.94,272.59 361.68,272.59 361.68,280.65 365.56,280.65 365.56,280.65 365.56,272.59 370.3,272.59 370.3,280.65 370.5,280.65" fill="none" stroke="#f5a260" stroke-width="0.6" stroke-linejoin="round" />
<polyline points="375.4,280.65 376.2,280.65 376.2,272.59 380.94,272.59 380.94,280.65 384.82,280.65 384.82,280.65 384.82,272.59 389.56,272.59 389.56,280.65 393.44,280.65 393.44,280.65 393.44,272.59 398.18,272.59 398.18,280.65 402.06,280.65 402.06,280.65 402.06,272.59 406.8,272.59 406.8,280.65 410.68,280.65 410.68,280.65 410.68,272.59 415.42,272.59 415.42,280.65 419.3,280.65 419.3,280.65 419.3,272.59 424.04,272.59 424.04,280.65 427.92,280.65 427.92,280.65 427.92,272.59 432.66,272.59 432.66,280.65 436.54,280.65 436.54,280.65 436.54,272.59 441.28,272.59 441.28,280.65 445.16,280.65 445.16,280.65 445.16,272.59 449.9,272.59 449.9,280.65 452,280.65" fill="none" stroke="#f5a260" stroke-width="0.6" stroke-linejoin="round" />
<polyline points="456.5,283.16 457.1,283.16 457.1,270.74 461.84,270.74 461.84,283.16 465.72,283.16 465.72,283.16 465.72,270.74 470.46,270.74 470.46,283.16 474.34,283.16 474.34,283.16 474.34,270.74 479.08,270.74 479.08,283.16 482.96,283.16 482.96,283.16 482.96,270.74 487.7,270.74 487.7,283.16 491.58,283.16 491.58,283.16 491.58,270.74 496.32,270.74 496.32,283.16 500.2,283.16 500.2,283.16 500.2,270.74 504.94,270.74 504.94,283.16 508.82,283.16 508.82,283.16 508.82,270.74 513.56,270.74 513.56,283.16 517.44,283.16 517.44,283.16 517.44,270.74 522.18,270.74 522.18,283.16 526.06,283.16 526.06,283.16 526.06,270.74 530.8,270.74 530.8,283.16 533,283.16" fill="none" stroke="#f5a260" stroke-width="0.6" stroke-linejoin="round" />
</g>
<line x1="293.5" y1="237.5" x2="533.5" y2="237.5" stroke="#3a3a3a" stroke-width="1.0" stroke-linecap="square"/>
<line x1="293.5" y1="316.5" x2="533.5" y2="316.5" stroke="#3a3a3a" stroke-width="1.0" stroke-linecap="square"/>
<line x1="293.5" y1="237.5" x2="293.5" y2="316.5" stroke="#3a3a3a" stroke-width="1.0" stroke-linecap="square"/>
<line x1="533.5" y1="237.5" x2="533.5" y2="316.5" stroke="#3a3a3a" stroke-width="1.0" stroke-linecap="square"/>
<line x1="293.5" y1="316.5" x2="291.3" y2="316.5" stroke="#333" stroke-width="0.9" />
<text x="288.7" y="318.87" font-size="5.6" text-anchor="end" fill="#222" stroke="#222" >-0.3</text>
<line x1="293.5" y1="303.5" x2="291.3" y2="303.5" stroke="#333" stroke-width="0.9" />
<text x="288.7" y="305.87" font-size="5.6" text-anchor="end" fill="#222" stroke="#222" >-0.2</text>
<line x1="293.5" y1="290.5" x2="291.3" y2="290.5" stroke="#333" stroke-width="0.9" />
<text x="288.7" y="292.87" font-size="5.6" text-anchor="end" fill="#222" stroke="#222" >-0.1</text>
<line x1="293.5" y1="276.5" x2="291.3" y2="276.5" stroke="#333" stroke-width="0.9" />
<text x="288.7" y="278.87" font-size="5.6" text-anchor="end" fill="#222" stroke="#222" >0.0</text>
<line x1="293.5" y1="263.5" x2="291.3" y2="263.5" stroke="#333" stroke-width="0.9" />
<text x="288.7" y="265.87" font-size="5.6" text-anchor="end" fill="#222" stroke="#222" >0.1</text>
<line x1="293.5" y1="250.5" x2="291.3" y2="250.5" stroke="#333" stroke-width="0.9" />
<text x="288.7" y="252.87" font-size="5.6" text-anchor="end" fill="#222" stroke="#222" >0.2</text>
<line x1="293.5" y1="237.5" x2="291.3" y2="237.5" stroke="#333" stroke-width="0.9" />
<text x="288.7" y="239.87" font-size="5.6" text-anchor="end" fill="#222" stroke="#222" >0.3</text>
<line x1="293.5" y1="309.5" x2="292.2" y2="309.5" stroke="#333" stroke-width="0.8" />
<line x1="293.5" y1="296.5" x2="292.2" y2="296.5" stroke="#333" stroke-width="0.8" />
<line x1="293.5" y1="283.5" x2="292.2" y2="283.5" stroke="#333" stroke-width="0.8" />
<line x1="293.5" y1="270.5" x2="292.2" y2="270.5" stroke="#333" stroke-width="0.8" />
<line x1="293.5" y1="257.5" x2="292.2" y2="257.5" stroke="#333" stroke-width="0.8" />
<line x1="293.5" y1="243.5" x2="292.2" y2="243.5" stroke="#333" stroke-width="0.8" />
<line x1="293.5" y1="316.5" x2="293.5" y2="318.7" stroke="#333" stroke-width="0.9" />
<text x="293.6" y="325.7" font-size="5.6" text-anchor="middle" fill="#222" stroke="#222" >500</text>
<line x1="312.5" y1="316.5" x2="312.5" y2="318.7" stroke="#333" stroke-width="0.9" />
<text x="312.6" y="325.7" font-size="5.6" text-anchor="middle" fill="#222" stroke="#222" >505</text>
<line x1="331.5" y1="316.5" x2="331.5" y2="318.7" stroke="#333" stroke-width="0.9" />
<text x="331.3" y="325.7" font-size="5.6" text-anchor="middle" fill="#222" stroke="#222" >510</text>
<line x1="350.5" y1="316.5" x2="350.5" y2="318.7" stroke="#333" stroke-width="0.9" />
<text x="350" y="325.7" font-size="5.6" text-anchor="middle" fill="#222" stroke="#222" >515</text>
<line x1="374.5" y1="316.5" x2="374.5" y2="318.7" stroke="#333" stroke-width="0.9" />
<text x="374.5" y="325.7" font-size="5.6" text-anchor="middle" fill="#222" stroke="#222" >1000</text>
<line x1="394.5" y1="316.5" x2="394.5" y2="318.7" stroke="#333" stroke-width="0.9" />
<text x="394.6" y="325.7" font-size="5.6" text-anchor="middle" fill="#222" stroke="#222" >1005</text>
<line x1="414.5" y1="316.5" x2="414.5" y2="318.7" stroke="#333" stroke-width="0.9" />
<text x="414.1" y="325.7" font-size="5.6" text-anchor="middle" fill="#222" stroke="#222" >1010</text>
<line x1="433.5" y1="316.5" x2="433.5" y2="318.7" stroke="#333" stroke-width="0.9" />
<text x="433.6" y="325.7" font-size="5.6" text-anchor="middle" fill="#222" stroke="#222" >1015</text>
<line x1="456.5" y1="316.5" x2="456.5" y2="318.7" stroke="#333" stroke-width="0.9" />
<text x="456" y="325.7" font-size="5.6" text-anchor="middle" fill="#222" stroke="#222" >1480</text>
<line x1="475.5" y1="316.5" x2="475.5" y2="318.7" stroke="#333" stroke-width="0.9" />
<text x="475.5" y="325.7" font-size="5.6" text-anchor="middle" fill="#222" stroke="#222" >1485</text>
<line x1="494.5" y1="316.5" x2="494.5" y2="318.7" stroke="#333" stroke-width="0.9" />
<text x="494.9" y="325.7" font-size="5.6" text-anchor="middle" fill="#222" stroke="#222" >1490</text>
<line x1="514.5" y1="316.5" x2="514.5" y2="318.7" stroke="#333" stroke-width="0.9" />
<text x="514.3" y="325.7" font-size="5.6" text-anchor="middle" fill="#222" stroke="#222" >1495</text>
<line x1="533.5" y1="316.5" x2="533.5" y2="318.7" stroke="#333" stroke-width="0.9" />
<text x="533.3" y="325.7" font-size="5.6" text-anchor="middle" fill="#222" stroke="#222" >1500</text>
<line x1="303.5" y1="316.5" x2="303.5" y2="317.8" stroke="#333" stroke-width="0.8" />
<line x1="322.5" y1="316.5" x2="322.5" y2="317.8" stroke="#333" stroke-width="0.8" />
<line x1="340.5" y1="316.5" x2="340.5" y2="317.8" stroke="#333" stroke-width="0.8" />
<line x1="359.5" y1="316.5" x2="359.5" y2="317.8" stroke="#333" stroke-width="0.8" />
<line x1="384.5" y1="316.5" x2="384.5" y2="317.8" stroke="#333" stroke-width="0.8" />
<line x1="404.5" y1="316.5" x2="404.5" y2="317.8" stroke="#333" stroke-width="0.8" />
<line x1="423.5" y1="316.5" x2="423.5" y2="317.8" stroke="#333" stroke-width="0.8" />
<line x1="465.5" y1="316.5" x2="465.5" y2="317.8" stroke="#333" stroke-width="0.8" />
<line x1="485.5" y1="316.5" x2="485.5" y2="317.8" stroke="#333" stroke-width="0.8" />
<line x1="504.5" y1="316.5" x2="504.5" y2="317.8" stroke="#333" stroke-width="0.8" />
<line x1="523.5" y1="316.5" x2="523.5" y2="317.8" stroke="#333" stroke-width="0.8" />
<rect x="372" y="236.5" width="4" height="2" fill="#fff" stroke="none" stroke-width="0.7" />
<line x1="369.9" y1="242" x2="374.1" y2="233" stroke="#222" stroke-width="0.7" />
<line x1="373.9" y1="242" x2="378.1" y2="233" stroke="#222" stroke-width="0.7" />
<rect x="372" y="315.5" width="4" height="2" fill="#fff" stroke="none" stroke-width="0.7" />
<line x1="369.9" y1="321" x2="374.1" y2="312" stroke="#222" stroke-width="0.7" />
<line x1="373.9" y1="321" x2="378.1" y2="312" stroke="#222" stroke-width="0.7" />
<rect x="453" y="236.5" width="4" height="2" fill="#fff" stroke="none" stroke-width="0.7" />
<line x1="450.9" y1="242" x2="455.1" y2="233" stroke="#222" stroke-width="0.7" />
<line x1="454.9" y1="242" x2="459.1" y2="233" stroke="#222" stroke-width="0.7" />
<rect x="453" y="315.5" width="4" height="2" fill="#fff" stroke="none" stroke-width="0.7" />
<line x1="450.9" y1="321" x2="455.1" y2="312" stroke="#222" stroke-width="0.7" />
<line x1="454.9" y1="321" x2="459.1" y2="312" stroke="#222" stroke-width="0.7" />
<text x="274.9" y="277" font-size="5.7" text-anchor="middle" fill="#222" stroke="#222" transform="rotate(-90 274.9 277)">Voltage (V)</text>
<text x="413.7" y="335.8" font-size="5.5" text-anchor="middle" fill="#222" stroke="#222" >Time (h)</text>
<text x="318" y="251.6" font-size="5.6" text-anchor="start" fill="#222" stroke="#222" >5 mA cm<tspan font-size="70%" dy="-1.8">−2</tspan><tspan dy="1.8">​</tspan> @ 5 mAh cm<tspan font-size="70%" dy="-1.8">−2</tspan><tspan dy="1.8">​</tspan></text>
<line x1="443.4" y1="249.6" x2="455.3" y2="249.6" stroke="#f5a260" stroke-width="0.8" />
<text x="457.5" y="251.6" font-size="5.6" text-anchor="start" fill="#222" stroke="#222" >ZnSO<tspan font-size="70%" dy="1.4">4</tspan><tspan dy="-1.4">​</tspan>/FU</text>
<polyline points="378.7,174 378.7,224.4 313,224.4 313,260.5" fill="none" stroke="#111" stroke-width="1.0" stroke-linejoin="round" stroke-linejoin="miter"/>
<polygon points="310.8,259 315.2,259 313,264.4" fill="#111"/>
<polyline points="449.6,174 449.6,224.4 428.7,224.4 428.7,260.5" fill="none" stroke="#111" stroke-width="1.0" stroke-linejoin="round" stroke-linejoin="miter"/>
<polygon points="426.5,259 430.9,259 428.7,264.4" fill="#111"/>
<polyline points="513.3,175.5 513.3,226.6 497,226.6 497,260.5" fill="none" stroke="#111" stroke-width="1.0" stroke-linejoin="round" stroke-linejoin="miter"/>
<polygon points="494.8,259 499.2,259 497,264.4" fill="#111"/>
<text x="537.6" y="9.6" font-size="12.4" text-anchor="start" fill="#111" stroke="#111" >f</text>
<g shape-rendering="crispEdges">
<rect x="558" y="16.5" width="12" height="80.3" fill="rgb(44,37,78)"/>
<rect x="570" y="16.5" width="2" height="80.3" fill="rgb(45,38,80)"/>
<rect x="572" y="16.5" width="2" height="80.3" fill="url(#h1)"/>
<rect x="574" y="16.5" width="2" height="80.3" fill="url(#h2)"/>
<rect x="576" y="16.5" width="1" height="80.3" fill="url(#h3)"/>
<rect x="577" y="16.5" width="1" height="80.3" fill="url(#h4)"/>
<rect x="578" y="16.5" width="1" height="80.3" fill="url(#h5)"/>
<rect x="579" y="16.5" width="1" height="80.3" fill="url(#h6)"/>
<rect x="580" y="16.5" width="1" height="80.3" fill="url(#h7)"/>
<rect x="581" y="16.5" width="1" height="80.3" fill="url(#h8)"/>
<rect x="582" y="16.5" width="1" height="80.3" fill="url(#h9)"/>
<rect x="583" y="16.5" width="1" height="80.3" fill="url(#h10)"/>
<rect x="584" y="16.5" width="1" height="80.3" fill="url(#h11)"/>
<rect x="585" y="16.5" width="1" height="80.3" fill="url(#h12)"/>
<rect x="586" y="16.5" width="1" height="80.3" fill="url(#h13)"/>
<rect x="587" y="16.5" width="1" height="80.3" fill="url(#h14)"/>
<rect x="588" y="16.5" width="1" height="80.3" fill="url(#h15)"/>
<rect x="589" y="16.5" width="1" height="80.3" fill="url(#h16)"/>
<rect x="590" y="16.5" width="1" height="80.3" fill="url(#h17)"/>
<rect x="591" y="16.5" width="1" height="80.3" fill="url(#h18)"/>
<rect x="592" y="16.5" width="1" height="80.3" fill="url(#h19)"/>
<rect x="593" y="16.5" width="1" height="80.3" fill="url(#h20)"/>
<rect x="594" y="16.5" width="1" height="80.3" fill="url(#h21)"/>
<rect x="595" y="16.5" width="1" height="80.3" fill="url(#h22)"/>
<rect x="596" y="16.5" width="1" height="80.3" fill="url(#h23)"/>
<rect x="597" y="16.5" width="1" height="80.3" fill="url(#h24)"/>
<rect x="598" y="16.5" width="1" height="80.3" fill="url(#h25)"/>
<rect x="599" y="16.5" width="1" height="80.3" fill="url(#h26)"/>
<rect x="600" y="16.5" width="1" height="80.3" fill="url(#h27)"/>
<rect x="601" y="16.5" width="1" height="80.3" fill="url(#h28)"/>
<rect x="602" y="16.5" width="1" height="80.3" fill="url(#h29)"/>
<rect x="603" y="16.5" width="1" height="80.3" fill="url(#h30)"/>
<rect x="604" y="16.5" width="1" height="80.3" fill="url(#h31)"/>
<rect x="605" y="16.5" width="1" height="80.3" fill="url(#h32)"/>
<rect x="606" y="16.5" width="2" height="80.3" fill="url(#h33)"/>
<rect x="608" y="16.5" width="1" height="80.3" fill="url(#h34)"/>
<rect x="609" y="16.5" width="1" height="80.3" fill="url(#h35)"/>
<rect x="610" y="16.5" width="1" height="80.3" fill="url(#h36)"/>
<rect x="611" y="16.5" width="1" height="80.3" fill="url(#h37)"/>
<rect x="612" y="16.5" width="1" height="80.3" fill="url(#h38)"/>
<rect x="613" y="16.5" width="1" height="80.3" fill="url(#h39)"/>
<rect x="614" y="16.5" width="1" height="80.3" fill="url(#h40)"/>
<rect x="615" y="16.5" width="1" height="80.3" fill="url(#h41)"/>
<rect x="616" y="16.5" width="1" height="80.3" fill="url(#h42)"/>
<rect x="617" y="16.5" width="1" height="80.3" fill="url(#h43)"/>
<rect x="618" y="16.5" width="1" height="80.3" fill="url(#h44)"/>
<rect x="619" y="16.5" width="1" height="80.3" fill="url(#h45)"/>
<rect x="620" y="16.5" width="1" height="80.3" fill="url(#h46)"/>
<rect x="621" y="16.5" width="1" height="80.3" fill="url(#h47)"/>
<rect x="622" y="16.5" width="1" height="80.3" fill="url(#h48)"/>
<rect x="623" y="16.5" width="1" height="80.3" fill="url(#h49)"/>
<rect x="624" y="16.5" width="2" height="80.3" fill="rgb(45,38,81)"/>
<rect x="626" y="16.5" width="14" height="80.3" fill="rgb(45,38,80)"/>
<rect x="640" y="16.5" width="1" height="80.3" fill="url(#h50)"/>
<rect x="641" y="16.5" width="1" height="80.3" fill="url(#h51)"/>
<rect x="642" y="16.5" width="1" height="80.3" fill="url(#h52)"/>
<rect x="643" y="16.5" width="1" height="80.3" fill="url(#h53)"/>
<rect x="644" y="16.5" width="1" height="80.3" fill="url(#h54)"/>
<rect x="645" y="16.5" width="1" height="80.3" fill="url(#h55)"/>
<rect x="646" y="16.5" width="1" height="80.3" fill="url(#h56)"/>
<rect x="647" y="16.5" width="1" height="80.3" fill="url(#h57)"/>
<rect x="648" y="16.5" width="1" height="80.3" fill="url(#h58)"/>
<rect x="649" y="16.5" width="1" height="80.3" fill="url(#h59)"/>
<rect x="650" y="16.5" width="1" height="80.3" fill="url(#h60)"/>
<rect x="651" y="16.5" width="1" height="80.3" fill="url(#h61)"/>
<rect x="652" y="16.5" width="1" height="80.3" fill="url(#h62)"/>
<rect x="653" y="16.5" width="1" height="80.3" fill="url(#h63)"/>
<rect x="654" y="16.5" width="1" height="80.3" fill="url(#h64)"/>
<rect x="655" y="16.5" width="1" height="80.3" fill="url(#h65)"/>
<rect x="656" y="16.5" width="1" height="80.3" fill="url(#h66)"/>
<rect x="657" y="16.5" width="10" height="80.3" fill="rgb(44,37,79)"/>
</g>
<line x1="558" y1="16.5" x2="667" y2="16.5" stroke="#555" stroke-width="0.5" />
<line x1="578.5" y1="96.5" x2="578.5" y2="98.7" stroke="#333" stroke-width="0.9" />
<text x="578.5" y="105.9" font-size="5.6" text-anchor="middle" fill="#222" stroke="#222" >-4</text>
<line x1="605.5" y1="96.5" x2="605.5" y2="98.7" stroke="#333" stroke-width="0.9" />
<text x="605.5" y="105.9" font-size="5.6" text-anchor="middle" fill="#222" stroke="#222" >-2</text>
<line x1="632.5" y1="96.5" x2="632.5" y2="98.7" stroke="#333" stroke-width="0.9" />
<text x="632.5" y="105.9" font-size="5.6" text-anchor="middle" fill="#222" stroke="#222" >0</text>
<line x1="659.5" y1="96.5" x2="659.5" y2="98.7" stroke="#333" stroke-width="0.9" />
<text x="659.5" y="105.9" font-size="5.6" text-anchor="middle" fill="#222" stroke="#222" >2</text>
<line x1="564.5" y1="96.5" x2="564.5" y2="97.8" stroke="#333" stroke-width="0.8" />
<line x1="591.5" y1="96.5" x2="591.5" y2="97.8" stroke="#333" stroke-width="0.8" />
<line x1="618.5" y1="96.5" x2="618.5" y2="97.8" stroke="#333" stroke-width="0.8" />
<line x1="646.5" y1="96.5" x2="646.5" y2="97.8" stroke="#333" stroke-width="0.8" />
<line x1="667.5" y1="96.5" x2="669.7" y2="96.5" stroke="#333" stroke-width="0.9" />
<text x="672.3" y="98.87" font-size="5.6" text-anchor="start" fill="#222" stroke="#222" >0</text>
<line x1="667.5" y1="78.5" x2="669.7" y2="78.5" stroke="#333" stroke-width="0.9" />
<text x="672.3" y="80.87" font-size="5.6" text-anchor="start" fill="#222" stroke="#222" >2</text>
<line x1="667.5" y1="60.5" x2="669.7" y2="60.5" stroke="#333" stroke-width="0.9" />
<text x="672.3" y="62.87" font-size="5.6" text-anchor="start" fill="#222" stroke="#222" >4</text>
<line x1="667.5" y1="43.5" x2="669.7" y2="43.5" stroke="#333" stroke-width="0.9" />
<text x="672.3" y="45.87" font-size="5.6" text-anchor="start" fill="#222" stroke="#222" >6</text>
<line x1="667.5" y1="25.5" x2="669.7" y2="25.5" stroke="#333" stroke-width="0.9" />
<text x="672.3" y="27.87" font-size="5.6" text-anchor="start" fill="#222" stroke="#222" >8</text>
<line x1="667.5" y1="87.5" x2="668.8" y2="87.5" stroke="#333" stroke-width="0.8" />
<line x1="667.5" y1="69.5" x2="668.8" y2="69.5" stroke="#333" stroke-width="0.8" />
<line x1="667.5" y1="51.5" x2="668.8" y2="51.5" stroke="#333" stroke-width="0.8" />
<line x1="667.5" y1="34.5" x2="668.8" y2="34.5" stroke="#333" stroke-width="0.8" />
<text x="613" y="113.1" font-size="5.6" text-anchor="middle" fill="#222" stroke="#222" >logτ (s)</text>
<text x="684" y="58.85" font-size="5.8" text-anchor="middle" fill="#222" stroke="#222" transform="rotate(-90 684 58.85)">Cycle number</text>
<rect x="548" y="22.1" width="4.8" height="68.7" fill="url(#cbar)" stroke="none" stroke-width="0.7" />
<text x="550.4" y="19.1" font-size="5.2" text-anchor="middle" fill="#222" stroke="#222" >60</text>
<text x="550.4" y="98.4" font-size="5.2" text-anchor="middle" fill="#222" stroke="#222" >0</text>
<text x="543.2" y="56.25" font-size="5.9" text-anchor="middle" fill="#222" stroke="#222" transform="rotate(-90 543.2 56.25)">γ (τ) (Ω)</text>
<text x="563" y="30.1" font-size="9.4" text-anchor="start" fill="#f0f0f0" stroke="#f0f0f0" >ZnSO<tspan font-size="70%" dy="2.3">4</tspan><tspan dy="-2.3">​</tspan></text>
<g shape-rendering="crispEdges">
<rect x="558" y="128.6" width="14" height="79.4" fill="rgb(44,37,78)"/>
<rect x="572" y="128.6" width="3" height="79.4" fill="rgb(45,38,81)"/>
<rect x="575" y="128.6" width="2" height="79.4" fill="rgb(47,40,84)"/>
<rect x="577" y="128.6" width="2" height="79.4" fill="rgb(48,41,87)"/>
<rect x="579" y="128.6" width="2" height="79.4" fill="rgb(50,42,91)"/>
<rect x="581" y="128.6" width="2" height="79.4" fill="rgb(52,43,95)"/>
<rect x="583" y="128.6" width="1" height="79.4" fill="rgb(54,45,99)"/>
<rect x="584" y="128.6" width="1" height="79.4" fill="rgb(56,46,102)"/>
<rect x="585" y="128.6" width="1" height="79.4" fill="url(#h67)"/>
<rect x="586" y="128.6" width="1" height="79.4" fill="url(#h68)"/>
<rect x="587" y="128.6" width="1" height="79.4" fill="url(#h69)"/>
<rect x="588" y="128.6" width="1" height="79.4" fill="url(#h70)"/>
<rect x="589" y="128.6" width="1" height="79.4" fill="url(#h71)"/>
<rect x="590" y="128.6" width="1" height="79.4" fill="url(#h72)"/>
<rect x="591" y="128.6" width="1" height="79.4" fill="url(#h73)"/>
<rect x="592" y="128.6" width="1" height="79.4" fill="url(#h74)"/>
<rect x="593" y="128.6" width="1" height="79.4" fill="url(#h75)"/>
<rect x="594" y="128.6" width="1" height="79.4" fill="url(#h76)"/>
<rect x="595" y="128.6" width="1" height="79.4" fill="url(#h77)"/>
<rect x="596" y="128.6" width="1" height="79.4" fill="url(#h78)"/>
<rect x="597" y="128.6" width="1" height="79.4" fill="url(#h79)"/>
<rect x="598" y="128.6" width="1" height="79.4" fill="url(#h80)"/>
<rect x="599" y="128.6" width="1" height="79.4" fill="url(#h81)"/>
<rect x="600" y="128.6" width="1" height="79.4" fill="url(#h82)"/>
<rect x="601" y="128.6" width="2" height="79.4" fill="url(#h83)"/>
<rect x="603" y="128.6" width="2" height="79.4" fill="url(#h84)"/>
<rect x="605" y="128.6" width="2" height="79.4" fill="url(#h85)"/>
<rect x="607" y="128.6" width="1" height="79.4" fill="url(#h86)"/>
<rect x="608" y="128.6" width="1" height="79.4" fill="url(#h87)"/>
<rect x="609" y="128.6" width="1" height="79.4" fill="url(#h88)"/>
<rect x="610" y="128.6" width="1" height="79.4" fill="url(#h89)"/>
<rect x="611" y="128.6" width="1" height="79.4" fill="url(#h90)"/>
<rect x="612" y="128.6" width="1" height="79.4" fill="url(#h91)"/>
<rect x="613" y="128.6" width="1" height="79.4" fill="url(#h92)"/>
<rect x="614" y="128.6" width="1" height="79.4" fill="url(#h93)"/>
<rect x="615" y="128.6" width="1" height="79.4" fill="url(#h94)"/>
<rect x="616" y="128.6" width="1" height="79.4" fill="url(#h95)"/>
<rect x="617" y="128.6" width="1" height="79.4" fill="url(#h96)"/>
<rect x="618" y="128.6" width="1" height="79.4" fill="rgb(50,42,91)"/>
<rect x="619" y="128.6" width="2" height="79.4" fill="rgb(49,41,89)"/>
<rect x="621" y="128.6" width="2" height="79.4" fill="rgb(47,40,85)"/>
<rect x="623" y="128.6" width="7" height="79.4" fill="rgb(46,39,82)"/>
<rect x="630" y="128.6" width="10" height="79.4" fill="rgb(45,37,79)"/>
<rect x="640" y="128.6" width="1" height="79.4" fill="url(#h97)"/>
<rect x="641" y="128.6" width="1" height="79.4" fill="url(#h98)"/>
<rect x="642" y="128.6" width="1" height="79.4" fill="url(#h99)"/>
<rect x="643" y="128.6" width="1" height="79.4" fill="url(#h100)"/>
<rect x="644" y="128.6" width="1" height="79.4" fill="url(#h101)"/>
<rect x="645" y="128.6" width="1" height="79.4" fill="url(#h102)"/>
<rect x="646" y="128.6" width="1" height="79.4" fill="url(#h103)"/>
<rect x="647" y="128.6" width="1" height="79.4" fill="url(#h104)"/>
<rect x="648" y="128.6" width="1" height="79.4" fill="url(#h105)"/>
<rect x="649" y="128.6" width="1" height="79.4" fill="url(#h106)"/>
<rect x="650" y="128.6" width="1" height="79.4" fill="url(#h107)"/>
<rect x="651" y="128.6" width="1" height="79.4" fill="url(#h108)"/>
<rect x="652" y="128.6" width="1" height="79.4" fill="url(#h109)"/>
<rect x="653" y="128.6" width="1" height="79.4" fill="url(#h110)"/>
<rect x="654" y="128.6" width="1" height="79.4" fill="url(#h111)"/>
<rect x="655" y="128.6" width="1" height="79.4" fill="url(#h112)"/>
<rect x="656" y="128.6" width="1" height="79.4" fill="url(#h113)"/>
<rect x="657" y="128.6" width="11" height="79.4" fill="rgb(45,38,79)"/>
</g>
<line x1="558.5" y1="128.6" x2="667.5" y2="128.6" stroke="#555" stroke-width="0.5" />
<line x1="578.5" y1="208.5" x2="578.5" y2="210.7" stroke="#333" stroke-width="0.9" />
<text x="578.5" y="217.1" font-size="5.6" text-anchor="middle" fill="#222" stroke="#222" >-4</text>
<line x1="605.5" y1="208.5" x2="605.5" y2="210.7" stroke="#333" stroke-width="0.9" />
<text x="605.5" y="217.1" font-size="5.6" text-anchor="middle" fill="#222" stroke="#222" >-2</text>
<line x1="632.5" y1="208.5" x2="632.5" y2="210.7" stroke="#333" stroke-width="0.9" />
<text x="632.5" y="217.1" font-size="5.6" text-anchor="middle" fill="#222" stroke="#222" >0</text>
<line x1="660.5" y1="208.5" x2="660.5" y2="210.7" stroke="#333" stroke-width="0.9" />
<text x="660.5" y="217.1" font-size="5.6" text-anchor="middle" fill="#222" stroke="#222" >2</text>
<line x1="565.5" y1="208.5" x2="565.5" y2="209.8" stroke="#333" stroke-width="0.8" />
<line x1="592.5" y1="208.5" x2="592.5" y2="209.8" stroke="#333" stroke-width="0.8" />
<line x1="619.5" y1="208.5" x2="619.5" y2="209.8" stroke="#333" stroke-width="0.8" />
<line x1="646.5" y1="208.5" x2="646.5" y2="209.8" stroke="#333" stroke-width="0.8" />
<line x1="667.5" y1="207.5" x2="669.7" y2="207.5" stroke="#333" stroke-width="0.9" />
<text x="672.3" y="209.87" font-size="5.6" text-anchor="start" fill="#222" stroke="#222" >0</text>
<line x1="667.5" y1="190.5" x2="669.7" y2="190.5" stroke="#333" stroke-width="0.9" />
<text x="672.3" y="192.87" font-size="5.6" text-anchor="start" fill="#222" stroke="#222" >2</text>
<line x1="667.5" y1="172.5" x2="669.7" y2="172.5" stroke="#333" stroke-width="0.9" />
<text x="672.3" y="174.87" font-size="5.6" text-anchor="start" fill="#222" stroke="#222" >4</text>
<line x1="667.5" y1="154.5" x2="669.7" y2="154.5" stroke="#333" stroke-width="0.9" />
<text x="672.3" y="156.87" font-size="5.6" text-anchor="start" fill="#222" stroke="#222" >6</text>
<line x1="667.5" y1="137.5" x2="669.7" y2="137.5" stroke="#333" stroke-width="0.9" />
<text x="672.3" y="139.87" font-size="5.6" text-anchor="start" fill="#222" stroke="#222" >8</text>
<line x1="667.5" y1="198.5" x2="668.8" y2="198.5" stroke="#333" stroke-width="0.8" />
<line x1="667.5" y1="181.5" x2="668.8" y2="181.5" stroke="#333" stroke-width="0.8" />
<line x1="667.5" y1="163.5" x2="668.8" y2="163.5" stroke="#333" stroke-width="0.8" />
<line x1="667.5" y1="146.5" x2="668.8" y2="146.5" stroke="#333" stroke-width="0.8" />
<text x="613.5" y="224.3" font-size="5.6" text-anchor="middle" fill="#222" stroke="#222" >logτ (s)</text>
<text x="684" y="170.5" font-size="5.8" text-anchor="middle" fill="#222" stroke="#222" transform="rotate(-90 684 170.5)">Cycle number</text>
<rect x="548" y="134.2" width="4.8" height="67.8" fill="url(#cbar)" stroke="none" stroke-width="0.7" />
<text x="550.4" y="131.2" font-size="5.2" text-anchor="middle" fill="#222" stroke="#222" >60</text>
<text x="550.4" y="209.6" font-size="5.2" text-anchor="middle" fill="#222" stroke="#222" >0</text>
<text x="543.2" y="167.9" font-size="5.9" text-anchor="middle" fill="#222" stroke="#222" transform="rotate(-90 543.2 167.9)">γ (τ) (Ω)</text>
<text x="563" y="142.2" font-size="9.4" text-anchor="start" fill="#f0f0f0" stroke="#f0f0f0" >ZnSO<tspan font-size="70%" dy="2.3">4</tspan><tspan dy="-2.3">​</tspan>/FU</text>
<g shape-rendering="crispEdges">
<rect x="558" y="237.4" width="13" height="79" fill="rgb(44,37,78)"/>
<rect x="571" y="237.4" width="3" height="79" fill="rgb(45,38,81)"/>
<rect x="574" y="237.4" width="2" height="79" fill="rgb(47,40,84)"/>
<rect x="576" y="237.4" width="2" height="79" fill="rgb(48,41,87)"/>
<rect x="578" y="237.4" width="1" height="79" fill="url(#h114)"/>
<rect x="579" y="237.4" width="1" height="79" fill="url(#h115)"/>
<rect x="580" y="237.4" width="1" height="79" fill="url(#h116)"/>
<rect x="581" y="237.4" width="1" height="79" fill="url(#h117)"/>
<rect x="582" y="237.4" width="1" height="79" fill="url(#h118)"/>
<rect x="583" y="237.4" width="1" height="79" fill="url(#h119)"/>
<rect x="584" y="237.4" width="1" height="79" fill="url(#h120)"/>
<rect x="585" y="237.4" width="1" height="79" fill="url(#h121)"/>
<rect x="586" y="237.4" width="1" height="79" fill="url(#h122)"/>
<rect x="587" y="237.4" width="1" height="79" fill="url(#h123)"/>
<rect x="588" y="237.4" width="1" height="79" fill="url(#h124)"/>
<rect x="589" y="237.4" width="1" height="79" fill="url(#h125)"/>
<rect x="590" y="237.4" width="1" height="79" fill="url(#h126)"/>
<rect x="591" y="237.4" width="1" height="79" fill="url(#h127)"/>
<rect x="592" y="237.4" width="1" height="79" fill="url(#h128)"/>
<rect x="593" y="237.4" width="1" height="79" fill="url(#h129)"/>
<rect x="594" y="237.4" width="1" height="79" fill="url(#h130)"/>
<rect x="595" y="237.4" width="1" height="79" fill="url(#h131)"/>
<rect x="596" y="237.4" width="1" height="79" fill="url(#h132)"/>
<rect x="597" y="237.4" width="1" height="79" fill="url(#h133)"/>
<rect x="598" y="237.4" width="1" height="79" fill="url(#h134)"/>
<rect x="599" y="237.4" width="1" height="79" fill="url(#h135)"/>
<rect x="600" y="237.4" width="1" height="79" fill="url(#h136)"/>
<rect x="601" y="237.4" width="1" height="79" fill="url(#h137)"/>
<rect x="602" y="237.4" width="1" height="79" fill="url(#h138)"/>
<rect x="603" y="237.4" width="1" height="79" fill="url(#h139)"/>
<rect x="604" y="237.4" width="1" height="79" fill="url(#h140)"/>
<rect x="605" y="237.4" width="1" height="79" fill="url(#h141)"/>
<rect x="606" y="237.4" width="1" height="79" fill="url(#h142)"/>
<rect x="607" y="237.4" width="1" height="79" fill="url(#h143)"/>
<rect x="608" y="237.4" width="1" height="79" fill="url(#h144)"/>
<rect x="609" y="237.4" width="1" height="79" fill="url(#h145)"/>
<rect x="610" y="237.4" width="1" height="79" fill="url(#h146)"/>
<rect x="611" y="237.4" width="1" height="79" fill="url(#h147)"/>
<rect x="612" y="237.4" width="1" height="79" fill="url(#h148)"/>
<rect x="613" y="237.4" width="1" height="79" fill="url(#h149)"/>
<rect x="614" y="237.4" width="1" height="79" fill="url(#h150)"/>
<rect x="615" y="237.4" width="1" height="79" fill="url(#h151)"/>
<rect x="616" y="237.4" width="1" height="79" fill="url(#h152)"/>
<rect x="617" y="237.4" width="1" height="79" fill="url(#h153)"/>
<rect x="618" y="237.4" width="1" height="79" fill="url(#h154)"/>
<rect x="619" y="237.4" width="1" height="79" fill="url(#h155)"/>
<rect x="620" y="237.4" width="2" height="79" fill="rgb(48,40,86)"/>
<rect x="622" y="237.4" width="4" height="79" fill="rgb(46,39,82)"/>
<rect x="626" y="237.4" width="14" height="79" fill="rgb(45,38,80)"/>
<rect x="640" y="237.4" width="1" height="79" fill="url(#h156)"/>
<rect x="641" y="237.4" width="1" height="79" fill="url(#h157)"/>
<rect x="642" y="237.4" width="1" height="79" fill="url(#h158)"/>
<rect x="643" y="237.4" width="1" height="79" fill="url(#h159)"/>
<rect x="644" y="237.4" width="1" height="79" fill="url(#h160)"/>
<rect x="645" y="237.4" width="1" height="79" fill="url(#h161)"/>
<rect x="646" y="237.4" width="1" height="79" fill="url(#h162)"/>
<rect x="647" y="237.4" width="1" height="79" fill="url(#h163)"/>
<rect x="648" y="237.4" width="1" height="79" fill="url(#h164)"/>
<rect x="649" y="237.4" width="1" height="79" fill="url(#h165)"/>
<rect x="650" y="237.4" width="1" height="79" fill="url(#h166)"/>
<rect x="651" y="237.4" width="1" height="79" fill="url(#h167)"/>
<rect x="652" y="237.4" width="1" height="79" fill="url(#h168)"/>
<rect x="653" y="237.4" width="1" height="79" fill="url(#h169)"/>
<rect x="654" y="237.4" width="1" height="79" fill="url(#h170)"/>
<rect x="655" y="237.4" width="1" height="79" fill="url(#h171)"/>
<rect x="656" y="237.4" width="1" height="79" fill="url(#h172)"/>
<rect x="657" y="237.4" width="11" height="79" fill="rgb(45,38,79)"/>
</g>
<line x1="558.5" y1="237.4" x2="667.5" y2="237.4" stroke="#555" stroke-width="0.5" />
<line x1="578.5" y1="316.5" x2="578.5" y2="318.7" stroke="#333" stroke-width="0.9" />
<text x="578.5" y="325.5" font-size="5.6" text-anchor="middle" fill="#222" stroke="#222" >-4</text>
<line x1="605.5" y1="316.5" x2="605.5" y2="318.7" stroke="#333" stroke-width="0.9" />
<text x="605.5" y="325.5" font-size="5.6" text-anchor="middle" fill="#222" stroke="#222" >-2</text>
<line x1="632.5" y1="316.5" x2="632.5" y2="318.7" stroke="#333" stroke-width="0.9" />
<text x="632.5" y="325.5" font-size="5.6" text-anchor="middle" fill="#222" stroke="#222" >0</text>
<line x1="660.5" y1="316.5" x2="660.5" y2="318.7" stroke="#333" stroke-width="0.9" />
<text x="660.5" y="325.5" font-size="5.6" text-anchor="middle" fill="#222" stroke="#222" >2</text>
<line x1="565.5" y1="316.5" x2="565.5" y2="317.8" stroke="#333" stroke-width="0.8" />
<line x1="592.5" y1="316.5" x2="592.5" y2="317.8" stroke="#333" stroke-width="0.8" />
<line x1="619.5" y1="316.5" x2="619.5" y2="317.8" stroke="#333" stroke-width="0.8" />
<line x1="646.5" y1="316.5" x2="646.5" y2="317.8" stroke="#333" stroke-width="0.8" />
<line x1="667.5" y1="316.5" x2="669.7" y2="316.5" stroke="#333" stroke-width="0.9" />
<text x="672.3" y="318.87" font-size="5.6" text-anchor="start" fill="#222" stroke="#222" >0</text>
<line x1="667.5" y1="298.5" x2="669.7" y2="298.5" stroke="#333" stroke-width="0.9" />
<text x="672.3" y="300.87" font-size="5.6" text-anchor="start" fill="#222" stroke="#222" >2</text>
<line x1="667.5" y1="281.5" x2="669.7" y2="281.5" stroke="#333" stroke-width="0.9" />
<text x="672.3" y="283.87" font-size="5.6" text-anchor="start" fill="#222" stroke="#222" >4</text>
<line x1="667.5" y1="263.5" x2="669.7" y2="263.5" stroke="#333" stroke-width="0.9" />
<text x="672.3" y="265.87" font-size="5.6" text-anchor="start" fill="#222" stroke="#222" >6</text>
<line x1="667.5" y1="245.5" x2="669.7" y2="245.5" stroke="#333" stroke-width="0.9" />
<text x="672.3" y="247.87" font-size="5.6" text-anchor="start" fill="#222" stroke="#222" >8</text>
<line x1="667.5" y1="307.5" x2="668.8" y2="307.5" stroke="#333" stroke-width="0.8" />
<line x1="667.5" y1="289.5" x2="668.8" y2="289.5" stroke="#333" stroke-width="0.8" />
<line x1="667.5" y1="272.5" x2="668.8" y2="272.5" stroke="#333" stroke-width="0.8" />
<line x1="667.5" y1="254.5" x2="668.8" y2="254.5" stroke="#333" stroke-width="0.8" />
<text x="613.5" y="332.7" font-size="5.6" text-anchor="middle" fill="#222" stroke="#222" >logτ (s)</text>
<text x="684" y="279.1" font-size="5.8" text-anchor="middle" fill="#222" stroke="#222" transform="rotate(-90 684 279.1)">Cycle number</text>
<rect x="548" y="243" width="4.8" height="67.4" fill="url(#cbar)" stroke="none" stroke-width="0.7" />
<text x="550.4" y="240" font-size="5.2" text-anchor="middle" fill="#222" stroke="#222" >60</text>
<text x="550.4" y="318" font-size="5.2" text-anchor="middle" fill="#222" stroke="#222" >0</text>
<text x="543.2" y="276.5" font-size="5.9" text-anchor="middle" fill="#222" stroke="#222" transform="rotate(-90 543.2 276.5)">γ (τ) (Ω)</text>
<text x="563" y="251" font-size="9.4" text-anchor="start" fill="#f0f0f0" stroke="#f0f0f0" >ZnSO<tspan font-size="70%" dy="2.3">4</tspan><tspan dy="-2.3">​</tspan>/MA</text>
<text x="4.3" y="345.6" font-size="12.4" text-anchor="start" fill="#111" stroke="#111" >g</text>
<rect x="127.6" y="357.8" width="18.9" height="8.9" fill="#bdbdbd" stroke="none" stroke-width="0.7" shape-rendering="crispEdges"/>
<rect x="146.4" y="357.8" width="22.1" height="8.9" fill="#f8cf98" stroke="none" stroke-width="0.7" shape-rendering="crispEdges"/>
<rect x="168.4" y="357.8" width="22.7" height="8.9" fill="#3c80d4" stroke="none" stroke-width="0.7" shape-rendering="crispEdges"/>
<rect x="191" y="357.8" width="20.7" height="8.9" fill="#6b85c8" stroke="none" stroke-width="0.7" shape-rendering="crispEdges"/>
<rect x="211.6" y="357.8" width="22.4" height="8.9" fill="#9288b8" stroke="none" stroke-width="0.7" shape-rendering="crispEdges"/>
<rect x="233.9" y="357.8" width="22.1" height="8.9" fill="#ee8e92" stroke="none" stroke-width="0.7" shape-rendering="crispEdges"/>
<text x="147" y="374.3" font-size="5.5" text-anchor="middle" fill="#222" stroke="#222" >1</text>
<text x="169" y="374.3" font-size="5.5" text-anchor="middle" fill="#222" stroke="#222" >2</text>
<text x="191" y="374.3" font-size="5.5" text-anchor="middle" fill="#222" stroke="#222" >3</text>
<text x="212.8" y="374.3" font-size="5.5" text-anchor="middle" fill="#222" stroke="#222" >4</text>
<text x="236" y="374.3" font-size="5.5" text-anchor="middle" fill="#222" stroke="#222" >5</text>
<text x="190.5" y="381.8" font-size="5.5" text-anchor="middle" fill="#222" stroke="#222" >Capacity (mAh cm<tspan font-size="70%" dy="-1.8">−2</tspan><tspan dy="1.8">​</tspan>)</text>
<circle cx="30.8" cy="364.05" r="2.75" fill="#f09296" stroke="none" stroke-width="0.5" />
<circle cx="30.1" cy="363.35" r="1.1" fill="#ffffff" stroke="none" stroke-width="0.5" opacity="0.35"/>
<text x="30.8" y="365.4" font-size="3.8" text-anchor="middle" fill="#222" stroke="#222" >6</text>
<circle cx="34.5" cy="364.05" r="2.75" fill="#f9cc96" stroke="none" stroke-width="0.5" />
<circle cx="33.8" cy="363.35" r="1.1" fill="#ffffff" stroke="none" stroke-width="0.5" opacity="0.35"/>
<text x="34.5" y="365.4" font-size="3.8" text-anchor="middle" fill="#222" stroke="#222" >16</text>
<circle cx="39.3" cy="364.05" r="2.75" fill="#f09296" stroke="none" stroke-width="0.5" />
<circle cx="38.6" cy="363.35" r="1.1" fill="#ffffff" stroke="none" stroke-width="0.5" opacity="0.35"/>
<text x="39.3" y="365.4" font-size="3.8" text-anchor="middle" fill="#222" stroke="#222" >9</text>
<circle cx="49.1" cy="364.05" r="2.75" fill="#f09296" stroke="none" stroke-width="0.5" />
<circle cx="48.4" cy="363.35" r="1.1" fill="#ffffff" stroke="none" stroke-width="0.5" opacity="0.35"/>
<text x="49.1" y="365.4" font-size="3.8" text-anchor="middle" fill="#222" stroke="#222" >10</text>
<circle cx="54.9" cy="364.05" r="2.75" fill="#f09296" stroke="none" stroke-width="0.5" />
<circle cx="54.2" cy="363.35" r="1.1" fill="#ffffff" stroke="none" stroke-width="0.5" opacity="0.35"/>
<text x="54.9" y="365.4" font-size="3.8" text-anchor="middle" fill="#222" stroke="#222" >12</text>
<circle cx="84.9" cy="364.05" r="2.75" fill="#f9cc96" stroke="none" stroke-width="0.5" />
<circle cx="84.2" cy="363.35" r="1.1" fill="#ffffff" stroke="none" stroke-width="0.5" opacity="0.35"/>
<text x="84.9" y="365.4" font-size="3.8" text-anchor="middle" fill="#222" stroke="#222" >15</text>
<circle cx="114.8" cy="364.05" r="2.75" fill="#3a7ed2" stroke="none" stroke-width="0.5" />
<circle cx="114.1" cy="363.35" r="1.1" fill="#ffffff" stroke="none" stroke-width="0.5" opacity="0.35"/>
<text x="114.8" y="365.4" font-size="3.8" text-anchor="middle" fill="#222" stroke="#222" >4</text>
<circle cx="37.4" cy="377.3" r="2.75" fill="#8a7fb8" stroke="none" stroke-width="0.5" />
<circle cx="36.7" cy="376.6" r="1.1" fill="#ffffff" stroke="none" stroke-width="0.5" opacity="0.35"/>
<text x="37.4" y="378.65" font-size="3.8" text-anchor="middle" fill="#222" stroke="#222" >3</text>
<circle cx="60.8" cy="377.3" r="2.75" fill="#f9cc96" stroke="none" stroke-width="0.5" />
<circle cx="60.1" cy="376.6" r="1.1" fill="#ffffff" stroke="none" stroke-width="0.5" opacity="0.35"/>
<text x="60.8" y="378.65" font-size="3.8" text-anchor="middle" fill="#222" stroke="#222" >1</text>
<circle cx="86" cy="377.3" r="2.75" fill="#3a7ed2" stroke="none" stroke-width="0.5" />
<circle cx="85.3" cy="376.6" r="1.1" fill="#ffffff" stroke="none" stroke-width="0.5" opacity="0.35"/>
<text x="86" y="378.65" font-size="3.8" text-anchor="middle" fill="#222" stroke="#222" >20</text>
<circle cx="86.1" cy="403.8" r="2.75" fill="#3a7ed2" stroke="none" stroke-width="0.5" />
<circle cx="85.4" cy="403.1" r="1.1" fill="#ffffff" stroke="none" stroke-width="0.5" opacity="0.35"/>
<text x="86.1" y="405.15" font-size="3.8" text-anchor="middle" fill="#222" stroke="#222" >7</text>
<circle cx="118.2" cy="403.8" r="2.75" fill="#f9cc96" stroke="none" stroke-width="0.5" />
<circle cx="117.5" cy="403.1" r="1.1" fill="#ffffff" stroke="none" stroke-width="0.5" opacity="0.35"/>
<text x="118.2" y="405.15" font-size="3.8" text-anchor="middle" fill="#222" stroke="#222" >8</text>
<circle cx="44.3" cy="417.05" r="2.75" fill="#f9cc96" stroke="none" stroke-width="0.5" />
<circle cx="43.6" cy="416.35" r="1.1" fill="#ffffff" stroke="none" stroke-width="0.5" opacity="0.35"/>
<text x="44.3" y="418.4" font-size="3.8" text-anchor="middle" fill="#222" stroke="#222" >6</text>
<circle cx="48.2" cy="417.05" r="2.75" fill="#f9cc96" stroke="none" stroke-width="0.5" />
<circle cx="47.5" cy="416.35" r="1.1" fill="#ffffff" stroke="none" stroke-width="0.5" opacity="0.35"/>
<text x="48.2" y="418.4" font-size="3.8" text-anchor="middle" fill="#222" stroke="#222" >11</text>
<circle cx="60.4" cy="417.05" r="2.75" fill="#3a7ed2" stroke="none" stroke-width="0.5" />
<circle cx="59.7" cy="416.35" r="1.1" fill="#ffffff" stroke="none" stroke-width="0.5" opacity="0.35"/>
<text x="60.4" y="418.4" font-size="3.8" text-anchor="middle" fill="#222" stroke="#222" >22</text>
<circle cx="64.7" cy="417.05" r="2.75" fill="#f9cc96" stroke="none" stroke-width="0.5" />
<circle cx="64" cy="416.35" r="1.1" fill="#ffffff" stroke="none" stroke-width="0.5" opacity="0.35"/>
<text x="64.7" y="418.4" font-size="3.8" text-anchor="middle" fill="#222" stroke="#222" >24</text>
<circle cx="78.4" cy="417.05" r="2.75" fill="#c4c4c4" stroke="none" stroke-width="0.5" />
<circle cx="77.7" cy="416.35" r="1.1" fill="#ffffff" stroke="none" stroke-width="0.5" opacity="0.35"/>
<text x="78.4" y="418.4" font-size="3.8" text-anchor="middle" fill="#222" stroke="#222" >17</text>
<circle cx="82.9" cy="417.05" r="2.75" fill="#f9cc96" stroke="none" stroke-width="0.5" />
<circle cx="82.2" cy="416.35" r="1.1" fill="#ffffff" stroke="none" stroke-width="0.5" opacity="0.35"/>
<text x="82.9" y="418.4" font-size="3.8" text-anchor="middle" fill="#222" stroke="#222" >14</text>
<circle cx="96.5" cy="417.05" r="2.75" fill="#f9cc96" stroke="none" stroke-width="0.5" />
<circle cx="95.8" cy="416.35" r="1.1" fill="#ffffff" stroke="none" stroke-width="0.5" opacity="0.35"/>
<text x="96.5" y="418.4" font-size="3.8" text-anchor="middle" fill="#222" stroke="#222" >13</text>
<circle cx="103.7" cy="417.05" r="2.75" fill="#f9cc96" stroke="none" stroke-width="0.5" />
<circle cx="103" cy="416.35" r="1.1" fill="#ffffff" stroke="none" stroke-width="0.5" opacity="0.35"/>
<text x="103.7" y="418.4" font-size="3.8" text-anchor="middle" fill="#222" stroke="#222" >18</text>
<circle cx="132.2" cy="417.05" r="2.75" fill="#f9cc96" stroke="none" stroke-width="0.5" />
<circle cx="131.5" cy="416.35" r="1.1" fill="#ffffff" stroke="none" stroke-width="0.5" opacity="0.35"/>
<text x="132.2" y="418.4" font-size="3.8" text-anchor="middle" fill="#222" stroke="#222" >23</text>
<circle cx="96.8" cy="419.97" r="2.75" fill="#c4c4c4" stroke="none" stroke-width="0.5" />
<circle cx="96.1" cy="419.27" r="1.1" fill="#ffffff" stroke="none" stroke-width="0.5" opacity="0.35"/>
<text x="96.8" y="421.32" font-size="3.8" text-anchor="middle" fill="#222" stroke="#222" >2</text>
<circle cx="67.9" cy="423.94" r="2.75" fill="#c4c4c4" stroke="none" stroke-width="0.5" />
<circle cx="67.2" cy="423.24" r="1.1" fill="#ffffff" stroke="none" stroke-width="0.5" opacity="0.35"/>
<text x="67.9" y="425.29" font-size="3.8" text-anchor="middle" fill="#222" stroke="#222" >22</text>
<circle cx="78.7" cy="423.94" r="2.75" fill="#c4c4c4" stroke="none" stroke-width="0.5" />
<circle cx="78" cy="423.24" r="1.1" fill="#ffffff" stroke="none" stroke-width="0.5" opacity="0.35"/>
<text x="78.7" y="425.29" font-size="3.8" text-anchor="middle" fill="#222" stroke="#222" >3</text>
<circle cx="54.3" cy="427.92" r="2.75" fill="#c4c4c4" stroke="none" stroke-width="0.5" />
<circle cx="53.6" cy="427.22" r="1.1" fill="#ffffff" stroke="none" stroke-width="0.5" opacity="0.35"/>
<text x="54.3" y="429.27" font-size="3.8" text-anchor="middle" fill="#222" stroke="#222" >19</text>
<polygon points="78.7,358.3 80.29,362.12 84.41,362.45 81.27,365.13 82.23,369.15 78.7,367 75.17,369.15 76.13,365.13 72.99,362.45 77.11,362.12" fill="#ee8e92" stroke="none" stroke-width="0" />
<polygon points="250.6,411.3 252.32,415.43 256.78,415.79 253.38,418.7 254.42,423.06 250.6,420.73 246.78,423.06 247.82,418.7 244.42,415.79 248.88,415.43" fill="#f8cc90" stroke="none" stroke-width="0" />
<line x1="25.5" y1="351" x2="265.5" y2="351" stroke="#3a3a3a" stroke-width="1.0" stroke-linecap="square"/>
<line x1="25.5" y1="430.5" x2="265.5" y2="430.5" stroke="#3a3a3a" stroke-width="1.0" stroke-linecap="square"/>
<line x1="25.5" y1="351" x2="25.5" y2="430.5" stroke="#3a3a3a" stroke-width="1.0" stroke-linecap="square"/>
<line x1="265.5" y1="351" x2="265.5" y2="430.5" stroke="#3a3a3a" stroke-width="1.0" stroke-linecap="square"/>
<line x1="25.5" y1="430.5" x2="23.3" y2="430.5" stroke="#333" stroke-width="0.9" />
<text x="20.7" y="432.87" font-size="5.6" text-anchor="end" fill="#222" stroke="#222" >0</text>
<line x1="25.5" y1="403.5" x2="23.3" y2="403.5" stroke="#333" stroke-width="0.9" />
<text x="20.7" y="405.87" font-size="5.6" text-anchor="end" fill="#222" stroke="#222" >2</text>
<line x1="25.5" y1="377.5" x2="23.3" y2="377.5" stroke="#333" stroke-width="0.9" />
<text x="20.7" y="379.87" font-size="5.6" text-anchor="end" fill="#222" stroke="#222" >4</text>
<line x1="25.5" y1="350.5" x2="23.3" y2="350.5" stroke="#333" stroke-width="0.9" />
<text x="20.7" y="352.87" font-size="5.6" text-anchor="end" fill="#222" stroke="#222" >6</text>
<line x1="25.5" y1="417.5" x2="24.2" y2="417.5" stroke="#333" stroke-width="0.8" />
<line x1="25.5" y1="390.5" x2="24.2" y2="390.5" stroke="#333" stroke-width="0.8" />
<line x1="25.5" y1="364.5" x2="24.2" y2="364.5" stroke="#333" stroke-width="0.8" />
<line x1="25.5" y1="430.5" x2="25.5" y2="432.7" stroke="#333" stroke-width="0.9" />
<text x="25.5" y="439.4" font-size="5.6" text-anchor="middle" fill="#222" stroke="#222" >0</text>
<line x1="96.5" y1="430.5" x2="96.5" y2="432.7" stroke="#333" stroke-width="0.9" />
<text x="96.5" y="439.4" font-size="5.6" text-anchor="middle" fill="#222" stroke="#222" >2000</text>
<line x1="168.5" y1="430.5" x2="168.5" y2="432.7" stroke="#333" stroke-width="0.9" />
<text x="168.5" y="439.4" font-size="5.6" text-anchor="middle" fill="#222" stroke="#222" >4000</text>
<line x1="239.5" y1="430.5" x2="239.5" y2="432.7" stroke="#333" stroke-width="0.9" />
<text x="239.5" y="439.4" font-size="5.6" text-anchor="middle" fill="#222" stroke="#222" >6000</text>
<line x1="61.5" y1="430.5" x2="61.5" y2="431.8" stroke="#333" stroke-width="0.8" />
<line x1="132.5" y1="430.5" x2="132.5" y2="431.8" stroke="#333" stroke-width="0.8" />
<line x1="203.5" y1="430.5" x2="203.5" y2="431.8" stroke="#333" stroke-width="0.8" />
<text x="14" y="390.2" font-size="6.0" text-anchor="middle" fill="#222" stroke="#222" transform="rotate(-90 14 390.2)">Current density (mA cm<tspan font-size="70%" dy="-1.8">−2</tspan><tspan dy="1.8">​</tspan>)</text>
<text x="145.5" y="446.3" font-size="5.5" text-anchor="middle" fill="#222" stroke="#222" >Time (h)</text>
<text x="272.5" y="345.6" font-size="12.4" text-anchor="start" fill="#111" stroke="#111" >h</text>
<g clip-path="url(#clipH)">
<line x1="296.56" y1="358.4" x2="534" y2="358.4" stroke="#f08a26" stroke-width="2.4" />
<polyline points="293.81,376.48 293.93,372.53 294.04,369.45 294.16,367.05 294.27,365.18 294.39,363.72 294.5,362.59 294.61,361.71 294.73,361.02 294.84,360.48 294.96,360.07 295.07,359.74 295.19,359.49 295.3,359.29 295.41,359.14 295.53,359.02 295.64,358.93 295.76,358.86 295.87,358.8 295.99,358.75 296.1,358.72 296.22,358.69 296.33,358.67 296.44,358.66 296.56,358.64 296.67,358.63 296.79,358.63 296.9,358.62 297.02,358.62 297.13,358.61" fill="none" stroke="#f08a26" stroke-width="1.0" stroke-linejoin="round" />
<polyline points="293.81,380.1 293.93,374.98 294.04,371.13 294.16,368.24 294.27,366.07 294.39,364.44 294.5,363.21 294.61,362.29 294.73,361.59 294.84,361.07 294.96,360.68 295.07,360.39 295.19,360.17 295.3,360 295.41,359.88 295.53,359.78 295.64,359.71 295.76,359.66 295.87,359.62 295.99,359.59 296.1,359.57 296.22,359.55 296.33,359.54 296.44,359.53 296.56,359.52 296.67,359.52 296.79,359.51 296.9,359.51 297.02,359.51 297.13,359.51" fill="none" stroke="#d20f16" stroke-width="1.4" stroke-linejoin="round" />
<polygon points="295.99,357.71 296.49,358.16 296.99,357.69 297.49,358.19 297.99,357.89 298.49,357.98 298.99,358.09 299.49,357.91 299.99,357.76 300.49,357.68 300.99,357.61 301.49,358.07 301.99,357.86 302.49,357.66 302.99,358.17 303.49,357.74 303.99,357.84 304.49,357.76 304.99,357.99 305.49,357.96 305.99,357.97 306.49,357.74 306.99,357.75 307.49,357.73 307.99,357.78 308.49,357.65 308.99,357.67 309.49,358.22 309.99,358.22 310.49,357.68 310.99,357.57 311.49,357.69 311.99,358.04 312.49,358.1 312.99,357.57 313.49,357.95 313.99,357.55 314.49,357.91 314.99,358 315.49,358.24 315.99,357.73 316.49,358.11 316.99,358.16 317.49,358.2 317.99,357.55 318.49,357.88 318.99,358.24 319.49,357.83 319.99,358.12 320.49,357.93 320.99,358.09 321.49,357.89 321.99,357.57 322.49,357.61 322.99,357.63 323.49,357.73 323.99,358.23 324.49,357.99 324.99,358.12 325.49,357.95 325.99,357.99 326.49,358.12 326.99,358.2 327.49,358.19 327.99,358.13 328.49,357.62 328.99,357.8 329.49,357.57 329.99,357.93 330.49,358.11 330.99,357.59 331.49,357.68 331.99,357.81 332.49,357.72 332.99,358.11 333.49,357.8 333.99,358 334.49,357.9 334.99,357.96 335.49,358.21 335.99,358.21 336.49,357.63 336.99,358.14 337.49,357.79 337.99,357.62 338.49,357.82 338.99,357.91 339.49,358.22 339.99,357.81 340.49,357.56 340.99,358.15 341.49,357.63 341.99,357.88 342.49,358.14 342.99,357.91 343.49,357.86 343.99,358.11 344.49,357.56 344.99,357.95 345.49,357.84 345.99,358.24 346.49,358.11 346.99,357.59 347.49,357.68 347.99,357.87 348.49,358.04 348.99,357.78 349.49,357.8 349.99,358.2 350.49,358.22 350.99,357.84 351.49,358.18 351.99,357.78 352.49,357.61 352.99,357.92 353.49,358.01 353.99,358.18 354.49,358.23 354.99,358.09 355.49,358.08 355.99,358.05 356.49,358.04 356.99,358.09 357.49,358.23 357.99,357.81 358.49,357.61 358.99,357.72 359.49,357.71 359.99,357.8 360.49,358.12 360.99,357.59 361.49,357.86 361.99,358.12 362.49,357.73 362.99,357.59 363.49,357.72 363.99,357.61 364.49,358.12 364.99,357.67 365.49,357.69 365.99,358.12 366.49,358.12 366.99,357.96 367.49,358.19 367.99,357.59 368.49,358.23 368.99,357.95 369.49,357.76 369.99,358.13 370.49,358.01 370.99,358.24 371.49,357.63 371.99,357.96 372.49,357.88 372.99,358.01 373.49,357.72 373.99,357.57 374.49,357.93 374.99,357.81 375.49,358.17 375.99,357.87 376.49,357.84 376.99,357.99 377.49,357.92 377.99,358.22 378.49,358.1 378.99,357.9 379.49,357.7 379.99,357.97 380.49,358.07 380.99,358.08 381.49,358.25 381.99,357.7 382.49,357.85 382.99,357.85 383.49,357.77 383.99,357.81 384.49,357.88 384.99,357.93 385.49,357.74 385.99,357.64 386.49,357.76 386.99,357.65 387.49,357.77 387.99,358.03 388.49,357.97 388.99,358.25 389.49,357.94 389.99,357.93 390.49,358 390.99,358.06 391.49,357.98 391.99,357.96 392.49,357.97 392.99,357.8 393.49,358.09 393.99,357.97 394.49,357.77 394.99,357.72 395.49,357.6 395.99,357.79 396.49,357.56 396.99,357.67 397.49,357.59 397.99,357.74 398.49,357.79 398.99,357.96 399.49,358.09 399.99,357.99 400.49,357.66 400.99,358.18 401.49,358.06 401.99,357.9 402.49,358 402.99,357.91 403.49,357.67 403.99,358 404.49,358.24 404.99,358.09 405.49,357.68 405.99,357.63 406.49,358.2 406.99,358.19 407.49,358.07 407.99,358.08 408.49,357.65 408.99,358.12 409.49,357.68 409.99,357.66 410.49,357.83 410.99,357.55 411.49,358.14 411.99,357.66 412.49,358.07 412.99,357.96 413.49,358.09 413.99,357.97 414.49,358.22 414.99,357.82 415.49,357.9 415.99,357.79 416.49,358.07 416.99,357.76 417.49,358.11 417.99,357.61 418.49,357.71 418.99,357.86 419.49,357.64 419.99,357.69 420.49,358.14 420.99,357.81 421.49,357.7 421.99,358.14 422.49,357.95 422.99,357.99 423.49,358.17 423.99,358.05 424.49,357.74 424.99,357.56 425.49,357.93 425.99,358.05 426.49,358.11 426.99,357.68 427.49,357.99 427.99,358.21 428.49,357.73 428.99,357.75 429.49,357.85 429.99,357.95 430.49,358.24 430.99,357.96 431.49,358.17 431.99,358.01 432.49,357.88 432.99,357.76 433.49,357.8 433.99,358.09 434.49,357.67 434.99,357.65 435.49,357.7 435.99,358.02 436.49,357.81 436.99,357.69 437.49,357.78 437.99,357.61 438.49,357.86 438.99,358.12 439.49,357.86 439.99,357.86 440.49,357.57 440.99,357.75 441.49,357.6 441.99,357.58 442.49,358.15 442.99,358.05 443.49,358.13 443.99,357.64 444.49,357.81 444.99,358.19 445.49,357.85 445.99,358.2 446.49,358.22 446.99,357.55 447.49,357.85 447.99,357.96 448.49,357.79 448.99,357.81 449.49,357.8 449.99,357.71 450.49,357.57 450.99,358.06 451.49,358.25 451.99,357.58 452.49,358.15 452.99,357.93 453.49,357.56 453.99,357.6 454.49,357.92 454.99,357.62 455.49,357.76 455.99,357.74 456.49,358.23 456.99,357.88 457.49,357.75 457.99,358.21 458.49,358.23 458.99,358.05 459.49,357.65 459.99,358.17 460.49,357.86 460.99,358.1 461.49,358.06 461.99,358.01 462.49,358.09 462.99,358.12 463.49,357.87 463.99,357.89 464.49,357.62 464.99,357.81 465.49,358.17 465.99,357.7 466.49,358.07 466.99,358.11 467.49,357.69 467.99,358.09 468.49,358.01 468.99,358.23 469.49,357.82 469.49,361.28 468.99,361.1 468.49,360.95 467.99,360.8 467.49,360.87 466.99,361.32 466.49,361.1 465.99,361.09 465.49,361.03 464.99,360.67 464.49,361.1 463.99,361.13 463.49,361.19 462.99,361.24 462.49,360.65 461.99,361 461.49,360.85 460.99,361.25 460.49,361.38 459.99,360.98 459.49,360.83 458.99,360.75 458.49,360.77 457.99,361.16 457.49,361.33 456.99,360.77 456.49,361.32 455.99,360.91 455.49,361.05 454.99,360.93 454.49,361.23 453.99,360.76 453.49,361.14 452.99,360.92 452.49,361.07 451.99,361.34 451.49,360.92 450.99,360.84 450.49,361.09 449.99,361.32 449.49,361.05 448.99,360.87 448.49,361.39 447.99,361.04 447.49,361.32 446.99,361.18 446.49,361.26 445.99,361.31 445.49,360.86 444.99,360.67 444.49,360.96 443.99,361.4 443.49,360.71 442.99,360.78 442.49,361.47 441.99,360.74 441.49,361.14 440.99,360.98 440.49,361.01 439.99,360.91 439.49,361.09 438.99,360.94 438.49,361.23 437.99,360.9 437.49,360.79 436.99,360.98 436.49,360.74 435.99,361.32 435.49,361.47 434.99,361.12 434.49,360.7 433.99,360.87 433.49,361.19 432.99,361.42 432.49,361.24 431.99,361.44 431.49,360.83 430.99,360.8 430.49,360.83 429.99,361.07 429.49,361.07 428.99,361.21 428.49,361.33 427.99,361.21 427.49,361.26 426.99,361 426.49,361.26 425.99,360.94 425.49,361.48 424.99,360.95 424.49,361.15 423.99,360.96 423.49,361.44 422.99,361.06 422.49,361.29 421.99,360.92 421.49,361.24 420.99,360.76 420.49,360.87 419.99,361.07 419.49,361.02 418.99,360.76 418.49,361.08 417.99,360.87 417.49,360.78 416.99,361.5 416.49,361.33 415.99,361.11 415.49,361.3 414.99,361.03 414.49,361.25 413.99,361.49 413.49,361.38 412.99,361.52 412.49,360.9 411.99,361.5 411.49,360.82 410.99,361.1 410.49,361.36 409.99,360.79 409.49,361.31 408.99,360.77 408.49,361.39 407.99,361.38 407.49,361.52 406.99,361.47 406.49,361.15 405.99,361.43 405.49,361.16 404.99,360.95 404.49,360.88 403.99,361.07 403.49,361.03 402.99,361.34 402.49,361.17 401.99,361.29 401.49,361.22 400.99,360.92 400.49,360.96 399.99,361.04 399.49,360.85 398.99,360.79 398.49,361.4 397.99,361.28 397.49,360.99 396.99,361.54 396.49,361.19 395.99,361.52 395.49,361.56 394.99,361.39 394.49,361.1 393.99,360.86 393.49,361.26 392.99,361.38 392.49,361.28 391.99,361.15 391.49,360.89 390.99,360.87 390.49,361.25 389.99,360.94 389.49,361.43 388.99,361.28 388.49,361.41 387.99,361 387.49,361.03 386.99,361.11 386.49,361.11 385.99,360.98 385.49,361.47 384.99,360.95 384.49,361.12 383.99,361 383.49,361.43 382.99,360.86 382.49,361.54 381.99,361.07 381.49,361.5 380.99,361 380.49,361.59 379.99,361.45 379.49,361 378.99,361.41 378.49,361.01 377.99,361.63 377.49,361.39 376.99,360.85 376.49,361.39 375.99,361.45 375.49,361.41 374.99,361.2 374.49,360.93 373.99,361.28 373.49,361.5 372.99,361.31 372.49,361.58 371.99,361.57 371.49,361.33 370.99,361.19 370.49,361.03 369.99,361.24 369.49,361.59 368.99,361.07 368.49,361.63 367.99,361.63 367.49,361.45 366.99,361.3 366.49,361.47 365.99,361.51 365.49,361.29 364.99,361.54 364.49,360.94 363.99,360.89 363.49,361.22 362.99,360.98 362.49,361.21 361.99,361.41 361.49,361.51 360.99,361.31 360.49,361.4 359.99,361.21 359.49,361.51 358.99,360.9 358.49,361.18 357.99,361.09 357.49,361 356.99,361.5 356.49,361.19 355.99,360.98 355.49,361.3 354.99,361.38 354.49,361.1 353.99,361.5 353.49,361.58 352.99,361.06 352.49,361.08 351.99,360.94 351.49,361.24 350.99,360.96 350.49,361.54 349.99,360.99 349.49,361.05 348.99,361.52 348.49,361.42 347.99,361.33 347.49,361.14 346.99,361.51 346.49,360.94 345.99,361.19 345.49,361.29 344.99,361.6 344.49,361.71 343.99,361.11 343.49,361.21 342.99,361.42 342.49,360.95 341.99,361.28 341.49,361.4 340.99,361.08 340.49,361.49 339.99,361.22 339.49,361.01 338.99,361.69 338.49,361.15 337.99,361.17 337.49,361.09 336.99,361.65 336.49,360.97 335.99,361.17 335.49,361.2 334.99,361.66 334.49,361.32 333.99,361.51 333.49,361.12 332.99,361.71 332.49,361.64 331.99,361.31 331.49,361.13 330.99,361.15 330.49,361.63 329.99,361.52 329.49,361.35 328.99,361.37 328.49,361.73 327.99,361.07 327.49,361.18 326.99,361.71 326.49,361.26 325.99,361.02 325.49,361.13 324.99,361.22 324.49,361.03 323.99,361.7 323.49,361.53 322.99,361.39 322.49,361.72 321.99,361.3 321.49,361.77 320.99,361.16 320.49,361.52 319.99,361.64 319.49,361.79 318.99,361.56 318.49,361.43 317.99,361.57 317.49,361.78 316.99,361.18 316.49,361.65 315.99,361.51 315.49,361.5 314.99,361.92 314.49,361.94 313.99,361.91 313.49,361.74 312.99,361.82 312.49,361.98 311.99,361.5 311.49,362.22 310.99,361.92 310.49,362.19 309.99,361.84 309.49,362.26 308.99,362.27 308.49,362.22 307.99,361.89 307.49,361.86 306.99,361.92 306.49,361.81 305.99,361.94 305.49,362.08 304.99,362.17 304.49,361.82 303.99,362.18 303.49,362.1 302.99,362.35 302.49,362.26 301.99,362.6 301.49,362.33 300.99,362.21 300.49,362.59 299.99,362.24 299.49,362.71 298.99,362.26 298.49,362.6 297.99,362.39 297.49,362.3 296.99,362.45 296.49,362.85 295.99,362.81" fill="#d20f16" stroke="none" stroke-width="0" />
<circle cx="422.64" cy="361.82" r="0.5" fill="#d20f16" stroke="none" stroke-width="0.5" />
<circle cx="364.29" cy="362.1" r="0.5" fill="#d20f16" stroke="none" stroke-width="0.5" />
<circle cx="361.15" cy="361.71" r="0.5" fill="#d20f16" stroke="none" stroke-width="0.5" />
<circle cx="303.03" cy="361.81" r="0.5" fill="#d20f16" stroke="none" stroke-width="0.5" />
<circle cx="333.82" cy="362.36" r="0.5" fill="#d20f16" stroke="none" stroke-width="0.5" />
<circle cx="315.26" cy="361.25" r="0.5" fill="#d20f16" stroke="none" stroke-width="0.5" />
<circle cx="385.32" cy="362.38" r="0.5" fill="#d20f16" stroke="none" stroke-width="0.5" />
<circle cx="345.2" cy="361.36" r="0.5" fill="#d20f16" stroke="none" stroke-width="0.5" />
<circle cx="314.94" cy="361.2" r="0.5" fill="#d20f16" stroke="none" stroke-width="0.5" />
<circle cx="401.59" cy="361.62" r="0.5" fill="#d20f16" stroke="none" stroke-width="0.5" />
<circle cx="435.3" cy="361.47" r="0.5" fill="#d20f16" stroke="none" stroke-width="0.5" />
<circle cx="390.42" cy="361.27" r="0.5" fill="#d20f16" stroke="none" stroke-width="0.5" />
<circle cx="353.28" cy="362.29" r="0.5" fill="#d20f16" stroke="none" stroke-width="0.5" />
<circle cx="399.57" cy="361.76" r="0.5" fill="#d20f16" stroke="none" stroke-width="0.5" />
<circle cx="453.64" cy="361.62" r="0.5" fill="#d20f16" stroke="none" stroke-width="0.5" />
<circle cx="311.96" cy="361.75" r="0.5" fill="#d20f16" stroke="none" stroke-width="0.5" />
<circle cx="397.21" cy="362.16" r="0.5" fill="#d20f16" stroke="none" stroke-width="0.5" />
<circle cx="360.79" cy="361.82" r="0.5" fill="#d20f16" stroke="none" stroke-width="0.5" />
<circle cx="446.61" cy="361.96" r="0.5" fill="#d20f16" stroke="none" stroke-width="0.5" />
<circle cx="345.15" cy="362.32" r="0.5" fill="#d20f16" stroke="none" stroke-width="0.5" />
<circle cx="394" cy="362.21" r="0.5" fill="#d20f16" stroke="none" stroke-width="0.5" />
<circle cx="433.07" cy="362.01" r="0.5" fill="#d20f16" stroke="none" stroke-width="0.5" />
<circle cx="349.32" cy="361.98" r="0.5" fill="#d20f16" stroke="none" stroke-width="0.5" />
<circle cx="319.04" cy="362" r="0.5" fill="#d20f16" stroke="none" stroke-width="0.5" />
<circle cx="386.65" cy="361.59" r="0.5" fill="#d20f16" stroke="none" stroke-width="0.5" />
<circle cx="294.04" cy="376.48" r="0.9" fill="#f08a26" stroke="none" stroke-width="0.5" />
<circle cx="374.87" cy="361.6" r="1" fill="#f08a26" stroke="none" stroke-width="0.5" />
<polyline points="293.7,427.09 293.88,389.73 294.07,375.89 294.25,370.7 294.44,368.51 294.62,367.4 294.8,366.68 294.99,366.14 295.17,365.68 295.36,365.29 295.54,364.93 295.72,364.62 295.91,364.34 296.09,364.08 296.28,363.85 296.46,363.65 296.65,363.47 296.83,363.3 297.01,363.15 297.2,363.02 297.38,362.9 297.57,362.79 297.75,362.7 297.93,362.61 298.12,362.53 298.3,362.46 298.49,362.4 298.67,362.34 298.85,362.29 299.04,362.25 299.22,362.2 299.41,362.17 299.59,362.13 299.77,362.11 299.96,362.08 300.14,362.05 300.33,362.03 300.51,362.01 300.69,362 300.88,361.98 301.06,361.97 301.25,361.95 301.43,361.94 301.62,361.93 301.8,361.92 301.98,361.92 302.17,361.91 302.35,361.9 302.54,361.9 302.72,361.89 302.9,361.89 303.09,361.88 303.27,361.88 303.46,361.87 303.64,361.87 303.82,361.87 304.01,361.87 304.19,361.86 304.38,361.86 304.56,361.86" fill="none" stroke="#2f80d0" stroke-width="1.6" stroke-linejoin="round" />
<polyline points="295.17,365.98 295.36,365.59 295.54,365.23 295.72,364.92 295.91,364.64 296.09,364.38 296.28,364.15 296.46,363.95 296.65,363.77 296.83,363.6 297.01,363.45 297.2,363.32 297.38,363.2 297.57,363.09 297.75,363 297.93,362.91 298.12,362.83 298.3,362.76 298.49,362.7 298.67,362.64 298.85,362.59 299.04,362.55 299.22,362.5 299.41,362.47 299.59,362.43 299.77,362.41 299.96,362.38 300.14,362.35 300.33,362.33 300.51,362.31 300.69,362.3 300.88,362.28 301.06,362.27 301.25,362.25 301.43,362.24 301.62,362.23 301.8,362.22 301.98,362.22 302.17,362.21 302.35,362.2 302.54,362.2 302.72,362.19 302.9,362.19 303.09,362.18 303.27,362.18 303.46,362.17 303.64,362.17 303.82,362.17 304.01,362.17 304.19,362.16 304.38,362.16 304.56,362.16" fill="none" stroke="#2f80d0" stroke-width="3.0" stroke-linejoin="round" />
<line x1="293.93" y1="423.47" x2="293.93" y2="369.25" stroke="#4a98da" stroke-width="0.6" />
<line x1="304.4" y1="351" x2="304.4" y2="362.02" stroke="#4a98da" stroke-width="0.6" />
<circle cx="293.93" cy="423.47" r="1.1" fill="#2f80d0" stroke="none" stroke-width="0.5" />
<circle cx="294.16" cy="420.58" r="1.1" fill="#d20f16" stroke="none" stroke-width="0.5" />
<circle cx="294.27" cy="418.41" r="1" fill="#f08a26" stroke="none" stroke-width="0.5" />
<circle cx="303.99" cy="362.02" r="1.6" fill="#2f80d0" stroke="none" stroke-width="0.5" />
<line x1="460.2" y1="351" x2="460.2" y2="379.6" stroke="#d20f16" stroke-width="0.6" />
<line x1="469" y1="351" x2="469" y2="430.7" stroke="#d20f16" stroke-width="1.0" />
<rect x="468" y="351" width="2.6" height="9.6" fill="#d20f16" stroke="none" stroke-width="0.7" />
<circle cx="470.8" cy="364.8" r="1.3" fill="#d20f16" stroke="none" stroke-width="0.5" />
</g>
<line x1="293.5" y1="351" x2="534.5" y2="351" stroke="#3a3a3a" stroke-width="1.0" stroke-linecap="square"/>
<line x1="293.5" y1="430.5" x2="534.5" y2="430.5" stroke="#3a3a3a" stroke-width="1.0" stroke-linecap="square"/>
<line x1="293.5" y1="351" x2="293.5" y2="430.5" stroke="#3a3a3a" stroke-width="1.0" stroke-linecap="square"/>
<line x1="534.5" y1="351" x2="534.5" y2="430.5" stroke="#3a3a3a" stroke-width="1.0" stroke-linecap="square"/>
<line x1="293.5" y1="430.5" x2="291.3" y2="430.5" stroke="#333" stroke-width="0.9" />
<text x="288.7" y="432.87" font-size="5.6" text-anchor="end" fill="#222" stroke="#222" >80</text>
<line x1="293.5" y1="412.5" x2="291.3" y2="412.5" stroke="#333" stroke-width="0.9" />
<text x="288.7" y="414.87" font-size="5.6" text-anchor="end" fill="#222" stroke="#222" >85</text>
<line x1="293.5" y1="394.5" x2="291.3" y2="394.5" stroke="#333" stroke-width="0.9" />
<text x="288.7" y="396.87" font-size="5.6" text-anchor="end" fill="#222" stroke="#222" >90</text>
<line x1="293.5" y1="376.5" x2="291.3" y2="376.5" stroke="#333" stroke-width="0.9" />
<text x="288.7" y="378.87" font-size="5.6" text-anchor="end" fill="#222" stroke="#222" >95</text>
<line x1="293.5" y1="358.5" x2="291.3" y2="358.5" stroke="#333" stroke-width="0.9" />
<text x="288.7" y="360.87" font-size="5.6" text-anchor="end" fill="#222" stroke="#222" >100</text>
<line x1="293.5" y1="421.5" x2="292.2" y2="421.5" stroke="#333" stroke-width="0.8" />
<line x1="293.5" y1="403.5" x2="292.2" y2="403.5" stroke="#333" stroke-width="0.8" />
<line x1="293.5" y1="385.5" x2="292.2" y2="385.5" stroke="#333" stroke-width="0.8" />
<line x1="293.5" y1="367.5" x2="292.2" y2="367.5" stroke="#333" stroke-width="0.8" />
<line x1="293.5" y1="430.5" x2="293.5" y2="432.7" stroke="#333" stroke-width="0.9" />
<text x="293.5" y="439.8" font-size="5.6" text-anchor="middle" fill="#222" stroke="#222" >0</text>
<line x1="350.5" y1="430.5" x2="350.5" y2="432.7" stroke="#333" stroke-width="0.9" />
<text x="350.5" y="439.8" font-size="5.6" text-anchor="middle" fill="#222" stroke="#222" >500</text>
<line x1="408.5" y1="430.5" x2="408.5" y2="432.7" stroke="#333" stroke-width="0.9" />
<text x="408.5" y="439.8" font-size="5.6" text-anchor="middle" fill="#222" stroke="#222" >1000</text>
<line x1="465.5" y1="430.5" x2="465.5" y2="432.7" stroke="#333" stroke-width="0.9" />
<text x="465.5" y="439.8" font-size="5.6" text-anchor="middle" fill="#222" stroke="#222" >1500</text>
<line x1="522.5" y1="430.5" x2="522.5" y2="432.7" stroke="#333" stroke-width="0.9" />
<text x="522.5" y="439.8" font-size="5.6" text-anchor="middle" fill="#222" stroke="#222" >2000</text>
<line x1="322.5" y1="430.5" x2="322.5" y2="431.8" stroke="#333" stroke-width="0.8" />
<line x1="379.5" y1="430.5" x2="379.5" y2="431.8" stroke="#333" stroke-width="0.8" />
<line x1="436.5" y1="430.5" x2="436.5" y2="431.8" stroke="#333" stroke-width="0.8" />
<line x1="493.5" y1="430.5" x2="493.5" y2="431.8" stroke="#333" stroke-width="0.8" />
<text x="278.2" y="390.3" font-size="5.85" text-anchor="middle" fill="#222" stroke="#222" transform="rotate(-90 278.2 390.3)">Coulombic efficiency (%)</text>
<text x="413.9" y="446.6" font-size="5.5" text-anchor="middle" fill="#222" stroke="#222" >Cycle number</text>
<line x1="310" y1="377.5" x2="322.7" y2="377.5" stroke="#f5a050" stroke-width="0.8" />
<circle cx="316.4" cy="377.5" r="1.55" fill="#f08a26" stroke="none" stroke-width="0.5" />
<text x="324.7" y="379.6" font-size="5.9" text-anchor="start" fill="#222" stroke="#222" >ZnSO<tspan font-size="70%" dy="1.4">4</tspan><tspan dy="-1.4">​</tspan>/FU</text>
<line x1="310" y1="385.6" x2="322.7" y2="385.6" stroke="#ee7070" stroke-width="0.8" />
<circle cx="316.4" cy="385.6" r="1.55" fill="#d20f16" stroke="none" stroke-width="0.5" />
<text x="324.7" y="387.7" font-size="5.9" text-anchor="start" fill="#222" stroke="#222" >ZnSO<tspan font-size="70%" dy="1.4">4</tspan><tspan dy="-1.4">​</tspan>/MA</text>
<line x1="310" y1="393.7" x2="322.7" y2="393.7" stroke="#6aaee6" stroke-width="0.8" />
<circle cx="316.4" cy="393.7" r="1.55" fill="#1f6fb8" stroke="none" stroke-width="0.5" />
<text x="324.7" y="395.8" font-size="5.9" text-anchor="start" fill="#222" stroke="#222" >ZnSO<tspan font-size="70%" dy="1.4">4</tspan><tspan dy="-1.4">​</tspan></text>
<text x="479.6" y="415" font-size="5.5" text-anchor="middle" fill="#222" stroke="#222" >Zn||Cu</text>
<text x="479" y="424.8" font-size="5.5" text-anchor="middle" fill="#222" stroke="#222" >1 mA cm<tspan font-size="70%" dy="-1.8">−2</tspan><tspan dy="1.8">​</tspan> @ 1 mAh cm<tspan font-size="70%" dy="-1.8">−2</tspan><tspan dy="1.8">​</tspan></text>
<text x="538.1" y="345.6" font-size="12.4" text-anchor="start" fill="#111" stroke="#111" >i</text>
<g clip-path="url(#clipI)">
<polyline points="561.56,411.68 613.45,411.98 667.5,412.38" fill="none" stroke="#f4a062" stroke-width="0.6" stroke-linejoin="round" />
<polyline points="561.56,411.68 613.45,411.98 667.5,412.38" fill="none" stroke="#dc4454" stroke-width="0.6" stroke-linejoin="round" />
<polyline points="561.56,411.68 613.45,411.98 667.5,412.38" fill="none" stroke="#b0c8ea" stroke-width="0.6" stroke-linejoin="round" />
<polyline points="561.56,411.68 613.45,411.98 667.5,412.38" fill="none" stroke="#5a9ee6" stroke-width="0.6" stroke-linejoin="round" />
<polyline points="561.56,407.95 564.91,407.91 568.26,407.87 571.6,407.84 574.95,407.8 578.3,407.76 581.65,407.73 584.99,407.69 588.34,407.65 591.69,407.61 595.04,407.58 598.38,407.54 601.73,407.5 605.08,407.47 608.43,407.43 611.77,407.39 615.12,407.35 618.47,407.32 621.81,407.28 625.16,407.24 628.51,407.2 631.86,407.17 635.2,407.13 638.55,407.09 641.9,407.06 645.25,407.02 648.59,406.97 651.94,406.89 655.29,406.65 658.64,405.67 659.41,397.56 661.23,359.51" fill="none" stroke="#f4a062" stroke-width="0.6" stroke-linejoin="round" />
<polyline points="561.56,408.15 565.07,408.11 568.58,408.07 572.1,408.03 575.61,407.99 579.12,407.95 582.63,407.92 586.14,407.88 589.65,407.84 593.16,407.8 596.68,407.76 600.19,407.72 603.7,407.68 607.21,407.64 610.72,407.6 614.23,407.56 617.74,407.52 621.26,407.49 624.77,407.45 628.28,407.41 631.79,407.37 635.3,407.33 638.81,407.29 642.32,407.25 645.84,407.21 649.35,407.17 652.86,407.13 656.37,407.05 659.88,406.82 663.39,405.82 664.07,397.56 665.66,359.51" fill="none" stroke="#dc4454" stroke-width="0.6" stroke-linejoin="round" />
<polyline points="561.56,408.55 565.19,408.51 568.82,408.47 572.44,408.43 576.07,408.39 579.7,408.35 583.32,408.31 586.95,408.27 590.58,408.23 594.2,408.19 597.83,408.15 601.46,408.11 605.09,408.07 608.71,408.03 612.34,407.99 615.97,407.95 619.59,407.9 623.22,407.86 626.85,407.82 630.47,407.78 634.1,407.74 637.73,407.7 641.35,407.66 644.98,407.62 648.61,407.58 652.24,407.54 655.86,407.49 659.49,407.42 663.12,407.2 666.74,406.18 666.94,397.56 667.39,359.51" fill="none" stroke="#b0c8ea" stroke-width="0.6" stroke-linejoin="round" />
<polyline points="561.56,408.35 565.16,408.31 568.76,408.27 572.35,408.23 575.95,408.19 579.55,408.15 583.14,408.11 586.74,408.07 590.34,408.03 593.94,407.99 597.53,407.95 601.13,407.91 604.73,407.87 608.32,407.83 611.92,407.79 615.52,407.75 619.12,407.71 622.71,407.67 626.31,407.63 629.91,407.59 633.5,407.55 637.1,407.51 640.7,407.47 644.3,407.43 647.89,407.39 651.49,407.35 655.09,407.3 658.68,407.23 662.28,407 665.88,405.99 666.2,397.56 666.96,359.51" fill="none" stroke="#5a9ee6" stroke-width="0.6" stroke-linejoin="round" />
</g>
<line x1="559.5" y1="349.5" x2="667.5" y2="349.5" stroke="#3a3a3a" stroke-width="1.0" stroke-linecap="square"/>
<line x1="559.5" y1="429.5" x2="667.5" y2="429.5" stroke="#3a3a3a" stroke-width="1.0" stroke-linecap="square"/>
<line x1="559.5" y1="349.5" x2="559.5" y2="429.5" stroke="#3a3a3a" stroke-width="1.0" stroke-linecap="square"/>
<line x1="667.5" y1="349.5" x2="667.5" y2="429.5" stroke="#3a3a3a" stroke-width="1.0" stroke-linecap="square"/>
<line x1="559.5" y1="429.5" x2="557.3" y2="429.5" stroke="#333" stroke-width="0.9" />
<text x="554.7" y="431.87" font-size="5.6" text-anchor="end" fill="#222" stroke="#222" >-0.2</text>
<line x1="559.5" y1="409.5" x2="557.3" y2="409.5" stroke="#333" stroke-width="0.9" />
<text x="554.7" y="411.87" font-size="5.6" text-anchor="end" fill="#222" stroke="#222" >0.0</text>
<line x1="559.5" y1="389.5" x2="557.3" y2="389.5" stroke="#333" stroke-width="0.9" />
<text x="554.7" y="391.87" font-size="5.6" text-anchor="end" fill="#222" stroke="#222" >0.2</text>
<line x1="559.5" y1="369.5" x2="557.3" y2="369.5" stroke="#333" stroke-width="0.9" />
<text x="554.7" y="371.87" font-size="5.6" text-anchor="end" fill="#222" stroke="#222" >0.4</text>
<line x1="559.5" y1="349.5" x2="557.3" y2="349.5" stroke="#333" stroke-width="0.9" />
<text x="554.7" y="351.87" font-size="5.6" text-anchor="end" fill="#222" stroke="#222" >0.6</text>
<line x1="559.5" y1="419.5" x2="558.2" y2="419.5" stroke="#333" stroke-width="0.8" />
<line x1="559.5" y1="399.5" x2="558.2" y2="399.5" stroke="#333" stroke-width="0.8" />
<line x1="559.5" y1="379.5" x2="558.2" y2="379.5" stroke="#333" stroke-width="0.8" />
<line x1="559.5" y1="359.5" x2="558.2" y2="359.5" stroke="#333" stroke-width="0.8" />
<line x1="559.5" y1="429.5" x2="559.5" y2="431.7" stroke="#333" stroke-width="0.9" />
<text x="559.5" y="438.7" font-size="5.6" text-anchor="middle" fill="#222" stroke="#222" >0.0</text>
<line x1="581.5" y1="429.5" x2="581.5" y2="431.7" stroke="#333" stroke-width="0.9" />
<text x="581.5" y="438.7" font-size="5.6" text-anchor="middle" fill="#222" stroke="#222" >0.2</text>
<line x1="602.5" y1="429.5" x2="602.5" y2="431.7" stroke="#333" stroke-width="0.9" />
<text x="602.5" y="438.7" font-size="5.6" text-anchor="middle" fill="#222" stroke="#222" >0.4</text>
<line x1="624.5" y1="429.5" x2="624.5" y2="431.7" stroke="#333" stroke-width="0.9" />
<text x="624.5" y="438.7" font-size="5.6" text-anchor="middle" fill="#222" stroke="#222" >0.6</text>
<line x1="645.5" y1="429.5" x2="645.5" y2="431.7" stroke="#333" stroke-width="0.9" />
<text x="645.5" y="438.7" font-size="5.6" text-anchor="middle" fill="#222" stroke="#222" >0.8</text>
<line x1="667.5" y1="429.5" x2="667.5" y2="431.7" stroke="#333" stroke-width="0.9" />
<text x="667.5" y="438.7" font-size="5.6" text-anchor="middle" fill="#222" stroke="#222" >1.0</text>
<line x1="570.5" y1="429.5" x2="570.5" y2="430.8" stroke="#333" stroke-width="0.8" />
<line x1="591.5" y1="429.5" x2="591.5" y2="430.8" stroke="#333" stroke-width="0.8" />
<line x1="613.5" y1="429.5" x2="613.5" y2="430.8" stroke="#333" stroke-width="0.8" />
<line x1="635.5" y1="429.5" x2="635.5" y2="430.8" stroke="#333" stroke-width="0.8" />
<line x1="656.5" y1="429.5" x2="656.5" y2="430.8" stroke="#333" stroke-width="0.8" />
<text x="543.8" y="389.6" font-size="5.8" text-anchor="middle" fill="#222" stroke="#222" transform="rotate(-90 543.8 389.6)">Voltage (V)</text>
<text x="613.5" y="444.8" font-size="5.5" text-anchor="middle" fill="#222" stroke="#222" >Capacity (mAh cm<tspan font-size="70%" dy="-1.8">−2</tspan><tspan dy="1.8">​</tspan>)</text>
<line x1="567.7" y1="358.4" x2="580.4" y2="358.4" stroke="#f4a062" stroke-width="0.8" />
<text x="582" y="360.4" font-size="5.7" text-anchor="start" fill="#222" stroke="#222" >2nd cycle</text>
<line x1="567.7" y1="365.3" x2="580.4" y2="365.3" stroke="#dc4454" stroke-width="0.8" />
<text x="582" y="367.3" font-size="5.7" text-anchor="start" fill="#222" stroke="#222" >10th cycle</text>
<line x1="567.7" y1="372.2" x2="580.4" y2="372.2" stroke="#5a9ee6" stroke-width="0.8" />
<text x="582" y="374.2" font-size="5.7" text-anchor="start" fill="#222" stroke="#222" >50th cycle</text>
<line x1="567.7" y1="379.1" x2="580.4" y2="379.1" stroke="#b0c8ea" stroke-width="0.8" />
<text x="582" y="381.1" font-size="5.7" text-anchor="start" fill="#222" stroke="#222" >100th cycle</text>
</svg></body></html>
